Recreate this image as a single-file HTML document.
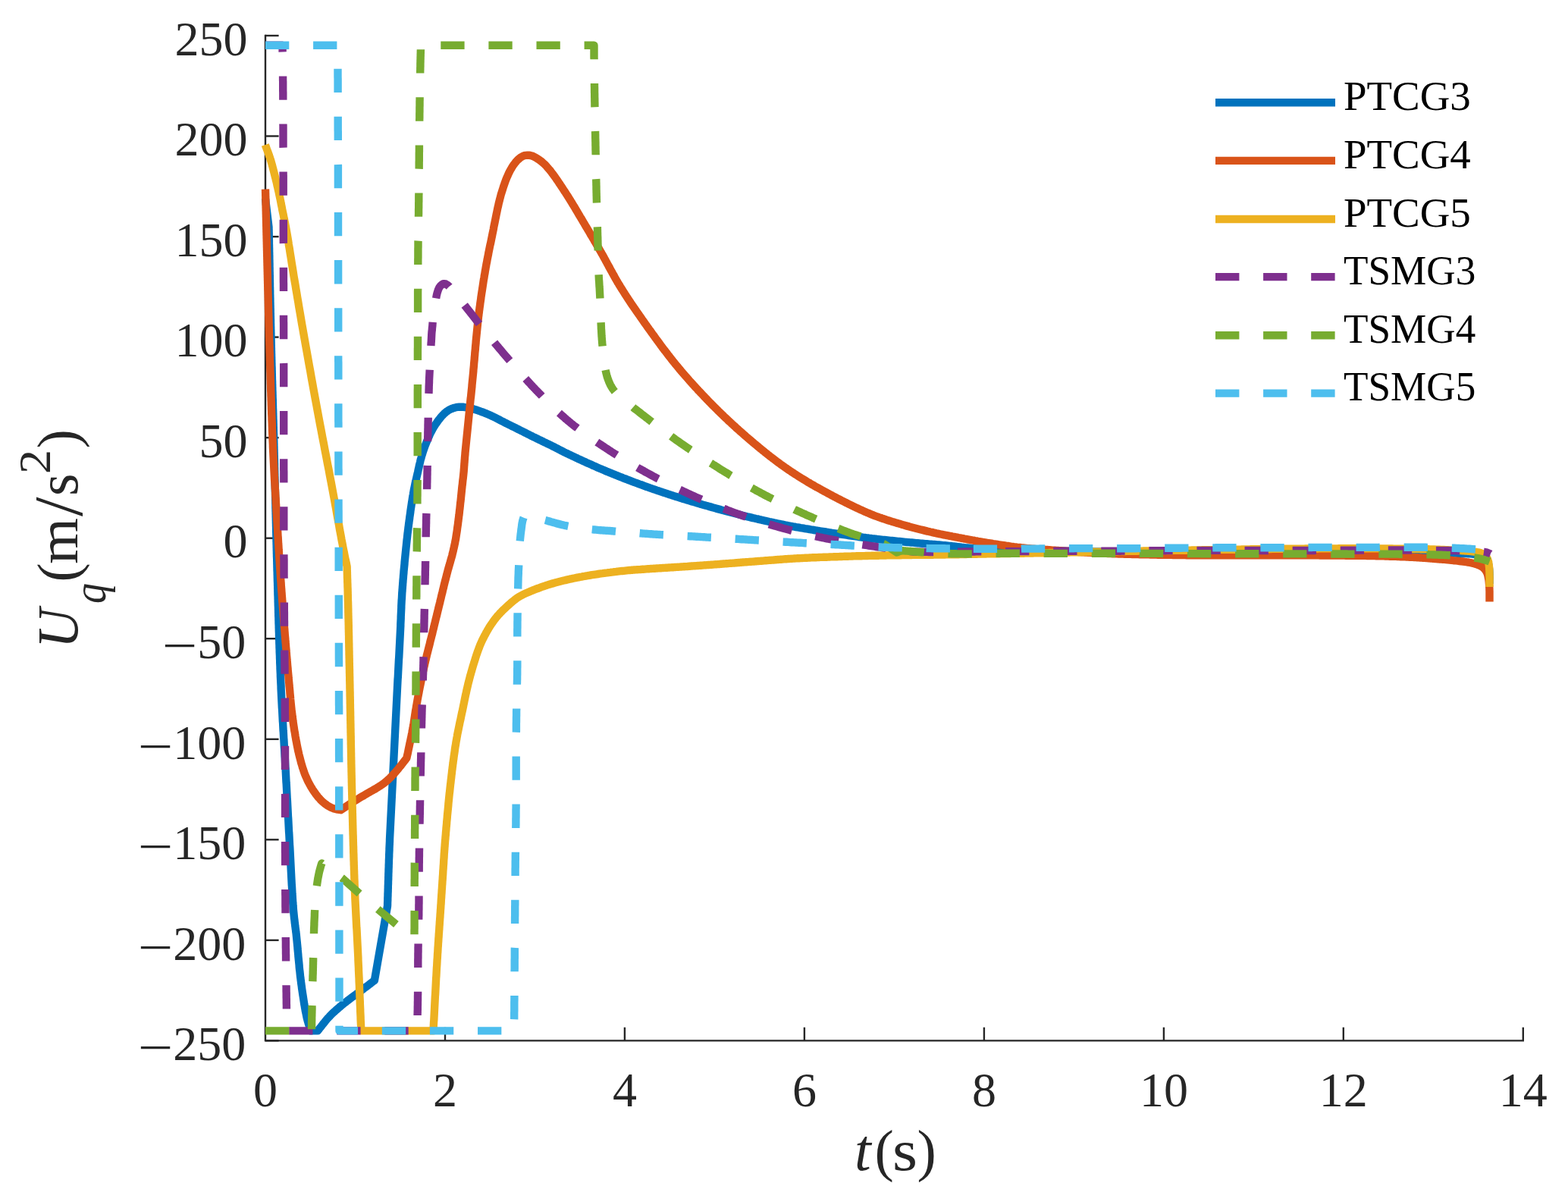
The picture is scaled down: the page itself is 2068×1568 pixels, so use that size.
<!DOCTYPE html>
<html lang="en"><head><meta charset="utf-8"><title>Uq(m/s2) versus t(s)</title>
<style>html,body{margin:0;padding:0;background:#fff}body{width:2068px;height:1568px;overflow:hidden}svg{display:block}</style></head>
<body>
<svg width="2068" height="1568" viewBox="0 0 2068 1568">
<rect width="2068" height="1568" fill="#fff"/>
<g stroke="#262626" stroke-width="2.4" fill="none" stroke-linecap="square">
<path d="M350.0,47.0 L350.0,1372.4 L2008.8,1372.4"/>
</g>
<g stroke="#262626" stroke-width="2.4" fill="none">
<path d="M350.0,47.0 h17.6"/>
<path d="M350.0,179.5 h17.6"/>
<path d="M350.0,312.1 h17.6"/>
<path d="M350.0,444.6 h17.6"/>
<path d="M350.0,577.2 h17.6"/>
<path d="M350.0,709.7 h17.6"/>
<path d="M350.0,842.2 h17.6"/>
<path d="M350.0,974.8 h17.6"/>
<path d="M350.0,1107.3 h17.6"/>
<path d="M350.0,1239.9 h17.6"/>
<path d="M350.0,1372.4 h17.6"/>
<path d="M587.0,1372.4 v-17.6"/>
<path d="M823.9,1372.4 v-17.6"/>
<path d="M1060.9,1372.4 v-17.6"/>
<path d="M1297.9,1372.4 v-17.6"/>
<path d="M1534.9,1372.4 v-17.6"/>
<path d="M1771.8,1372.4 v-17.6"/>
<path d="M2008.8,1372.4 v-17.6"/>
</g>
<g font-family="'Liberation Serif', serif" font-size="64" fill="#262626">
<text x="230.4" y="72.7">250</text>
<text x="230.4" y="205.2">200</text>
<text x="230.4" y="337.8">150</text>
<text x="230.4" y="470.3">100</text>
<text x="262.4" y="602.9">50</text>
<text x="294.4" y="735.4">0</text>
<text y="867.9"><tspan x="213.7" dy="5.2" textLength="46.5" lengthAdjust="spacingAndGlyphs">−</tspan><tspan x="260.2" dy="-5.2">50</tspan></text>
<text y="1000.5"><tspan x="181.7" dy="5.2" textLength="46.5" lengthAdjust="spacingAndGlyphs">−</tspan><tspan x="228.2" dy="-5.2">100</tspan></text>
<text y="1133.0"><tspan x="181.7" dy="5.2" textLength="46.5" lengthAdjust="spacingAndGlyphs">−</tspan><tspan x="228.2" dy="-5.2">150</tspan></text>
<text y="1265.6"><tspan x="181.7" dy="5.2" textLength="46.5" lengthAdjust="spacingAndGlyphs">−</tspan><tspan x="228.2" dy="-5.2">200</tspan></text>
<text y="1398.1"><tspan x="181.7" dy="5.2" textLength="46.5" lengthAdjust="spacingAndGlyphs">−</tspan><tspan x="228.2" dy="-5.2">250</tspan></text>
<text x="350.0" y="1458.8" text-anchor="middle">0</text>
<text x="587.0" y="1458.8" text-anchor="middle">2</text>
<text x="823.9" y="1458.8" text-anchor="middle">4</text>
<text x="1060.9" y="1458.8" text-anchor="middle">6</text>
<text x="1297.9" y="1458.8" text-anchor="middle">8</text>
<text x="1534.9" y="1458.8" text-anchor="middle">10</text>
<text x="1771.8" y="1458.8" text-anchor="middle">12</text>
<text x="2008.8" y="1458.8" text-anchor="middle">14</text>
</g>
<g font-family="'Liberation Serif', serif" fill="#262626">
<text x="1127" y="1543" font-size="78"><tspan font-style="italic">t</tspan><tspan x="1153.5" font-size="76">(</tspan><tspan x="1177" font-size="76" textLength="33" lengthAdjust="spacingAndGlyphs">s</tspan><tspan x="1209.5" font-size="76">)</tspan></text>
<g transform="translate(102,848) rotate(-90)">
<text x="0" y="0" font-size="76"><tspan font-style="italic" x="-7" textLength="52.5" lengthAdjust="spacingAndGlyphs">U</tspan><tspan font-style="italic" font-size="62" x="52" y="37" textLength="27" lengthAdjust="spacingAndGlyphs">q</tspan><tspan x="80.5" y="0">(</tspan><tspan x="104" textLength="61" lengthAdjust="spacingAndGlyphs">m</tspan><tspan x="167" y="6" font-size="92">/</tspan><tspan x="194" y="0">s</tspan><tspan font-size="60" x="223" y="-36" textLength="32" lengthAdjust="spacingAndGlyphs">2</tspan><tspan x="256.5" y="0">)</tspan></text>
</g>
</g>

<path d="M350.0,262.0 L354.5,299.5 L354.5,301.5 L354.6,303.5 L354.6,305.5 L354.7,307.5 L354.7,309.5 L354.7,311.5 L354.8,313.5 L354.8,315.5 L354.9,317.5 L354.9,319.5 L354.9,321.5 L355.0,323.5 L355.0,325.5 L355.1,327.5 L355.1,329.5 L355.1,331.5 L355.2,333.5 L355.2,335.5 L355.3,337.5 L355.3,339.5 L355.3,341.5 L355.4,343.5 L355.4,345.5 L355.5,347.5 L355.5,349.5 L355.5,351.5 L355.6,353.5 L355.6,355.5 L355.6,357.5 L355.7,359.5 L355.7,361.5 L355.8,363.5 L355.8,365.5 L355.8,367.5 L355.9,369.5 L355.9,371.5 L356.0,373.5 L356.0,375.5 L356.0,377.5 L356.1,379.5 L356.1,381.5 L356.2,383.5 L356.2,385.5 L356.2,387.5 L356.3,389.5 L356.3,391.5 L356.4,393.5 L356.4,395.5 L356.4,397.5 L356.5,399.5 L356.5,401.5 L356.6,403.5 L356.6,405.5 L356.7,407.5 L356.7,409.5 L356.7,411.5 L356.8,413.5 L356.8,415.5 L356.9,417.5 L356.9,419.5 L357.0,421.5 L357.0,423.5 L357.0,425.5 L357.1,427.5 L357.1,429.5 L357.2,431.5 L357.2,433.5 L357.3,435.5 L357.3,437.5 L357.4,439.5 L357.4,441.5 L357.5,443.5 L357.5,445.5 L357.6,447.5 L357.6,449.5 L357.7,451.5 L357.7,453.5 L357.8,455.5 L357.8,457.5 L357.9,459.5 L357.9,461.5 L358.0,463.5 L358.0,465.5 L358.1,467.5 L358.1,469.6 L358.2,471.6 L358.2,473.6 L358.3,475.6 L358.3,477.6 L358.4,479.6 L358.4,481.6 L358.5,483.6 L358.6,485.6 L358.6,487.6 L358.7,489.6 L358.7,491.6 L358.8,493.6 L358.8,495.6 L358.9,497.6 L358.9,499.6 L359.0,501.6 L359.1,503.6 L359.1,505.6 L359.2,507.6 L359.2,509.6 L359.3,511.6 L359.3,513.6 L359.4,515.6 L359.5,517.6 L359.5,519.6 L359.6,521.6 L359.6,523.6 L359.7,525.6 L359.8,527.6 L359.8,529.6 L359.9,531.6 L359.9,533.6 L360.0,535.6 L360.0,537.6 L360.1,539.6 L360.2,541.6 L360.2,543.6 L360.3,545.6 L360.3,547.6 L360.4,549.6 L360.4,551.6 L360.5,553.6 L360.6,555.6 L360.6,557.6 L360.7,559.6 L360.7,561.6 L360.8,563.6 L360.8,565.6 L360.9,567.6 L360.9,569.6 L361.0,571.6 L361.1,573.6 L361.1,575.6 L361.2,577.6 L361.2,579.6 L361.3,581.6 L361.3,583.6 L361.4,585.6 L361.4,587.6 L361.5,589.6 L361.5,591.6 L361.6,593.6 L361.6,595.6 L361.7,597.6 L361.7,599.6 L361.8,601.6 L361.8,603.6 L361.9,605.6 L362.0,607.6 L362.0,609.6 L362.1,611.6 L362.1,613.6 L362.1,615.6 L362.2,617.6 L362.2,619.6 L362.3,621.6 L362.3,623.6 L362.4,625.6 L362.4,627.6 L362.5,629.6 L362.5,631.6 L362.6,633.6 L362.6,635.6 L362.7,637.6 L362.7,639.6 L362.8,641.6 L362.8,643.6 L362.9,645.6 L362.9,647.6 L363.0,649.6 L363.0,651.6 L363.1,653.6 L363.1,655.6 L363.2,657.6 L363.2,659.6 L363.3,661.6 L363.3,663.6 L363.4,665.6 L363.4,667.6 L363.4,669.6 L363.5,671.6 L363.5,673.6 L363.6,675.6 L363.6,677.6 L363.7,679.6 L363.7,681.6 L363.8,683.6 L363.8,685.6 L363.9,687.6 L363.9,689.6 L364.0,691.6 L364.0,693.6 L364.1,695.6 L364.1,697.6 L364.2,699.6 L364.2,701.6 L364.3,703.6 L364.3,705.6 L364.4,707.6 L364.4,709.6 L364.5,711.6 L364.5,713.6 L364.6,715.6 L364.6,717.6 L364.7,719.6 L364.7,721.6 L364.8,723.6 L364.8,725.6 L364.9,727.6 L364.9,729.6 L365.0,731.6 L365.0,733.6 L365.1,735.6 L365.2,737.6 L365.2,739.6 L365.3,741.6 L365.3,743.6 L365.4,745.6 L365.4,747.6 L365.5,749.6 L365.5,751.6 L365.6,753.6 L365.7,755.6 L365.7,757.6 L365.8,759.6 L365.8,761.6 L365.9,763.6 L365.9,765.6 L366.0,767.6 L366.1,769.6 L366.1,771.6 L366.2,773.6 L366.2,775.6 L366.3,777.6 L366.3,779.6 L366.4,781.6 L366.4,783.6 L366.5,785.6 L366.6,787.6 L366.6,789.6 L366.7,791.6 L366.7,793.6 L366.8,795.6 L366.8,797.6 L366.9,799.6 L367.0,801.6 L367.0,803.6 L367.1,805.6 L367.1,807.6 L367.2,809.6 L367.2,811.6 L367.3,813.6 L367.4,815.6 L367.4,817.6 L367.5,819.6 L367.5,821.6 L367.6,823.6 L367.7,825.6 L367.7,827.6 L367.8,829.6 L367.8,831.6 L367.9,833.6 L368.0,835.6 L368.0,837.6 L368.1,839.6 L368.1,841.6 L368.2,843.6 L368.3,845.6 L368.3,847.6 L368.4,849.6 L368.5,851.6 L368.5,853.6 L368.6,855.6 L368.7,857.6 L368.7,859.6 L368.8,861.6 L368.9,863.6 L369.0,865.6 L369.0,867.6 L369.1,869.6 L369.2,871.6 L369.2,873.6 L369.3,875.6 L369.4,877.6 L369.5,879.6 L369.5,881.6 L369.6,883.6 L369.7,885.6 L369.8,887.6 L369.9,889.6 L369.9,891.6 L370.0,893.6 L370.1,895.6 L370.2,897.6 L370.3,899.6 L370.4,901.6 L370.5,903.6 L370.6,905.6 L370.6,907.6 L370.7,909.6 L370.8,911.6 L370.9,913.6 L371.0,915.6 L371.1,917.6 L371.2,919.6 L371.3,921.6 L371.4,923.6 L371.5,925.6 L371.6,927.6 L371.7,929.6 L371.8,931.6 L371.9,933.6 L372.1,935.6 L372.2,937.6 L372.3,939.6 L372.4,941.6 L372.5,943.6 L372.6,945.6 L372.7,947.6 L372.8,949.6 L372.9,951.6 L373.1,953.6 L373.2,955.6 L373.3,957.6 L373.4,959.5 L373.5,961.5 L373.6,963.5 L373.8,965.5 L373.9,967.5 L374.0,969.5 L374.1,971.5 L374.2,973.5 L374.4,975.5 L374.5,977.5 L374.6,979.5 L374.7,981.5 L374.8,983.5 L374.9,985.5 L375.1,987.5 L375.2,989.5 L375.3,991.5 L375.4,993.5 L375.5,995.5 L375.6,997.5 L375.8,999.5 L375.9,1001.5 L376.0,1003.5 L376.1,1005.5 L376.2,1007.5 L376.3,1009.5 L376.4,1011.5 L376.6,1013.5 L376.7,1015.5 L376.8,1017.5 L376.9,1019.5 L377.0,1021.5 L377.1,1023.5 L377.2,1025.5 L377.3,1027.5 L377.4,1029.5 L377.5,1031.5 L377.7,1033.5 L377.8,1035.5 L377.9,1037.5 L378.0,1039.5 L378.1,1041.5 L378.2,1043.5 L378.3,1045.5 L378.4,1047.5 L378.5,1049.5 L378.6,1051.4 L378.7,1053.4 L378.9,1055.4 L379.0,1057.4 L379.1,1059.4 L379.2,1061.4 L379.3,1063.4 L379.4,1065.4 L379.5,1067.4 L379.6,1069.4 L379.7,1071.4 L379.8,1073.4 L379.9,1075.4 L380.0,1077.4 L380.2,1079.4 L380.3,1081.4 L380.4,1083.4 L380.5,1085.4 L380.6,1087.4 L380.7,1089.4 L380.8,1091.4 L380.9,1093.4 L381.0,1095.4 L381.1,1097.4 L381.3,1099.4 L381.4,1101.4 L381.5,1103.4 L381.6,1105.4 L381.7,1107.4 L381.8,1109.4 L381.9,1111.4 L382.0,1113.4 L382.1,1115.4 L382.3,1117.4 L382.4,1119.4 L382.5,1121.4 L382.6,1123.4 L382.7,1125.4 L382.8,1127.4 L382.9,1129.4 L383.0,1131.4 L383.1,1133.4 L383.2,1135.4 L383.3,1137.4 L383.4,1139.4 L383.5,1141.4 L383.6,1143.4 L383.7,1145.4 L383.8,1147.4 L383.9,1149.4 L384.0,1151.4 L384.1,1153.4 L384.2,1155.4 L384.3,1157.4 L384.4,1159.4 L384.5,1161.3 L384.6,1163.3 L384.7,1165.3 L384.8,1167.3 L385.0,1169.3 L385.1,1171.3 L385.2,1173.3 L385.3,1175.3 L385.4,1177.3 L385.5,1179.3 L385.7,1181.3 L385.8,1183.3 L385.9,1185.3 L386.0,1187.3 L386.2,1189.3 L386.3,1191.3 L386.5,1193.3 L386.6,1195.3 L386.8,1197.3 L386.9,1199.3 L387.1,1201.3 L387.3,1203.3 L387.5,1205.3 L387.7,1207.3 L387.9,1209.2 L388.1,1211.2 L388.4,1213.2 L388.6,1215.2 L388.8,1217.2 L389.1,1219.2 L389.3,1221.2 L389.6,1223.2 L389.8,1225.1 L390.1,1227.1 L390.3,1229.1 L390.6,1231.1 L390.8,1233.1 L391.0,1235.1 L391.2,1237.1 L391.4,1239.1 L391.6,1241.0 L391.8,1243.0 L392.0,1245.0 L392.2,1247.0 L392.4,1249.0 L392.5,1251.0 L392.7,1253.0 L392.9,1255.0 L393.1,1257.0 L393.3,1259.0 L393.4,1261.0 L393.6,1263.0 L393.8,1265.0 L394.0,1267.0 L394.2,1268.9 L394.4,1270.9 L394.6,1272.9 L394.7,1274.9 L394.9,1276.9 L395.1,1278.9 L395.4,1280.9 L395.6,1282.9 L395.8,1284.9 L396.0,1286.9 L396.2,1288.8 L396.5,1290.8 L396.7,1292.8 L397.0,1294.8 L397.2,1296.8 L397.5,1298.8 L397.8,1300.8 L398.0,1302.7 L398.3,1304.7 L398.6,1306.7 L398.9,1308.7 L399.2,1310.7 L399.5,1312.6 L399.8,1314.6 L400.1,1316.6 L400.4,1318.6 L400.7,1320.6 L401.0,1322.5 L401.3,1324.5 L401.7,1326.5 L402.0,1328.4 L402.4,1330.4 L402.7,1332.4 L403.1,1334.4 L403.5,1336.3 L403.9,1338.3 L404.3,1340.2 L404.7,1342.2 L405.2,1344.1 L405.7,1346.1 L406.3,1348.0 L406.8,1349.9 L407.4,1351.8 L408.1,1353.7 L408.7,1355.6 L409.3,1357.5 L410.0,1359.4 L419.0,1359.4 L420.3,1357.8 L421.5,1356.2 L422.8,1354.7 L424.0,1353.1 L425.2,1351.5 L426.5,1349.9 L427.7,1348.4 L429.0,1346.8 L430.3,1345.2 L431.6,1343.7 L432.9,1342.2 L434.3,1340.7 L435.7,1339.3 L437.1,1337.8 L438.5,1336.4 L440.0,1335.0 L441.5,1333.7 L443.0,1332.3 L444.5,1331.0 L446.0,1329.7 L447.5,1328.4 L449.1,1327.1 L450.6,1325.8 L452.2,1324.5 L453.7,1323.3 L455.3,1322.0 L456.9,1320.8 L458.5,1319.5 L460.1,1318.3 L461.7,1317.1 L463.3,1315.9 L464.9,1314.7 L466.6,1313.5 L468.2,1312.4 L469.8,1311.2 L471.4,1310.0 L473.0,1308.8 L474.7,1307.6 L476.3,1306.4 L477.9,1305.2 L479.5,1303.9 L481.1,1302.7 L482.7,1301.5 L484.3,1300.3 L485.9,1299.1 L487.5,1297.9 L489.1,1296.6 L490.7,1295.4 L492.3,1294.2 L493.9,1293.0 L511.0,1195.0 L511.1,1193.0 L511.1,1191.0 L511.2,1189.0 L511.3,1187.0 L511.3,1185.0 L511.4,1183.0 L511.5,1181.0 L511.5,1179.0 L511.6,1177.0 L511.7,1175.0 L511.7,1173.0 L511.8,1171.0 L511.8,1169.0 L511.9,1167.0 L512.0,1165.0 L512.0,1163.0 L512.1,1161.0 L512.2,1159.0 L512.2,1157.0 L512.3,1155.0 L512.3,1153.0 L512.4,1151.0 L512.5,1149.0 L512.5,1147.0 L512.6,1145.0 L512.7,1143.0 L512.7,1141.0 L512.8,1139.0 L512.9,1137.0 L512.9,1135.0 L513.0,1133.0 L513.1,1131.0 L513.2,1129.0 L513.2,1127.0 L513.3,1125.0 L513.4,1123.0 L513.5,1121.0 L513.5,1119.0 L513.6,1117.0 L513.7,1115.0 L513.8,1113.0 L513.9,1111.0 L514.0,1109.0 L514.0,1107.0 L514.1,1105.0 L514.2,1103.0 L514.3,1101.0 L514.4,1099.1 L514.5,1097.1 L514.6,1095.1 L514.7,1093.1 L514.8,1091.1 L514.9,1089.1 L515.0,1087.1 L515.1,1085.1 L515.2,1083.1 L515.3,1081.1 L515.4,1079.1 L515.5,1077.1 L515.6,1075.1 L515.7,1073.1 L515.8,1071.1 L515.9,1069.1 L516.0,1067.1 L516.1,1065.1 L516.2,1063.1 L516.3,1061.1 L516.4,1059.1 L516.5,1057.1 L516.6,1055.1 L516.7,1053.1 L516.8,1051.1 L516.9,1049.1 L517.0,1047.1 L517.1,1045.1 L517.2,1043.1 L517.3,1041.1 L517.4,1039.1 L517.5,1037.1 L517.6,1035.1 L517.7,1033.1 L517.8,1031.1 L517.9,1029.1 L518.0,1027.1 L518.1,1025.1 L518.2,1023.1 L518.3,1021.1 L518.4,1019.1 L518.5,1017.1 L518.6,1015.2 L518.7,1013.2 L518.8,1011.2 L518.9,1009.2 L519.0,1007.2 L519.1,1005.2 L519.2,1003.2 L519.3,1001.2 L519.4,999.2 L519.5,997.2 L519.6,995.2 L519.7,993.2 L519.8,991.2 L519.9,989.2 L520.0,987.2 L520.1,985.2 L520.2,983.2 L520.3,981.2 L520.4,979.2 L520.5,977.2 L520.6,975.2 L520.7,973.2 L520.8,971.2 L520.9,969.2 L521.0,967.2 L521.1,965.2 L521.2,963.2 L521.3,961.2 L521.4,959.2 L521.5,957.2 L521.6,955.2 L521.7,953.2 L521.8,951.2 L521.9,949.2 L522.0,947.2 L522.1,945.2 L522.2,943.2 L522.3,941.2 L522.4,939.2 L522.5,937.2 L522.6,935.2 L522.7,933.2 L522.8,931.2 L522.9,929.2 L523.0,927.3 L523.1,925.3 L523.2,923.3 L523.3,921.3 L523.4,919.3 L523.5,917.3 L523.6,915.3 L523.7,913.3 L523.8,911.3 L523.9,909.3 L524.0,907.3 L524.1,905.3 L524.2,903.3 L524.3,901.3 L524.4,899.3 L524.5,897.3 L524.6,895.3 L524.8,893.3 L524.9,891.3 L525.0,889.3 L525.1,887.3 L525.2,885.3 L525.3,883.3 L525.4,881.3 L525.5,879.3 L525.6,877.3 L525.7,875.3 L525.8,873.3 L525.9,871.3 L526.0,869.3 L526.2,867.3 L526.3,865.3 L526.4,863.3 L526.5,861.3 L526.6,859.3 L526.7,857.3 L526.8,855.3 L526.9,853.3 L527.0,851.3 L527.1,849.4 L527.2,847.4 L527.3,845.4 L527.4,843.4 L527.5,841.4 L527.6,839.4 L527.7,837.4 L527.8,835.4 L527.9,833.4 L528.0,831.4 L528.1,829.4 L528.2,827.4 L528.3,825.4 L528.3,823.4 L528.4,821.4 L528.5,819.4 L528.6,817.4 L528.7,815.4 L528.7,813.4 L528.8,811.4 L528.9,809.4 L529.0,807.4 L529.1,805.4 L529.2,803.4 L529.3,801.4 L529.3,799.4 L529.4,797.4 L529.5,795.4 L529.6,793.4 L529.7,791.4 L529.9,789.4 L530.0,787.4 L530.1,785.4 L530.2,783.4 L530.3,781.4 L530.5,779.4 L530.6,777.4 L530.8,775.4 L530.9,773.4 L531.1,771.4 L531.2,769.5 L531.4,767.5 L531.5,765.5 L531.7,763.5 L531.9,761.5 L532.0,759.5 L532.2,757.5 L532.4,755.5 L532.5,753.5 L532.7,751.5 L532.9,749.5 L533.1,747.5 L533.3,745.5 L533.5,743.5 L533.6,741.6 L533.8,739.6 L534.0,737.6 L534.2,735.6 L534.4,733.6 L534.6,731.6 L534.8,729.6 L535.0,727.6 L535.2,725.6 L535.4,723.6 L535.6,721.6 L535.8,719.7 L536.0,717.7 L536.2,715.7 L536.4,713.7 L536.6,711.7 L536.9,709.7 L537.1,707.7 L537.3,705.7 L537.5,703.8 L537.8,701.8 L538.0,699.8 L538.3,697.8 L538.5,695.8 L538.8,693.8 L539.0,691.8 L539.3,689.9 L539.5,687.9 L539.8,685.9 L540.1,683.9 L540.3,681.9 L540.6,679.9 L540.9,678.0 L541.2,676.0 L541.4,674.0 L541.7,672.0 L542.0,670.0 L542.3,668.1 L542.6,666.1 L542.9,664.1 L543.2,662.1 L543.5,660.2 L543.8,658.2 L544.1,656.2 L544.4,654.2 L544.8,652.3 L545.1,650.3 L545.5,648.3 L545.8,646.3 L546.2,644.4 L546.6,642.4 L547.0,640.5 L547.4,638.5 L547.8,636.6 L548.3,634.6 L548.7,632.7 L549.2,630.7 L549.6,628.8 L550.1,626.8 L550.5,624.9 L551.0,622.9 L551.4,621.0 L551.8,619.0 L552.3,617.0 L552.7,615.1 L553.1,613.1 L553.6,611.2 L554.1,609.3 L554.5,607.3 L555.0,605.4 L555.6,603.4 L556.1,601.5 L556.7,599.6 L557.3,597.7 L557.9,595.8 L558.5,593.9 L559.2,592.0 L559.8,590.1 L560.5,588.2 L561.2,586.4 L562.0,584.5 L562.7,582.6 L563.5,580.8 L564.2,579.0 L565.0,577.1 L565.9,575.3 L566.7,573.5 L567.5,571.7 L568.4,569.9 L569.4,568.1 L570.3,566.3 L571.3,564.6 L572.3,562.9 L573.4,561.2 L574.5,559.5 L575.7,557.9 L576.8,556.3 L578.0,554.6 L579.2,553.1 L580.4,551.5 L581.7,549.9 L583.0,548.4 L584.4,547.0 L585.8,545.5 L587.3,544.2 L588.8,542.9 L590.5,541.8 L592.1,540.7 L593.9,539.8 L595.7,539.0 L597.6,538.3 L599.5,537.7 L601.5,537.2 L603.5,536.9 L605.4,536.7 L607.4,536.7 L609.4,536.7 L611.4,536.8 L613.4,537.1 L615.4,537.3 L617.4,537.7 L619.3,538.1 L621.3,538.6 L623.2,539.1 L625.1,539.6 L627.0,540.2 L629.0,540.8 L630.8,541.5 L632.7,542.1 L634.6,542.8 L636.5,543.5 L638.4,544.2 L640.2,545.0 L642.1,545.7 L643.9,546.5 L645.7,547.3 L647.6,548.1 L649.4,549.0 L651.2,549.8 L653.0,550.7 L654.8,551.6 L656.5,552.5 L658.3,553.4 L660.1,554.4 L661.9,555.3 L663.7,556.2 L665.4,557.1 L667.2,558.0 L669.0,558.9 L670.8,559.8 L672.6,560.7 L674.4,561.6 L676.2,562.5 L678.0,563.3 L679.8,564.2 L681.5,565.1 L683.3,566.0 L685.1,566.9 L686.9,567.8 L688.7,568.7 L690.5,569.6 L692.3,570.5 L694.1,571.4 L695.9,572.3 L697.6,573.2 L699.4,574.1 L701.2,575.0 L703.0,575.9 L704.8,576.7 L706.6,577.6 L708.4,578.5 L710.2,579.4 L712.0,580.3 L713.8,581.1 L715.6,582.0 L717.4,582.9 L719.2,583.7 L721.0,584.6 L722.8,585.5 L724.6,586.3 L726.4,587.2 L728.2,588.1 L730.0,589.0 L731.8,589.9 L733.6,590.8 L735.3,591.7 L737.1,592.7 L738.9,593.6 L740.7,594.5 L742.5,595.4 L744.2,596.3 L746.0,597.2 L747.8,598.0 L749.6,598.9 L751.4,599.8 L753.2,600.6 L755.1,601.5 L756.9,602.3 L758.7,603.2 L760.5,604.0 L762.3,604.9 L764.1,605.7 L765.9,606.5 L767.8,607.4 L769.6,608.2 L771.4,609.0 L773.2,609.9 L775.0,610.7 L776.9,611.5 L778.7,612.3 L780.5,613.1 L782.3,614.0 L784.2,614.8 L786.0,615.6 L787.8,616.4 L789.7,617.2 L791.5,618.0 L793.3,618.7 L795.2,619.5 L797.0,620.3 L798.9,621.1 L800.7,621.9 L802.6,622.6 L804.4,623.4 L806.3,624.1 L808.1,624.9 L810.0,625.6 L811.8,626.4 L813.7,627.1 L815.5,627.9 L817.4,628.6 L819.3,629.3 L821.1,630.1 L823.0,630.8 L824.9,631.5 L826.7,632.2 L828.6,633.0 L830.5,633.7 L832.3,634.4 L834.2,635.1 L836.1,635.8 L837.9,636.5 L839.8,637.2 L841.7,637.9 L843.6,638.6 L845.5,639.2 L847.3,639.9 L849.2,640.6 L851.1,641.3 L853.0,642.0 L854.9,642.6 L856.8,643.3 L858.6,644.0 L860.5,644.6 L862.4,645.3 L864.3,645.9 L866.2,646.6 L868.1,647.2 L870.0,647.9 L871.9,648.5 L873.8,649.1 L875.7,649.8 L877.6,650.4 L879.5,651.0 L881.4,651.6 L883.3,652.3 L885.2,652.9 L887.1,653.5 L889.0,654.1 L890.9,654.7 L892.8,655.3 L894.7,655.9 L896.6,656.5 L898.5,657.1 L900.4,657.7 L902.4,658.3 L904.3,658.9 L906.2,659.5 L908.1,660.0 L910.0,660.6 L911.9,661.2 L913.8,661.8 L915.8,662.3 L917.7,662.9 L919.6,663.5 L921.5,664.0 L923.4,664.6 L925.4,665.1 L927.3,665.7 L929.2,666.2 L931.1,666.8 L933.1,667.3 L935.0,667.9 L936.9,668.4 L938.8,668.9 L940.8,669.5 L942.7,670.0 L944.6,670.6 L946.5,671.1 L948.5,671.6 L950.4,672.1 L952.3,672.7 L954.3,673.2 L956.2,673.7 L958.1,674.2 L960.1,674.8 L962.0,675.3 L963.9,675.8 L965.9,676.3 L967.8,676.8 L969.7,677.3 L971.7,677.8 L973.6,678.3 L975.5,678.8 L977.5,679.3 L979.4,679.8 L981.4,680.2 L983.3,680.7 L985.2,681.2 L987.2,681.7 L989.1,682.1 L991.1,682.6 L993.0,683.1 L995.0,683.5 L996.9,684.0 L998.9,684.4 L1000.8,684.9 L1002.8,685.3 L1004.7,685.8 L1006.7,686.2 L1008.6,686.7 L1010.6,687.1 L1012.5,687.5 L1014.5,688.0 L1016.4,688.4 L1018.4,688.8 L1020.3,689.2 L1022.3,689.7 L1024.2,690.1 L1026.2,690.5 L1028.2,690.9 L1030.1,691.3 L1032.1,691.7 L1034.0,692.1 L1036.0,692.5 L1038.0,692.9 L1039.9,693.3 L1041.9,693.7 L1043.9,694.0 L1045.8,694.4 L1047.8,694.7 L1049.8,695.1 L1051.7,695.4 L1053.7,695.7 L1055.7,696.1 L1057.7,696.4 L1059.6,696.7 L1061.6,697.1 L1063.6,697.4 L1065.5,697.7 L1067.5,698.0 L1069.5,698.4 L1071.5,698.7 L1073.4,699.0 L1075.4,699.3 L1077.4,699.6 L1079.4,700.0 L1081.3,700.3 L1083.3,700.6 L1085.3,700.9 L1087.3,701.2 L1089.2,701.5 L1091.2,701.8 L1093.2,702.2 L1095.2,702.5 L1097.1,702.8 L1099.1,703.1 L1101.1,703.4 L1103.1,703.7 L1105.1,704.0 L1107.0,704.3 L1109.0,704.6 L1111.0,704.9 L1113.0,705.2 L1114.9,705.4 L1116.9,705.7 L1118.9,706.0 L1120.9,706.3 L1122.9,706.6 L1124.8,706.9 L1126.8,707.2 L1128.8,707.4 L1130.8,707.7 L1132.8,708.0 L1134.8,708.3 L1136.7,708.5 L1138.7,708.8 L1140.7,709.0 L1142.7,709.3 L1144.7,709.5 L1146.7,709.8 L1148.6,710.0 L1150.6,710.3 L1152.6,710.5 L1154.6,710.7 L1156.6,711.0 L1158.6,711.2 L1160.6,711.4 L1162.6,711.6 L1164.5,711.8 L1166.5,712.0 L1168.5,712.2 L1170.5,712.4 L1172.5,712.6 L1174.5,712.8 L1176.5,713.0 L1178.5,713.2 L1180.5,713.4 L1182.5,713.6 L1184.4,713.8 L1186.4,714.0 L1188.4,714.2 L1190.4,714.4 L1192.4,714.6 L1194.4,714.8 L1196.4,715.0 L1198.4,715.1 L1200.4,715.3 L1202.4,715.5 L1204.4,715.7 L1206.3,715.9 L1208.3,716.1 L1210.3,716.2 L1212.3,716.4 L1214.3,716.6 L1216.3,716.7 L1218.3,716.9 L1220.3,717.1 L1222.3,717.2 L1224.3,717.4 L1226.3,717.6 L1228.3,717.7 L1230.3,717.9 L1232.3,718.0 L1234.3,718.2 L1236.2,718.4 L1238.2,718.5 L1240.2,718.7 L1242.2,718.9 L1244.2,719.1 L1246.2,719.2 L1248.2,719.4 L1250.2,719.6 L1252.2,719.8 L1254.2,720.0 L1256.2,720.3 L1258.1,720.5 L1260.1,720.7 L1262.1,721.0 L1264.1,721.2 L1266.1,721.4 L1268.1,721.7 L1270.1,721.9 L1272.1,722.1 L1274.0,722.3 L1276.0,722.5 L1278.0,722.7 L1280.0,722.8 L1282.0,723.0 L1284.0,723.1 L1286.0,723.3 L1288.0,723.4 L1290.0,723.5 L1292.0,723.6 L1294.0,723.7 L1296.0,723.8 L1298.0,723.9 L1300.0,724.0 L1302.0,724.1 L1304.0,724.2 L1306.0,724.3 L1308.0,724.3 L1310.0,724.4 L1312.0,724.5 L1314.0,724.5 L1316.0,724.6 L1318.0,724.7 L1320.0,724.7 L1322.0,724.8 L1324.0,724.9 L1326.0,724.9 L1328.0,725.0 L1330.0,725.0 L1332.0,725.1 L1334.0,725.2 L1336.0,725.2 L1338.0,725.3 L1340.0,725.3 L1342.0,725.4 L1344.0,725.4 L1346.0,725.5 L1348.0,725.5 L1350.0,725.6 L1352.0,725.7 L1354.0,725.7 L1356.0,725.8 L1358.0,725.8 L1360.0,725.9 L1362.0,725.9 L1364.0,726.0 L1366.0,726.0 L1368.0,726.1 L1370.0,726.1 L1372.0,726.2 L1374.0,726.2 L1376.0,726.3 L1378.0,726.3 L1380.0,726.4 L1382.0,726.4 L1384.0,726.4 L1386.0,726.5 L1388.0,726.5 L1390.0,726.6 L1392.0,726.6 L1394.0,726.6 L1396.0,726.7 L1398.0,726.7 L1400.0,726.7 L1402.0,726.8 L1404.0,726.8 L1406.0,726.9 L1408.0,726.9 L1410.0,726.9 L1412.0,727.0 L1414.0,727.0 L1416.0,727.0 L1418.0,727.0 L1420.0,727.1 L1422.0,727.1 L1424.0,727.1 L1426.0,727.2 L1428.0,727.2 L1430.0,727.2 L1432.0,727.2 L1434.0,727.3 L1436.0,727.3 L1438.0,727.3 L1440.0,727.3 L1442.0,727.4 L1444.0,727.4 L1446.0,727.4 L1448.0,727.4 L1450.0,727.5 L1452.0,727.5 L1454.0,727.5 L1456.0,727.5 L1458.0,727.5 L1460.0,727.5 L1462.0,727.6 L1464.0,727.6 L1466.0,727.6 L1468.0,727.6 L1470.0,727.6 L1472.0,727.6 L1474.0,727.6 L1476.0,727.7 L1478.0,727.7 L1480.0,727.7 L1482.0,727.7 L1484.0,727.7 L1486.0,727.7 L1488.0,727.7 L1490.0,727.7 L1492.0,727.7 L1494.0,727.7 L1496.0,727.8 L1498.0,727.8 L1500.0,727.8 L1502.0,727.8 L1504.0,727.8 L1506.0,727.8 L1508.0,727.8 L1510.0,727.8 L1512.0,727.8 L1514.0,727.8 L1516.0,727.8 L1518.0,727.8 L1520.0,727.8 L1522.0,727.8 L1524.0,727.8 L1526.0,727.8 L1528.0,727.8 L1530.0,727.9 L1532.0,727.9 L1534.0,727.9 L1536.0,727.9 L1538.0,727.9 L1540.0,727.9 L1542.0,727.9 L1544.0,727.9 L1546.0,727.9 L1548.0,727.9 L1550.0,727.9 L1552.0,727.9 L1554.0,727.9 L1556.0,727.9 L1558.0,727.9 L1560.0,727.9 L1562.0,727.9 L1564.0,727.9 L1566.0,727.9 L1568.0,727.9 L1570.0,727.9 L1572.0,727.9 L1574.0,727.9 L1576.0,727.9 L1578.0,727.9 L1580.0,727.9 L1582.0,728.0 L1584.0,728.0 L1586.0,728.0 L1588.0,728.0 L1590.0,728.0 L1592.0,728.0 L1594.0,728.0 L1596.0,728.0 L1598.0,728.0 L1600.0,728.0 L1602.0,728.0 L1604.0,728.0 L1606.0,728.0 L1608.0,728.0 L1610.0,728.0 L1612.0,728.0 L1614.0,728.0 L1616.0,728.1 L1618.0,728.1 L1620.0,728.1 L1622.0,728.1 L1624.0,728.1 L1626.0,728.1 L1628.0,728.1 L1630.0,728.1 L1632.0,728.1 L1634.0,728.1 L1636.0,728.1 L1638.0,728.1 L1640.0,728.1 L1642.0,728.1 L1644.0,728.1 L1646.0,728.1 L1648.0,728.1 L1650.0,728.1 L1652.0,728.1 L1654.0,728.2 L1656.0,728.2 L1658.0,728.2 L1660.0,728.2 L1662.0,728.2 L1664.0,728.2 L1666.0,728.2 L1668.0,728.2 L1670.0,728.2 L1672.0,728.2 L1674.0,728.2 L1676.0,728.2 L1678.0,728.2 L1680.0,728.2 L1682.0,728.2 L1684.0,728.2 L1686.0,728.2 L1688.0,728.3 L1690.0,728.3 L1692.0,728.3 L1694.0,728.3 L1696.0,728.3 L1698.0,728.3 L1700.0,728.3 L1702.0,728.3 L1704.0,728.3 L1706.0,728.3 L1708.0,728.3 L1710.0,728.3 L1712.0,728.3 L1714.0,728.4 L1716.0,728.4 L1718.0,728.4 L1720.0,728.4 L1722.0,728.4 L1724.0,728.4 L1726.0,728.4 L1728.0,728.4 L1730.0,728.4 L1732.0,728.4 L1734.0,728.4 L1736.0,728.4 L1738.0,728.4 L1740.0,728.5 L1742.0,728.5 L1744.0,728.5 L1746.0,728.5 L1748.0,728.5 L1750.0,728.5 L1752.0,728.5 L1754.0,728.5 L1756.0,728.5 L1758.0,728.5 L1760.0,728.5 L1762.0,728.5 L1764.0,728.6 L1766.0,728.6 L1768.0,728.6 L1770.0,728.6 L1772.0,728.6 L1774.0,728.6 L1776.0,728.6 L1778.0,728.6 L1780.0,728.6 L1782.0,728.6 L1784.0,728.6 L1786.0,728.7 L1788.0,728.7 L1790.0,728.7 L1792.0,728.7 L1794.0,728.7 L1796.0,728.7 L1798.0,728.7 L1800.0,728.7 L1802.0,728.7 L1804.0,728.7 L1806.0,728.7 L1808.0,728.8 L1810.0,728.8 L1812.0,728.8 L1814.0,728.8 L1816.0,728.8 L1818.0,728.8 L1820.0,728.8 L1822.0,728.8 L1824.0,728.8 L1826.0,728.9 L1828.0,728.9 L1830.0,728.9 L1832.0,728.9 L1834.0,728.9 L1836.0,728.9 L1838.0,728.9 L1840.0,728.9 L1842.0,728.9 L1844.0,729.0 L1846.0,729.0 L1848.0,729.0 L1850.0,729.0 L1852.0,729.0 L1854.0,729.0 L1856.0,729.0 L1858.0,729.1 L1860.0,729.1 L1862.0,729.1 L1864.0,729.1 L1866.0,729.1 L1868.0,729.1 L1870.0,729.2 L1872.0,729.2 L1874.0,729.2 L1876.0,729.2 L1878.0,729.2 L1880.0,729.2 L1882.0,729.3 L1884.0,729.3 L1886.0,729.3 L1888.0,729.3 L1890.0,729.3 L1892.0,729.4 L1894.0,729.4 L1896.0,729.4 L1898.0,729.4 L1900.0,729.4 L1902.0,729.5 L1904.0,729.5 L1906.0,729.5 L1908.0,729.5 L1910.0,729.5 L1912.0,729.6 L1914.0,729.6 L1916.0,729.6 L1918.0,729.6 L1920.0,729.6 L1922.0,729.7 L1924.0,729.7 L1926.0,729.7 L1927.6,729.8 L1929.3,729.9 L1930.9,730.0 L1932.6,730.1 L1934.3,730.1 L1936.0,730.2 L1937.6,730.3 L1939.2,730.4 L1940.8,730.5 L1942.3,730.7 L1943.7,730.8 L1945.0,731.0 L1945.8,731.1 L1946.6,731.3 L1947.4,731.4 L1948.2,731.5 L1948.9,731.7 L1949.6,731.8 L1950.3,732.0 L1950.9,732.1 L1951.6,732.3 L1952.2,732.5 L1952.9,732.8 L1953.5,733.0 L1954.0,733.2 L1954.6,733.5 L1955.1,733.7 L1955.6,734.0 L1956.2,734.3 L1956.7,734.5 L1957.2,734.8 L1957.6,735.2 L1958.1,735.5 L1958.5,735.8 L1958.9,736.1 L1959.3,736.5 L1959.6,736.8 L1959.9,737.2 L1960.2,737.5 L1960.5,737.9 L1960.7,738.2 L1961.0,738.6 L1961.2,739.0 L1961.4,739.3 L1961.6,739.7 L1961.8,740.2 L1962.0,740.6 L1962.2,741.0 L1962.4,741.5 L1962.6,742.0 L1962.8,742.6 L1962.9,743.1 L1963.0,743.7 L1963.2,744.3 L1963.3,744.9 L1963.4,745.5 L1963.5,746.1 L1963.6,746.7 L1963.7,747.4 L1963.8,748.0 L1963.9,748.8 L1964.0,749.5 L1964.1,750.3 L1964.2,751.2 L1964.2,752.0 L1964.3,752.8 L1964.3,753.7 L1964.4,754.5 L1964.4,755.4 L1964.4,756.3 L1964.5,757.1 L1964.5,758.0 L1964.5,759.0 L1964.5,759.9 L1964.6,760.9 L1964.6,761.9 L1964.6,762.9 L1964.6,763.9 L1964.5,764.9 L1964.5,766.0 L1964.5,767.0 L1964.5,768.0 L1964.5,769.0 L1964.5,770.0" fill="none" stroke="#0072BD" stroke-width="10.4" stroke-linejoin="round" stroke-linecap="butt"/>
<path d="M350.0,249.5 L350.1,251.5 L350.1,253.5 L350.2,255.5 L350.2,257.5 L350.3,259.5 L350.3,261.5 L350.4,263.5 L350.4,265.5 L350.5,267.5 L350.5,269.5 L350.6,271.5 L350.6,273.5 L350.7,275.5 L350.7,277.5 L350.8,279.5 L350.8,281.5 L350.9,283.5 L350.9,285.4 L351.0,287.4 L351.0,289.4 L351.1,291.4 L351.1,293.4 L351.2,295.4 L351.2,297.4 L351.3,299.4 L351.3,301.4 L351.4,303.4 L351.4,305.4 L351.5,307.4 L351.5,309.4 L351.6,311.4 L351.6,313.4 L351.7,315.4 L351.7,317.4 L351.8,319.4 L351.8,321.4 L351.9,323.4 L351.9,325.4 L352.0,327.4 L352.0,329.4 L352.1,331.4 L352.1,333.4 L352.2,335.4 L352.2,337.4 L352.3,339.4 L352.3,341.4 L352.4,343.4 L352.4,345.4 L352.5,347.4 L352.5,349.4 L352.6,351.4 L352.6,353.3 L352.7,355.3 L352.7,357.3 L352.8,359.3 L352.8,361.3 L352.9,363.3 L352.9,365.3 L353.0,367.3 L353.0,369.3 L353.1,371.3 L353.1,373.3 L353.2,375.3 L353.2,377.3 L353.3,379.3 L353.3,381.3 L353.4,383.3 L353.5,385.3 L353.5,387.3 L353.6,389.3 L353.6,391.3 L353.7,393.3 L353.7,395.3 L353.8,397.3 L353.8,399.3 L353.9,401.3 L353.9,403.3 L354.0,405.3 L354.0,407.3 L354.1,409.3 L354.1,411.3 L354.2,413.3 L354.2,415.3 L354.3,417.3 L354.4,419.3 L354.4,421.3 L354.5,423.2 L354.5,425.2 L354.6,427.2 L354.6,429.2 L354.7,431.2 L354.8,433.2 L354.8,435.2 L354.9,437.2 L354.9,439.2 L355.0,441.2 L355.0,443.2 L355.1,445.2 L355.2,447.2 L355.2,449.2 L355.3,451.2 L355.3,453.2 L355.4,455.2 L355.5,457.2 L355.5,459.2 L355.6,461.2 L355.6,463.2 L355.7,465.2 L355.8,467.2 L355.8,469.2 L355.9,471.2 L355.9,473.2 L356.0,475.2 L356.1,477.2 L356.1,479.2 L356.2,481.2 L356.3,483.2 L356.3,485.2 L356.4,487.1 L356.4,489.1 L356.5,491.1 L356.6,493.1 L356.6,495.1 L356.7,497.1 L356.7,499.1 L356.8,501.1 L356.9,503.1 L356.9,505.1 L357.0,507.1 L357.1,509.1 L357.1,511.1 L357.2,513.1 L357.2,515.1 L357.3,517.1 L357.4,519.1 L357.4,521.1 L357.5,523.1 L357.6,525.1 L357.6,527.1 L357.7,529.1 L357.8,531.1 L357.8,533.1 L357.9,535.1 L358.0,537.1 L358.0,539.1 L358.1,541.1 L358.2,543.1 L358.2,545.1 L358.3,547.0 L358.4,549.0 L358.5,551.0 L358.5,553.0 L358.6,555.0 L358.7,557.0 L358.8,559.0 L358.8,561.0 L358.9,563.0 L359.0,565.0 L359.0,567.0 L359.1,569.0 L359.2,571.0 L359.3,573.0 L359.4,575.0 L359.4,577.0 L359.5,579.0 L359.6,581.0 L359.7,583.0 L359.8,585.0 L359.9,587.0 L359.9,589.0 L360.0,591.0 L360.1,593.0 L360.2,595.0 L360.3,597.0 L360.4,598.9 L360.5,600.9 L360.6,602.9 L360.7,604.9 L360.8,606.9 L360.9,608.9 L361.0,610.9 L361.1,612.9 L361.2,614.9 L361.3,616.9 L361.4,618.9 L361.5,620.9 L361.6,622.9 L361.7,624.9 L361.8,626.9 L361.9,628.9 L362.0,630.9 L362.1,632.9 L362.3,634.9 L362.4,636.9 L362.5,638.8 L362.6,640.8 L362.7,642.8 L362.8,644.8 L363.0,646.8 L363.1,648.8 L363.2,650.8 L363.3,652.8 L363.4,654.8 L363.6,656.8 L363.7,658.8 L363.8,660.8 L363.9,662.8 L364.0,664.8 L364.2,666.8 L364.3,668.8 L364.4,670.8 L364.5,672.7 L364.6,674.7 L364.8,676.7 L364.9,678.7 L365.0,680.7 L365.1,682.7 L365.2,684.7 L365.3,686.7 L365.5,688.7 L365.6,690.7 L365.7,692.7 L365.8,694.7 L365.9,696.7 L366.1,698.7 L366.2,700.7 L366.3,702.7 L366.4,704.7 L366.5,706.7 L366.7,708.6 L366.8,710.6 L366.9,712.6 L367.0,714.6 L367.1,716.6 L367.3,718.6 L367.4,720.6 L367.5,722.6 L367.6,724.6 L367.8,726.6 L367.9,728.6 L368.0,730.6 L368.1,732.6 L368.3,734.6 L368.4,736.6 L368.5,738.6 L368.7,740.5 L368.8,742.5 L368.9,744.5 L369.0,746.5 L369.2,748.5 L369.3,750.5 L369.5,752.5 L369.6,754.5 L369.7,756.5 L369.9,758.5 L370.0,760.5 L370.1,762.5 L370.3,764.5 L370.4,766.5 L370.6,768.4 L370.7,770.4 L370.8,772.4 L371.0,774.4 L371.1,776.4 L371.3,778.4 L371.4,780.4 L371.6,782.4 L371.7,784.4 L371.9,786.4 L372.0,788.4 L372.2,790.4 L372.3,792.4 L372.5,794.4 L372.6,796.3 L372.8,798.3 L372.9,800.3 L373.1,802.3 L373.2,804.3 L373.4,806.3 L373.5,808.3 L373.7,810.3 L373.8,812.3 L374.0,814.3 L374.2,816.3 L374.3,818.3 L374.5,820.2 L374.6,822.2 L374.8,824.2 L374.9,826.2 L375.1,828.2 L375.3,830.2 L375.4,832.2 L375.6,834.2 L375.7,836.2 L375.9,838.2 L376.1,840.2 L376.2,842.1 L376.4,844.1 L376.5,846.1 L376.7,848.1 L376.9,850.1 L377.0,852.1 L377.2,854.1 L377.4,856.1 L377.5,858.1 L377.7,860.1 L377.9,862.1 L378.0,864.1 L378.2,866.0 L378.4,868.0 L378.5,870.0 L378.7,872.0 L378.9,874.0 L379.0,876.0 L379.2,878.0 L379.4,880.0 L379.6,882.0 L379.7,884.0 L379.9,885.9 L380.1,887.9 L380.3,889.9 L380.5,891.9 L380.6,893.9 L380.8,895.9 L381.0,897.9 L381.2,899.9 L381.4,901.9 L381.5,903.8 L381.7,905.8 L381.9,907.8 L382.1,909.8 L382.3,911.8 L382.4,913.8 L382.6,915.8 L382.8,917.8 L383.0,919.8 L383.1,921.8 L383.3,923.7 L383.5,925.7 L383.7,927.7 L383.9,929.7 L384.1,931.7 L384.3,933.7 L384.5,935.7 L384.7,937.7 L385.0,939.6 L385.2,941.6 L385.5,943.6 L385.7,945.6 L386.0,947.6 L386.3,949.5 L386.5,951.5 L386.8,953.5 L387.1,955.5 L387.4,957.5 L387.7,959.4 L388.0,961.4 L388.3,963.4 L388.7,965.4 L389.0,967.3 L389.3,969.3 L389.6,971.3 L390.0,973.2 L390.3,975.2 L390.7,977.2 L391.1,979.1 L391.4,981.1 L391.8,983.1 L392.2,985.0 L392.6,987.0 L393.0,988.9 L393.4,990.9 L393.9,992.8 L394.3,994.8 L394.8,996.7 L395.3,998.6 L395.8,1000.6 L396.3,1002.5 L396.8,1004.4 L397.3,1006.4 L397.9,1008.3 L398.5,1010.2 L399.0,1012.1 L399.7,1014.0 L400.3,1015.9 L400.9,1017.8 L401.6,1019.7 L402.3,1021.5 L403.1,1023.4 L403.9,1025.2 L404.7,1027.1 L405.5,1028.9 L406.4,1030.7 L407.3,1032.4 L408.3,1034.2 L409.2,1035.9 L410.2,1037.7 L411.3,1039.4 L412.3,1041.1 L413.4,1042.7 L414.6,1044.4 L415.7,1046.0 L416.9,1047.7 L418.1,1049.2 L419.3,1050.8 L420.6,1052.3 L422.0,1053.8 L423.3,1055.3 L424.8,1056.7 L426.2,1058.0 L427.8,1059.3 L429.4,1060.5 L431.0,1061.7 L432.6,1062.8 L434.4,1063.8 L436.1,1064.7 L438.0,1065.5 L439.8,1066.2 L441.7,1066.8 L443.7,1067.3 L445.6,1067.6 L447.6,1067.9 L449.6,1068.2 L467.7,1056.2 L469.4,1055.2 L471.1,1054.2 L472.9,1053.1 L474.6,1052.1 L476.3,1051.1 L478.0,1050.1 L479.8,1049.1 L481.5,1048.0 L483.2,1047.0 L484.9,1046.0 L486.7,1045.0 L488.4,1044.0 L490.2,1043.0 L491.9,1042.1 L493.6,1041.1 L495.4,1040.1 L497.1,1039.0 L498.8,1038.0 L500.5,1036.9 L502.2,1035.8 L503.8,1034.7 L505.5,1033.5 L507.1,1032.3 L508.6,1031.1 L510.2,1029.8 L511.7,1028.5 L513.1,1027.1 L514.6,1025.7 L516.0,1024.3 L517.4,1022.8 L518.7,1021.4 L520.1,1019.9 L521.4,1018.4 L522.7,1016.8 L524.0,1015.3 L525.3,1013.8 L526.5,1012.2 L527.8,1010.7 L529.1,1009.1 L530.3,1007.5 L531.5,1006.0 L532.7,1004.4 L534.0,1002.8 L535.2,1001.2 L536.4,999.6 L536.8,997.6 L537.2,995.7 L537.7,993.7 L538.1,991.8 L538.5,989.8 L538.9,987.8 L539.3,985.9 L539.7,983.9 L540.1,982.0 L540.5,980.0 L541.0,978.0 L541.4,976.1 L541.8,974.1 L542.2,972.2 L542.6,970.2 L543.0,968.2 L543.4,966.3 L543.7,964.3 L544.1,962.3 L544.5,960.4 L544.8,958.4 L545.1,956.4 L545.5,954.4 L545.8,952.5 L546.1,950.5 L546.4,948.5 L546.7,946.5 L547.0,944.6 L547.3,942.6 L547.6,940.6 L547.9,938.6 L548.2,936.6 L548.6,934.7 L548.9,932.7 L549.2,930.7 L549.6,928.7 L549.9,926.8 L550.3,924.8 L550.6,922.8 L551.0,920.9 L551.3,918.9 L551.7,916.9 L552.1,915.0 L552.5,913.0 L552.8,911.0 L553.2,909.1 L553.6,907.1 L554.0,905.1 L554.4,903.2 L554.8,901.2 L555.2,899.2 L555.6,897.3 L556.0,895.3 L556.4,893.3 L556.8,891.4 L557.2,889.4 L557.6,887.5 L558.0,885.5 L558.5,883.6 L558.9,881.6 L559.3,879.6 L559.8,877.7 L560.2,875.7 L560.7,873.8 L561.1,871.8 L561.6,869.9 L562.0,867.9 L562.5,866.0 L562.9,864.0 L563.4,862.1 L563.9,860.2 L564.4,858.2 L564.9,856.3 L565.4,854.3 L565.9,852.4 L566.4,850.4 L566.9,848.5 L567.3,846.6 L567.8,844.6 L568.3,842.7 L568.8,840.7 L569.3,838.8 L569.8,836.9 L570.3,834.9 L570.7,833.0 L571.2,831.0 L571.7,829.1 L572.2,827.1 L572.6,825.2 L573.1,823.2 L573.6,821.3 L574.1,819.3 L574.5,817.4 L575.0,815.5 L575.5,813.5 L576.0,811.6 L576.5,809.6 L576.9,807.7 L577.4,805.7 L577.9,803.8 L578.4,801.8 L578.8,799.9 L579.3,798.0 L579.8,796.0 L580.3,794.1 L580.7,792.1 L581.2,790.2 L581.7,788.2 L582.1,786.3 L582.6,784.3 L583.1,782.4 L583.6,780.4 L584.0,778.5 L584.5,776.5 L585.0,774.6 L585.4,772.7 L585.9,770.7 L586.4,768.8 L586.9,766.8 L587.4,764.9 L587.9,762.9 L588.4,761.0 L588.9,759.1 L589.4,757.1 L589.9,755.2 L590.4,753.3 L590.9,751.3 L591.5,749.4 L592.0,747.5 L592.6,745.5 L593.1,743.6 L593.7,741.7 L594.2,739.8 L594.8,737.8 L595.3,735.9 L595.9,734.0 L596.4,732.1 L596.8,730.1 L597.3,728.2 L597.8,726.2 L598.2,724.3 L598.7,722.3 L599.1,720.4 L599.5,718.4 L600.0,716.5 L600.3,714.5 L600.7,712.5 L601.1,710.6 L601.4,708.6 L601.7,706.6 L602.0,704.6 L602.3,702.7 L602.6,700.7 L602.9,698.7 L603.1,696.7 L603.4,694.7 L603.7,692.8 L604.0,690.8 L604.2,688.8 L604.5,686.8 L604.7,684.8 L605.0,682.8 L605.2,680.8 L605.5,678.9 L605.7,676.9 L605.9,674.9 L606.1,672.9 L606.4,670.9 L606.6,668.9 L606.8,666.9 L607.0,664.9 L607.2,663.0 L607.5,661.0 L607.7,659.0 L607.9,657.0 L608.1,655.0 L608.3,653.0 L608.5,651.0 L608.7,649.0 L608.9,647.0 L609.1,645.0 L609.3,643.1 L609.5,641.1 L609.8,639.1 L610.0,637.1 L610.2,635.1 L610.4,633.1 L610.7,631.1 L610.9,629.1 L611.1,627.2 L611.3,625.2 L611.5,623.2 L611.7,621.2 L611.8,619.2 L612.0,617.2 L612.1,615.2 L612.3,613.2 L612.4,611.2 L612.6,609.2 L612.7,607.2 L612.9,605.2 L613.0,603.2 L613.2,601.2 L613.4,599.2 L613.5,597.2 L613.7,595.3 L613.9,593.3 L614.1,591.3 L614.3,589.3 L614.5,587.3 L614.7,585.3 L614.9,583.3 L615.1,581.3 L615.3,579.3 L615.5,577.3 L615.7,575.3 L615.9,573.4 L616.1,571.4 L616.3,569.4 L616.5,567.4 L616.7,565.4 L616.9,563.4 L617.1,561.4 L617.3,559.4 L617.5,557.4 L617.7,555.4 L617.9,553.5 L618.1,551.5 L618.3,549.5 L618.5,547.5 L618.7,545.5 L618.9,543.5 L619.1,541.5 L619.3,539.5 L619.5,537.5 L619.7,535.5 L619.9,533.6 L620.1,531.6 L620.3,529.6 L620.5,527.6 L620.7,525.6 L621.0,523.6 L621.2,521.6 L621.4,519.6 L621.6,517.6 L621.8,515.6 L622.0,513.6 L622.2,511.7 L622.4,509.7 L622.5,507.7 L622.7,505.7 L622.9,503.7 L623.1,501.7 L623.3,499.7 L623.5,497.7 L623.7,495.7 L623.9,493.7 L624.1,491.7 L624.3,489.8 L624.4,487.8 L624.6,485.8 L624.8,483.8 L625.0,481.8 L625.1,479.8 L625.3,477.8 L625.5,475.8 L625.7,473.8 L625.8,471.8 L626.0,469.8 L626.2,467.8 L626.3,465.8 L626.5,463.8 L626.7,461.9 L626.9,459.9 L627.0,457.9 L627.2,455.9 L627.4,453.9 L627.6,451.9 L627.7,449.9 L627.9,447.9 L628.1,445.9 L628.3,443.9 L628.5,441.9 L628.7,439.9 L628.9,437.9 L629.1,436.0 L629.3,434.0 L629.5,432.0 L629.7,430.0 L629.9,428.0 L630.1,426.0 L630.3,424.0 L630.6,422.0 L630.8,420.0 L631.0,418.1 L631.3,416.1 L631.5,414.1 L631.8,412.1 L632.0,410.1 L632.3,408.1 L632.5,406.2 L632.8,404.2 L633.1,402.2 L633.3,400.2 L633.6,398.2 L633.9,396.2 L634.2,394.3 L634.4,392.3 L634.7,390.3 L635.0,388.3 L635.3,386.3 L635.6,384.4 L635.9,382.4 L636.2,380.4 L636.5,378.4 L636.8,376.5 L637.1,374.5 L637.4,372.5 L637.7,370.5 L638.0,368.5 L638.4,366.6 L638.7,364.6 L639.0,362.6 L639.4,360.7 L639.7,358.7 L640.0,356.7 L640.4,354.7 L640.7,352.8 L641.1,350.8 L641.4,348.8 L641.8,346.9 L642.2,344.9 L642.5,342.9 L642.9,341.0 L643.3,339.0 L643.7,337.0 L644.1,335.1 L644.4,333.1 L644.8,331.2 L645.2,329.2 L645.6,327.2 L646.0,325.3 L646.4,323.3 L646.9,321.4 L647.3,319.4 L647.7,317.4 L648.1,315.5 L648.5,313.5 L648.9,311.6 L649.3,309.6 L649.7,307.6 L650.1,305.7 L650.5,303.7 L650.9,301.8 L651.2,299.8 L651.6,297.8 L652.0,295.9 L652.4,293.9 L652.8,291.9 L653.2,290.0 L653.6,288.0 L654.0,286.1 L654.4,284.1 L654.8,282.1 L655.2,280.2 L655.6,278.2 L656.0,276.3 L656.4,274.3 L656.9,272.4 L657.3,270.4 L657.7,268.5 L658.2,266.5 L658.7,264.6 L659.2,262.6 L659.7,260.7 L660.2,258.8 L660.7,256.8 L661.3,254.9 L661.9,253.0 L662.5,251.1 L663.1,249.2 L663.7,247.3 L664.3,245.4 L665.0,243.5 L665.6,241.6 L666.3,239.7 L667.0,237.8 L667.7,236.0 L668.5,234.1 L669.3,232.3 L670.1,230.4 L670.9,228.6 L671.8,226.8 L672.7,225.1 L673.7,223.3 L674.7,221.6 L675.7,219.9 L676.8,218.2 L678.0,216.6 L679.2,215.0 L680.5,213.4 L681.8,211.9 L683.2,210.5 L684.7,209.2 L686.2,207.9 L687.9,206.8 L689.7,205.9 L691.6,205.2 L693.5,204.8 L695.5,204.6 L697.5,204.7 L699.5,205.0 L701.4,205.5 L703.3,206.2 L705.1,207.1 L706.8,208.0 L708.6,209.1 L710.2,210.2 L711.9,211.3 L713.5,212.5 L715.0,213.8 L716.5,215.1 L718.0,216.4 L719.4,217.8 L720.8,219.3 L722.1,220.8 L723.4,222.3 L724.7,223.8 L726.0,225.4 L727.2,227.0 L728.4,228.6 L729.6,230.2 L730.8,231.8 L731.9,233.4 L733.1,235.0 L734.2,236.7 L735.4,238.3 L736.5,240.0 L737.6,241.7 L738.7,243.3 L739.8,245.0 L740.9,246.6 L742.0,248.3 L743.1,250.0 L744.2,251.7 L745.3,253.3 L746.4,255.0 L747.5,256.7 L748.6,258.4 L749.7,260.1 L750.7,261.8 L751.8,263.5 L752.8,265.2 L753.9,266.9 L754.9,268.6 L755.9,270.3 L757.0,272.0 L758.0,273.7 L759.0,275.4 L760.1,277.2 L761.1,278.9 L762.1,280.6 L763.1,282.3 L764.1,284.0 L765.1,285.8 L766.2,287.5 L767.2,289.2 L768.2,290.9 L769.2,292.6 L770.3,294.4 L771.3,296.1 L772.3,297.8 L773.3,299.5 L774.3,301.2 L775.4,303.0 L776.4,304.7 L777.4,306.4 L778.4,308.1 L779.4,309.9 L780.5,311.6 L781.5,313.3 L782.5,315.0 L783.5,316.8 L784.5,318.5 L785.5,320.2 L786.5,321.9 L787.5,323.7 L788.5,325.4 L789.5,327.1 L790.5,328.9 L791.5,330.6 L792.5,332.3 L793.5,334.1 L794.5,335.8 L795.5,337.6 L796.4,339.3 L797.4,341.1 L798.4,342.8 L799.3,344.6 L800.3,346.3 L801.2,348.1 L802.2,349.8 L803.1,351.6 L804.1,353.4 L805.0,355.1 L806.0,356.9 L807.0,358.6 L807.9,360.4 L808.9,362.1 L809.9,363.9 L810.8,365.6 L811.8,367.4 L812.8,369.1 L813.8,370.8 L814.8,372.6 L815.9,374.3 L816.9,376.0 L817.9,377.7 L819.0,379.4 L820.0,381.1 L821.1,382.8 L822.2,384.5 L823.3,386.2 L824.3,387.9 L825.4,389.5 L826.5,391.2 L827.6,392.9 L828.7,394.6 L829.8,396.2 L830.9,397.9 L832.0,399.6 L833.1,401.2 L834.3,402.9 L835.4,404.5 L836.5,406.2 L837.7,407.8 L838.8,409.5 L839.9,411.1 L841.1,412.8 L842.2,414.4 L843.4,416.0 L844.5,417.7 L845.7,419.3 L846.8,421.0 L848.0,422.6 L849.1,424.2 L850.3,425.9 L851.4,427.5 L852.6,429.1 L853.7,430.8 L854.9,432.4 L856.0,434.0 L857.2,435.6 L858.4,437.3 L859.5,438.9 L860.7,440.5 L861.9,442.1 L863.1,443.8 L864.2,445.4 L865.4,447.0 L866.6,448.6 L867.8,450.2 L869.0,451.8 L870.1,453.4 L871.3,455.1 L872.5,456.7 L873.7,458.3 L874.9,459.9 L876.1,461.5 L877.4,463.0 L878.6,464.6 L879.8,466.2 L881.0,467.8 L882.2,469.4 L883.5,471.0 L884.7,472.5 L885.9,474.1 L887.2,475.7 L888.4,477.2 L889.7,478.8 L890.9,480.4 L892.2,481.9 L893.5,483.4 L894.8,485.0 L896.0,486.5 L897.3,488.0 L898.6,489.6 L899.9,491.1 L901.2,492.6 L902.5,494.1 L903.8,495.6 L905.2,497.2 L906.5,498.7 L907.8,500.2 L909.1,501.7 L910.5,503.2 L911.8,504.6 L913.1,506.1 L914.5,507.6 L915.8,509.1 L917.2,510.6 L918.5,512.0 L919.9,513.5 L921.2,515.0 L922.6,516.4 L924.0,517.9 L925.3,519.3 L926.7,520.8 L928.1,522.3 L929.5,523.7 L930.9,525.1 L932.3,526.6 L933.6,528.0 L935.0,529.5 L936.4,530.9 L937.8,532.3 L939.2,533.7 L940.7,535.2 L942.1,536.6 L943.5,538.0 L944.9,539.4 L946.3,540.8 L947.7,542.2 L949.2,543.6 L950.6,545.0 L952.0,546.4 L953.5,547.8 L954.9,549.2 L956.4,550.6 L957.8,551.9 L959.3,553.3 L960.7,554.7 L962.2,556.0 L963.7,557.4 L965.1,558.8 L966.6,560.1 L968.1,561.5 L969.6,562.8 L971.0,564.2 L972.5,565.5 L974.0,566.8 L975.5,568.2 L977.0,569.5 L978.5,570.8 L980.0,572.1 L981.5,573.5 L983.0,574.8 L984.5,576.1 L986.0,577.4 L987.6,578.7 L989.1,580.0 L990.6,581.3 L992.1,582.6 L993.7,583.9 L995.2,585.2 L996.7,586.4 L998.3,587.7 L999.8,589.0 L1001.3,590.3 L1002.9,591.6 L1004.4,592.8 L1006.0,594.1 L1007.5,595.3 L1009.1,596.6 L1010.7,597.8 L1012.2,599.1 L1013.8,600.3 L1015.4,601.6 L1017.0,602.8 L1018.5,604.0 L1020.1,605.2 L1021.7,606.4 L1023.3,607.6 L1024.9,608.8 L1026.5,610.0 L1028.1,611.2 L1029.7,612.4 L1031.4,613.6 L1033.0,614.7 L1034.6,615.9 L1036.3,617.0 L1037.9,618.2 L1039.6,619.3 L1041.2,620.4 L1042.9,621.5 L1044.5,622.6 L1046.2,623.7 L1047.9,624.8 L1049.6,625.9 L1051.3,627.0 L1053.0,628.1 L1054.6,629.1 L1056.3,630.2 L1058.1,631.2 L1059.8,632.3 L1061.5,633.3 L1063.2,634.3 L1064.9,635.4 L1066.6,636.4 L1068.4,637.4 L1070.1,638.4 L1071.8,639.4 L1073.6,640.4 L1075.3,641.4 L1077.0,642.4 L1078.8,643.3 L1080.5,644.3 L1082.3,645.3 L1084.0,646.3 L1085.8,647.2 L1087.5,648.2 L1089.3,649.1 L1091.0,650.1 L1092.8,651.0 L1094.6,652.0 L1096.3,652.9 L1098.1,653.9 L1099.9,654.8 L1101.6,655.7 L1103.4,656.7 L1105.2,657.6 L1107.0,658.5 L1108.8,659.4 L1110.5,660.3 L1112.3,661.2 L1114.1,662.1 L1115.9,663.0 L1117.7,663.9 L1119.5,664.8 L1121.3,665.7 L1123.1,666.6 L1124.9,667.4 L1126.7,668.3 L1128.5,669.2 L1130.3,670.0 L1132.1,670.8 L1133.9,671.7 L1135.7,672.5 L1137.6,673.3 L1139.4,674.2 L1141.2,675.0 L1143.1,675.8 L1144.9,676.5 L1146.7,677.3 L1148.6,678.1 L1150.4,678.8 L1152.3,679.6 L1154.2,680.3 L1156.0,681.0 L1157.9,681.7 L1159.8,682.4 L1161.7,683.0 L1163.6,683.7 L1165.5,684.3 L1167.4,684.9 L1169.3,685.6 L1171.2,686.2 L1173.1,686.8 L1175.0,687.4 L1176.9,688.0 L1178.8,688.5 L1180.7,689.1 L1182.7,689.7 L1184.6,690.3 L1186.5,690.8 L1188.4,691.4 L1190.3,692.0 L1192.3,692.5 L1194.2,693.1 L1196.1,693.6 L1198.0,694.1 L1200.0,694.7 L1201.9,695.2 L1203.8,695.7 L1205.8,696.2 L1207.7,696.7 L1209.6,697.2 L1211.6,697.7 L1213.5,698.2 L1215.5,698.7 L1217.4,699.1 L1219.3,699.6 L1221.3,700.1 L1223.2,700.6 L1225.2,701.0 L1227.1,701.5 L1229.1,701.9 L1231.0,702.4 L1233.0,702.8 L1234.9,703.3 L1236.9,703.7 L1238.8,704.1 L1240.8,704.5 L1242.8,704.9 L1244.7,705.3 L1246.7,705.7 L1248.6,706.0 L1250.6,706.4 L1252.6,706.8 L1254.5,707.2 L1256.5,707.6 L1258.5,707.9 L1260.4,708.3 L1262.4,708.7 L1264.4,709.1 L1266.3,709.4 L1268.3,709.8 L1270.3,710.2 L1272.2,710.6 L1274.2,710.9 L1276.2,711.3 L1278.1,711.7 L1280.1,712.0 L1282.1,712.4 L1284.0,712.7 L1286.0,713.1 L1288.0,713.4 L1289.9,713.8 L1291.9,714.1 L1293.9,714.5 L1295.9,714.8 L1297.8,715.1 L1299.8,715.5 L1301.8,715.8 L1303.7,716.1 L1305.7,716.4 L1307.7,716.7 L1309.7,717.1 L1311.6,717.4 L1313.6,717.7 L1315.6,718.0 L1317.6,718.3 L1319.6,718.6 L1321.5,718.9 L1323.5,719.2 L1325.5,719.5 L1327.5,719.8 L1329.5,720.0 L1331.4,720.3 L1333.4,720.6 L1335.4,720.8 L1337.4,721.1 L1339.4,721.3 L1341.4,721.6 L1343.3,721.8 L1345.3,722.0 L1347.3,722.3 L1349.3,722.5 L1351.3,722.7 L1353.3,722.9 L1355.3,723.1 L1357.3,723.2 L1359.3,723.4 L1361.3,723.6 L1363.3,723.7 L1365.2,723.9 L1367.2,724.1 L1369.2,724.2 L1371.2,724.4 L1373.2,724.5 L1375.2,724.6 L1377.2,724.8 L1379.2,724.9 L1381.2,725.0 L1383.2,725.2 L1385.2,725.3 L1387.2,725.5 L1389.2,725.6 L1391.2,725.7 L1393.2,725.9 L1395.2,726.0 L1397.2,726.2 L1399.2,726.3 L1401.2,726.4 L1403.2,726.6 L1405.2,726.7 L1407.2,726.9 L1409.1,727.0 L1411.1,727.2 L1413.1,727.3 L1415.1,727.4 L1417.1,727.6 L1419.1,727.7 L1421.1,727.8 L1423.1,728.0 L1425.1,728.1 L1427.1,728.2 L1429.1,728.4 L1431.1,728.5 L1433.1,728.6 L1435.1,728.7 L1437.1,728.8 L1439.1,728.9 L1441.1,729.0 L1443.1,729.1 L1445.1,729.3 L1447.1,729.4 L1449.1,729.5 L1451.1,729.5 L1453.1,729.6 L1455.1,729.7 L1457.1,729.8 L1459.1,729.9 L1461.1,730.0 L1463.1,730.1 L1465.1,730.1 L1467.1,730.2 L1469.1,730.3 L1471.1,730.3 L1473.1,730.4 L1475.1,730.5 L1477.1,730.5 L1479.1,730.6 L1481.1,730.6 L1483.1,730.7 L1485.1,730.8 L1487.1,730.8 L1489.1,730.9 L1491.1,730.9 L1493.1,731.0 L1495.1,731.0 L1497.1,731.1 L1499.1,731.1 L1501.1,731.1 L1503.1,731.2 L1505.1,731.2 L1507.1,731.3 L1509.1,731.3 L1511.1,731.4 L1513.1,731.4 L1515.1,731.4 L1517.1,731.5 L1519.1,731.5 L1521.1,731.6 L1523.1,731.6 L1525.1,731.6 L1527.1,731.7 L1529.1,731.7 L1531.1,731.7 L1533.1,731.8 L1535.1,731.8 L1537.1,731.8 L1539.1,731.8 L1541.1,731.9 L1543.1,731.9 L1545.1,731.9 L1547.1,732.0 L1549.1,732.0 L1551.1,732.0 L1553.1,732.0 L1555.1,732.1 L1557.1,732.1 L1559.1,732.1 L1561.1,732.1 L1563.1,732.1 L1565.1,732.2 L1567.1,732.2 L1569.1,732.2 L1571.1,732.2 L1573.1,732.2 L1575.1,732.2 L1577.1,732.2 L1579.1,732.2 L1581.1,732.3 L1583.1,732.3 L1585.1,732.3 L1587.1,732.3 L1589.1,732.3 L1591.1,732.3 L1593.1,732.3 L1595.1,732.3 L1597.1,732.3 L1599.1,732.3 L1601.1,732.3 L1603.1,732.3 L1605.1,732.3 L1607.1,732.3 L1609.1,732.3 L1611.1,732.3 L1613.1,732.3 L1615.1,732.3 L1617.1,732.3 L1619.1,732.4 L1621.1,732.4 L1623.1,732.4 L1625.1,732.4 L1627.1,732.4 L1629.1,732.4 L1631.1,732.4 L1633.1,732.4 L1635.1,732.4 L1637.1,732.4 L1639.1,732.4 L1641.1,732.4 L1643.1,732.4 L1645.1,732.4 L1647.1,732.4 L1649.1,732.4 L1651.1,732.4 L1653.1,732.4 L1655.1,732.4 L1657.1,732.4 L1659.1,732.4 L1661.1,732.4 L1663.1,732.4 L1665.1,732.4 L1667.1,732.4 L1669.1,732.4 L1671.1,732.4 L1673.1,732.4 L1675.1,732.4 L1677.1,732.4 L1679.1,732.4 L1681.1,732.4 L1683.1,732.4 L1685.1,732.4 L1687.1,732.4 L1689.1,732.4 L1691.1,732.4 L1693.1,732.4 L1695.1,732.4 L1697.1,732.4 L1699.1,732.4 L1701.1,732.4 L1703.1,732.4 L1705.1,732.4 L1707.1,732.4 L1709.1,732.4 L1711.1,732.4 L1713.1,732.4 L1715.1,732.4 L1717.1,732.4 L1719.1,732.4 L1721.1,732.4 L1723.1,732.4 L1725.1,732.4 L1727.1,732.4 L1729.1,732.4 L1731.1,732.4 L1733.1,732.4 L1735.1,732.4 L1737.1,732.4 L1739.1,732.4 L1741.1,732.5 L1743.1,732.5 L1745.1,732.5 L1747.1,732.5 L1749.1,732.5 L1751.1,732.5 L1753.1,732.5 L1755.1,732.5 L1757.1,732.5 L1759.1,732.6 L1761.1,732.6 L1763.1,732.6 L1765.1,732.6 L1767.1,732.6 L1769.1,732.6 L1771.1,732.6 L1773.1,732.6 L1775.1,732.7 L1777.1,732.7 L1779.1,732.7 L1781.1,732.7 L1783.1,732.7 L1785.1,732.7 L1787.1,732.8 L1789.1,732.8 L1791.1,732.8 L1793.1,732.8 L1795.1,732.9 L1797.1,732.9 L1799.1,732.9 L1801.1,732.9 L1803.1,733.0 L1805.1,733.0 L1807.1,733.0 L1809.1,733.1 L1811.1,733.1 L1813.1,733.1 L1815.1,733.2 L1817.1,733.2 L1819.1,733.3 L1821.1,733.3 L1823.1,733.4 L1825.1,733.4 L1827.1,733.5 L1829.1,733.5 L1831.1,733.6 L1833.1,733.7 L1835.1,733.7 L1837.1,733.8 L1839.1,733.9 L1841.1,733.9 L1843.1,734.0 L1845.1,734.1 L1847.1,734.2 L1849.1,734.3 L1851.1,734.3 L1853.1,734.4 L1855.1,734.5 L1857.1,734.6 L1859.1,734.7 L1861.1,734.8 L1863.1,734.9 L1865.1,735.0 L1867.1,735.1 L1869.1,735.2 L1871.1,735.4 L1873.1,735.5 L1875.1,735.6 L1877.1,735.8 L1879.1,735.9 L1881.1,736.0 L1883.1,736.2 L1885.1,736.3 L1887.1,736.5 L1889.1,736.7 L1891.0,736.8 L1893.0,737.0 L1895.0,737.2 L1897.0,737.3 L1899.0,737.5 L1901.0,737.6 L1903.0,737.8 L1905.0,737.9 L1907.0,738.1 L1909.5,738.4 L1912.0,738.6 L1914.5,738.9 L1917.1,739.2 L1919.7,739.4 L1922.3,739.7 L1924.8,740.0 L1927.2,740.3 L1929.6,740.5 L1931.9,740.8 L1934.0,741.2 L1936.0,741.5 L1937.3,741.7 L1938.5,742.0 L1939.6,742.2 L1940.7,742.4 L1941.8,742.6 L1942.9,742.9 L1943.9,743.1 L1944.9,743.4 L1945.8,743.7 L1946.8,744.0 L1947.7,744.3 L1948.6,744.6 L1949.3,744.9 L1950.0,745.2 L1950.7,745.4 L1951.3,745.7 L1952.0,746.0 L1952.6,746.3 L1953.2,746.7 L1953.8,747.0 L1954.4,747.3 L1954.9,747.7 L1955.5,748.1 L1956.0,748.5 L1956.5,748.9 L1956.9,749.3 L1957.3,749.7 L1957.7,750.1 L1958.1,750.6 L1958.5,751.0 L1958.9,751.5 L1959.2,752.0 L1959.6,752.5 L1959.9,753.0 L1960.2,753.5 L1960.5,754.0 L1960.8,754.6 L1961.1,755.2 L1961.3,755.8 L1961.6,756.4 L1961.8,757.1 L1962.0,757.7 L1962.2,758.4 L1962.4,759.1 L1962.5,759.8 L1962.7,760.5 L1962.8,761.3 L1963.0,762.0 L1963.2,763.0 L1963.3,763.9 L1963.5,765.0 L1963.6,766.0 L1963.7,767.1 L1963.8,768.1 L1963.9,769.3 L1964.0,770.4 L1964.1,771.5 L1964.2,772.7 L1964.2,773.8 L1964.3,775.0 L1964.4,776.4 L1964.4,777.9 L1964.5,779.4 L1964.5,780.9 L1964.5,782.4 L1964.5,784.0 L1964.5,785.6 L1964.5,787.1 L1964.5,788.7 L1964.5,790.3 L1964.5,791.9 L1964.5,793.4" fill="none" stroke="#D95319" stroke-width="10.4" stroke-linejoin="round" stroke-linecap="butt"/>
<path d="M349.8,191.0 L350.4,192.6 L351.0,194.2 L351.6,195.9 L352.2,197.5 L352.8,199.1 L353.4,200.7 L354.0,202.3 L354.6,203.9 L355.1,205.6 L355.7,207.2 L356.3,208.9 L356.8,210.6 L357.4,212.4 L357.9,214.3 L358.5,216.2 L359.0,218.1 L359.5,220.0 L360.0,222.0 L360.5,223.9 L361.0,225.8 L361.5,227.8 L362.0,229.7 L362.5,231.7 L363.0,233.6 L363.5,235.5 L363.9,237.4 L364.4,239.3 L364.9,241.3 L365.3,243.2 L365.7,245.1 L366.2,247.0 L366.6,248.9 L367.0,250.8 L367.5,252.8 L367.9,254.7 L368.3,256.6 L368.7,258.5 L369.1,260.4 L369.5,262.3 L369.9,264.2 L370.3,266.1 L370.6,268.0 L371.0,270.0 L371.4,271.9 L371.8,273.8 L372.1,275.7 L372.5,277.6 L372.9,279.5 L373.3,281.4 L373.7,283.2 L374.0,285.0 L374.4,286.7 L374.7,288.5 L375.1,290.2 L375.5,292.0 L375.9,293.9 L376.3,295.9 L376.7,298.0 L377.1,300.2 L377.5,302.5 L378.3,306.9 L379.1,311.7 L380.0,316.8 L380.8,322.3 L381.8,328.0 L382.7,334.0 L383.7,340.0 L384.6,346.1 L385.6,352.2 L386.6,358.3 L387.5,364.2 L388.5,370.0 L389.5,375.7 L390.4,381.4 L391.4,387.1 L392.3,392.8 L393.3,398.4 L394.2,404.1 L395.2,409.8 L396.2,415.7 L397.2,421.6 L398.2,427.6 L399.3,433.7 L400.4,440.0 L401.8,447.8 L403.2,455.9 L404.7,464.2 L406.2,472.6 L407.7,481.2 L409.3,489.8 L410.8,498.5 L412.4,507.3 L414.0,516.1 L415.6,524.8 L417.2,533.4 L418.8,542.0 L420.4,550.6 L422.0,559.2 L423.7,567.9 L425.3,576.6 L427.0,585.3 L428.6,593.9 L430.3,602.6 L431.9,611.1 L433.6,619.6 L435.1,627.9 L436.7,636.1 L438.2,644.1 L439.5,651.1 L440.8,658.1 L442.1,665.2 L443.4,672.3 L444.6,679.3 L445.9,686.2 L447.1,692.8 L448.2,699.3 L449.4,705.4 L450.4,711.2 L451.5,716.7 L452.4,721.6 L452.9,724.2 L453.4,726.6 L453.9,728.9 L454.3,731.1 L454.7,733.2 L455.1,735.2 L455.5,737.1 L455.9,739.0 L456.4,741.0 L456.8,742.9 L457.2,744.9 L457.6,747.0 L457.7,749.0 L457.7,751.0 L457.8,753.0 L457.9,755.0 L457.9,757.0 L458.0,759.0 L458.0,761.0 L458.1,763.0 L458.2,765.0 L458.2,767.0 L458.3,769.0 L458.4,771.0 L458.4,773.0 L458.5,775.0 L458.6,777.0 L458.6,779.0 L458.7,781.0 L458.7,783.0 L458.8,785.0 L458.8,787.0 L458.9,789.0 L458.9,791.0 L459.0,793.0 L459.1,795.0 L459.1,797.0 L459.2,799.0 L459.2,801.0 L459.3,803.0 L459.3,805.0 L459.3,807.0 L459.4,809.0 L459.4,811.0 L459.5,813.1 L459.5,815.1 L459.6,817.1 L459.6,819.1 L459.7,821.1 L459.7,823.1 L459.8,825.1 L459.8,827.1 L459.8,829.1 L459.9,831.1 L459.9,833.1 L460.0,835.1 L460.0,837.1 L460.1,839.1 L460.1,841.1 L460.1,843.1 L460.2,845.1 L460.2,847.1 L460.3,849.1 L460.3,851.1 L460.3,853.1 L460.4,855.1 L460.4,857.1 L460.5,859.1 L460.5,861.1 L460.5,863.1 L460.6,865.1 L460.6,867.1 L460.7,869.1 L460.7,871.1 L460.7,873.1 L460.8,875.1 L460.8,877.1 L460.9,879.1 L460.9,881.1 L461.0,883.1 L461.0,885.1 L461.0,887.1 L461.1,889.1 L461.1,891.1 L461.2,893.1 L461.2,895.1 L461.2,897.1 L461.3,899.1 L461.3,901.1 L461.4,903.1 L461.4,905.1 L461.4,907.1 L461.5,909.1 L461.5,911.1 L461.6,913.1 L461.6,915.1 L461.6,917.2 L461.7,919.2 L461.7,921.2 L461.8,923.2 L461.8,925.2 L461.8,927.2 L461.9,929.2 L461.9,931.2 L461.9,933.2 L462.0,935.2 L462.0,937.2 L462.1,939.2 L462.1,941.2 L462.1,943.2 L462.2,945.2 L462.2,947.2 L462.2,949.2 L462.3,951.2 L462.3,953.2 L462.4,955.2 L462.4,957.2 L462.4,959.2 L462.5,961.2 L462.5,963.2 L462.5,965.2 L462.6,967.2 L462.6,969.2 L462.7,971.2 L462.7,973.2 L462.7,975.2 L462.8,977.2 L462.8,979.2 L462.8,981.2 L462.9,983.2 L462.9,985.2 L463.0,987.2 L463.0,989.2 L463.0,991.2 L463.1,993.2 L463.1,995.2 L463.1,997.2 L463.2,999.2 L463.2,1001.2 L463.3,1003.2 L463.3,1005.2 L463.3,1007.2 L463.4,1009.2 L463.4,1011.2 L463.5,1013.2 L463.5,1015.2 L463.5,1017.3 L463.6,1019.3 L463.6,1021.3 L463.7,1023.3 L463.7,1025.3 L463.8,1027.3 L463.8,1029.3 L463.8,1031.3 L463.9,1033.3 L463.9,1035.3 L464.0,1037.3 L464.0,1039.3 L464.1,1041.3 L464.1,1043.3 L464.2,1045.3 L464.2,1047.3 L464.3,1049.3 L464.3,1051.3 L464.4,1053.3 L464.4,1055.3 L464.5,1057.3 L464.5,1059.3 L464.6,1061.3 L464.6,1063.3 L464.7,1065.3 L464.7,1067.3 L464.8,1069.3 L464.8,1071.3 L464.9,1073.3 L464.9,1075.3 L465.0,1077.3 L465.0,1079.3 L465.1,1081.3 L465.1,1083.3 L465.2,1085.3 L465.2,1087.3 L465.3,1089.3 L465.3,1091.3 L465.4,1093.3 L465.4,1095.3 L465.5,1097.3 L465.5,1099.3 L465.6,1101.3 L465.7,1103.3 L465.7,1105.3 L465.8,1107.3 L465.8,1109.3 L465.9,1111.3 L465.9,1113.3 L466.0,1115.3 L466.1,1117.3 L466.1,1119.3 L466.2,1121.3 L466.2,1123.3 L466.3,1125.3 L466.4,1127.3 L466.4,1129.3 L466.5,1131.3 L466.5,1133.3 L466.6,1135.3 L466.7,1137.4 L466.7,1139.4 L466.8,1141.4 L466.9,1143.4 L466.9,1145.4 L467.0,1147.4 L467.1,1149.4 L467.1,1151.4 L467.2,1153.4 L467.3,1155.4 L467.3,1157.4 L467.4,1159.4 L467.5,1161.4 L467.6,1163.4 L467.6,1165.4 L467.7,1167.4 L467.8,1169.4 L467.9,1171.4 L467.9,1173.4 L468.0,1175.4 L468.1,1177.4 L468.2,1179.4 L468.3,1181.4 L468.3,1183.4 L468.4,1185.4 L468.5,1187.4 L468.6,1189.4 L468.7,1191.4 L468.8,1193.4 L468.9,1195.4 L469.0,1197.4 L469.1,1199.4 L469.2,1201.4 L469.3,1203.4 L469.4,1205.4 L469.5,1207.4 L469.6,1209.4 L469.7,1211.4 L469.8,1213.4 L469.9,1215.4 L470.0,1217.4 L470.1,1219.4 L470.2,1221.4 L470.3,1223.4 L470.5,1225.4 L470.6,1227.4 L470.7,1229.4 L470.8,1231.4 L470.9,1233.4 L471.0,1235.4 L471.1,1237.4 L471.2,1239.4 L471.3,1241.4 L471.4,1243.4 L471.5,1245.4 L471.6,1247.4 L471.7,1249.4 L471.8,1251.4 L471.9,1253.4 L472.0,1255.4 L472.1,1257.4 L472.2,1259.4 L472.3,1261.4 L472.4,1263.4 L472.4,1265.4 L472.5,1267.4 L472.6,1269.4 L472.7,1271.4 L472.8,1273.4 L472.9,1275.4 L473.0,1277.4 L473.0,1279.4 L473.1,1281.4 L473.2,1283.4 L473.3,1285.4 L473.4,1287.4 L473.5,1289.4 L473.6,1291.4 L473.6,1293.4 L473.7,1295.4 L473.8,1297.4 L473.9,1299.4 L474.0,1301.4 L474.0,1303.4 L474.1,1305.4 L474.2,1307.4 L474.3,1309.4 L474.4,1311.4 L474.4,1313.4 L474.5,1315.4 L474.6,1317.4 L474.7,1319.4 L474.8,1321.4 L474.8,1323.4 L474.9,1325.4 L475.0,1327.4 L475.1,1329.4 L475.2,1331.4 L475.2,1333.4 L475.3,1335.4 L475.4,1337.4 L475.5,1339.4 L475.6,1341.4 L475.6,1343.4 L475.7,1345.4 L475.8,1347.4 L475.9,1349.4 L476.0,1351.4 L476.1,1353.4 L476.1,1355.4 L476.2,1357.4 L476.3,1359.4 L571.5,1359.4 L571.6,1357.4 L571.7,1355.4 L571.8,1353.4 L571.9,1351.4 L572.0,1349.4 L572.1,1347.4 L572.3,1345.4 L572.4,1343.4 L572.5,1341.4 L572.6,1339.4 L572.7,1337.4 L572.8,1335.4 L572.9,1333.4 L573.0,1331.4 L573.1,1329.4 L573.2,1327.4 L573.3,1325.4 L573.4,1323.4 L573.5,1321.4 L573.6,1319.4 L573.7,1317.5 L573.8,1315.5 L573.9,1313.5 L574.1,1311.5 L574.2,1309.5 L574.3,1307.5 L574.4,1305.5 L574.5,1303.5 L574.6,1301.5 L574.7,1299.5 L574.8,1297.5 L574.9,1295.5 L575.0,1293.5 L575.1,1291.5 L575.2,1289.5 L575.4,1287.5 L575.5,1285.5 L575.6,1283.5 L575.7,1281.5 L575.8,1279.5 L575.9,1277.5 L576.0,1275.5 L576.2,1273.5 L576.3,1271.5 L576.4,1269.5 L576.5,1267.5 L576.6,1265.5 L576.8,1263.5 L576.9,1261.5 L577.0,1259.5 L577.1,1257.5 L577.3,1255.5 L577.4,1253.5 L577.5,1251.5 L577.6,1249.6 L577.8,1247.6 L577.9,1245.6 L578.0,1243.6 L578.2,1241.6 L578.3,1239.6 L578.4,1237.6 L578.6,1235.6 L578.7,1233.6 L578.8,1231.6 L579.0,1229.6 L579.1,1227.6 L579.3,1225.6 L579.4,1223.6 L579.5,1221.6 L579.7,1219.6 L579.8,1217.6 L579.9,1215.6 L580.1,1213.6 L580.2,1211.6 L580.4,1209.6 L580.5,1207.6 L580.6,1205.6 L580.8,1203.6 L580.9,1201.7 L581.0,1199.7 L581.2,1197.7 L581.3,1195.7 L581.4,1193.7 L581.6,1191.7 L581.7,1189.7 L581.8,1187.7 L581.9,1185.7 L582.1,1183.7 L582.2,1181.7 L582.3,1179.7 L582.5,1177.7 L582.6,1175.7 L582.7,1173.7 L582.9,1171.7 L583.0,1169.7 L583.1,1167.7 L583.3,1165.7 L583.4,1163.7 L583.5,1161.7 L583.7,1159.7 L583.8,1157.7 L583.9,1155.7 L584.1,1153.7 L584.2,1151.8 L584.3,1149.8 L584.4,1147.8 L584.6,1145.8 L584.7,1143.8 L584.8,1141.8 L585.0,1139.8 L585.1,1137.8 L585.2,1135.8 L585.3,1133.8 L585.5,1131.8 L585.6,1129.8 L585.7,1127.8 L585.8,1125.8 L586.0,1123.8 L586.1,1121.8 L586.3,1119.8 L586.4,1117.8 L586.6,1115.8 L586.7,1113.8 L586.9,1111.8 L587.0,1109.8 L587.2,1107.8 L587.4,1105.9 L587.5,1103.9 L587.7,1101.9 L587.9,1099.9 L588.0,1097.9 L588.2,1095.9 L588.4,1093.9 L588.5,1091.9 L588.7,1089.9 L588.9,1087.9 L589.1,1085.9 L589.2,1083.9 L589.4,1081.9 L589.6,1079.9 L589.8,1078.0 L589.9,1076.0 L590.1,1074.0 L590.3,1072.0 L590.5,1070.0 L590.7,1068.0 L590.9,1066.0 L591.1,1064.0 L591.3,1062.0 L591.4,1060.0 L591.6,1058.0 L591.8,1056.0 L592.0,1054.1 L592.2,1052.1 L592.4,1050.1 L592.6,1048.1 L592.8,1046.1 L593.1,1044.1 L593.3,1042.1 L593.5,1040.1 L593.7,1038.1 L593.9,1036.2 L594.1,1034.2 L594.4,1032.2 L594.6,1030.2 L594.8,1028.2 L595.1,1026.2 L595.3,1024.2 L595.5,1022.2 L595.8,1020.3 L596.0,1018.3 L596.2,1016.3 L596.5,1014.3 L596.7,1012.3 L597.0,1010.3 L597.2,1008.3 L597.5,1006.4 L597.7,1004.4 L598.0,1002.4 L598.3,1000.4 L598.5,998.4 L598.8,996.4 L599.1,994.5 L599.4,992.5 L599.7,990.5 L599.9,988.5 L600.2,986.5 L600.5,984.6 L600.9,982.6 L601.2,980.6 L601.5,978.6 L601.8,976.7 L602.2,974.7 L602.5,972.7 L602.9,970.8 L603.2,968.8 L603.6,966.8 L604.0,964.9 L604.4,962.9 L604.8,960.9 L605.2,959.0 L605.6,957.0 L606.0,955.1 L606.4,953.1 L606.8,951.2 L607.3,949.2 L607.7,947.2 L608.1,945.3 L608.5,943.3 L608.9,941.4 L609.3,939.4 L609.8,937.5 L610.2,935.5 L610.6,933.5 L611.0,931.6 L611.4,929.6 L611.8,927.7 L612.2,925.7 L612.6,923.8 L613.0,921.8 L613.4,919.8 L613.8,917.9 L614.2,915.9 L614.7,914.0 L615.1,912.0 L615.5,910.1 L616.0,908.1 L616.4,906.2 L616.9,904.2 L617.3,902.3 L617.8,900.3 L618.3,898.4 L618.8,896.4 L619.3,894.5 L619.8,892.6 L620.3,890.6 L620.9,888.7 L621.4,886.8 L622.0,884.9 L622.5,882.9 L623.1,881.0 L623.6,879.1 L624.2,877.2 L624.8,875.3 L625.4,873.4 L626.0,871.5 L626.6,869.6 L627.2,867.6 L627.8,865.7 L628.4,863.8 L629.1,861.9 L629.7,860.0 L630.4,858.2 L631.1,856.3 L631.8,854.4 L632.5,852.5 L633.2,850.7 L634.0,848.9 L634.8,847.0 L635.7,845.2 L636.5,843.4 L637.4,841.6 L638.3,839.8 L639.2,838.0 L640.2,836.3 L641.1,834.5 L642.1,832.8 L643.1,831.0 L644.1,829.3 L645.1,827.6 L646.2,825.9 L647.3,824.2 L648.4,822.6 L649.6,820.9 L650.7,819.3 L651.9,817.7 L653.1,816.1 L654.4,814.5 L655.6,813.0 L656.9,811.5 L658.3,810.0 L659.6,808.5 L661.0,807.1 L662.4,805.6 L663.8,804.2 L665.3,802.9 L666.8,801.5 L668.2,800.1 L669.7,798.8 L671.2,797.5 L672.7,796.1 L674.2,794.8 L675.7,793.5 L677.3,792.2 L678.8,791.0 L680.4,789.8 L682.1,788.6 L683.7,787.5 L685.4,786.5 L687.2,785.5 L688.9,784.6 L690.7,783.7 L692.5,782.8 L694.4,782.0 L696.2,781.2 L698.0,780.4 L699.9,779.6 L701.7,778.9 L703.6,778.1 L705.5,777.4 L707.3,776.7 L709.2,776.0 L711.1,775.3 L712.9,774.6 L714.8,773.9 L716.7,773.3 L718.6,772.6 L720.5,772.0 L722.4,771.4 L724.3,770.8 L726.2,770.2 L728.2,769.6 L730.1,769.1 L732.0,768.5 L733.9,768.0 L735.9,767.5 L737.8,767.0 L739.7,766.5 L741.7,766.0 L743.6,765.5 L745.6,765.1 L747.5,764.6 L749.5,764.2 L751.4,763.7 L753.4,763.3 L755.3,762.9 L757.3,762.5 L759.2,762.1 L761.2,761.7 L763.2,761.3 L765.1,760.9 L767.1,760.6 L769.1,760.2 L771.0,759.9 L773.0,759.5 L775.0,759.2 L777.0,758.8 L778.9,758.5 L780.9,758.2 L782.9,757.9 L784.9,757.6 L786.8,757.3 L788.8,757.0 L790.8,756.7 L792.8,756.4 L794.8,756.2 L796.7,755.9 L798.7,755.6 L800.7,755.4 L802.7,755.1 L804.7,754.9 L806.7,754.6 L808.6,754.4 L810.6,754.1 L812.6,753.9 L814.6,753.6 L816.6,753.4 L818.6,753.2 L820.6,753.0 L822.6,752.8 L824.5,752.6 L826.5,752.4 L828.5,752.2 L830.5,752.0 L832.5,751.8 L834.5,751.7 L836.5,751.5 L838.5,751.4 L840.5,751.2 L842.5,751.1 L844.5,751.0 L846.5,750.8 L848.5,750.7 L850.5,750.6 L852.5,750.4 L854.5,750.3 L856.5,750.2 L858.5,750.0 L860.5,749.9 L862.4,749.8 L864.4,749.7 L866.4,749.5 L868.4,749.4 L870.4,749.3 L872.4,749.2 L874.4,749.0 L876.4,748.9 L878.4,748.8 L880.4,748.7 L882.4,748.5 L884.4,748.4 L886.4,748.3 L888.4,748.2 L890.4,748.0 L892.4,747.9 L894.4,747.8 L896.4,747.6 L898.4,747.5 L900.4,747.4 L902.4,747.2 L904.4,747.1 L906.4,747.0 L908.4,746.8 L910.4,746.7 L912.4,746.5 L914.3,746.4 L916.3,746.3 L918.3,746.1 L920.3,746.0 L922.3,745.9 L924.3,745.7 L926.3,745.6 L928.3,745.4 L930.3,745.3 L932.3,745.1 L934.3,745.0 L936.3,744.9 L938.3,744.7 L940.3,744.6 L942.3,744.4 L944.3,744.3 L946.3,744.1 L948.3,744.0 L950.3,743.8 L952.3,743.7 L954.3,743.5 L956.2,743.4 L958.2,743.2 L960.2,743.1 L962.2,742.9 L964.2,742.8 L966.2,742.6 L968.2,742.5 L970.2,742.3 L972.2,742.2 L974.2,742.0 L976.2,741.8 L978.2,741.7 L980.2,741.5 L982.2,741.4 L984.2,741.2 L986.2,741.1 L988.2,740.9 L990.2,740.8 L992.1,740.6 L994.1,740.5 L996.1,740.3 L998.1,740.2 L1000.1,740.0 L1002.1,739.9 L1004.1,739.7 L1006.1,739.6 L1008.1,739.4 L1010.1,739.2 L1012.1,739.1 L1014.1,738.9 L1016.1,738.8 L1018.1,738.6 L1020.1,738.5 L1022.1,738.3 L1024.1,738.2 L1026.1,738.0 L1028.0,737.9 L1030.0,737.7 L1032.0,737.6 L1034.0,737.4 L1036.0,737.3 L1038.0,737.2 L1040.0,737.0 L1042.0,736.9 L1044.0,736.8 L1046.0,736.6 L1048.0,736.5 L1050.0,736.4 L1052.0,736.3 L1054.0,736.2 L1056.0,736.1 L1058.0,736.0 L1060.0,735.9 L1062.0,735.8 L1064.0,735.7 L1066.0,735.6 L1068.0,735.5 L1070.0,735.4 L1072.0,735.3 L1074.0,735.3 L1076.0,735.2 L1078.0,735.1 L1080.0,735.0 L1082.0,734.9 L1084.0,734.9 L1086.0,734.8 L1088.0,734.7 L1090.0,734.7 L1092.0,734.6 L1094.0,734.5 L1096.0,734.4 L1098.0,734.4 L1100.0,734.3 L1102.0,734.2 L1104.0,734.2 L1106.0,734.1 L1108.0,734.0 L1110.0,734.0 L1112.0,733.9 L1114.0,733.8 L1116.0,733.8 L1118.0,733.7 L1120.0,733.6 L1122.0,733.6 L1124.0,733.5 L1126.0,733.4 L1128.0,733.4 L1130.0,733.3 L1132.0,733.3 L1134.0,733.2 L1136.0,733.2 L1138.0,733.1 L1140.0,733.1 L1142.0,733.0 L1144.0,733.0 L1146.0,732.9 L1148.0,732.9 L1150.0,732.8 L1152.0,732.8 L1154.0,732.7 L1156.0,732.7 L1158.0,732.7 L1160.0,732.6 L1162.0,732.6 L1164.0,732.5 L1166.0,732.5 L1168.0,732.5 L1170.0,732.4 L1172.0,732.4 L1174.0,732.4 L1176.0,732.4 L1178.0,732.3 L1180.0,732.3 L1182.0,732.3 L1184.0,732.2 L1186.0,732.2 L1188.0,732.2 L1190.0,732.1 L1192.0,732.1 L1194.0,732.1 L1196.0,732.1 L1198.0,732.0 L1200.0,732.0 L1202.0,732.0 L1204.0,731.9 L1206.0,731.9 L1208.0,731.9 L1210.0,731.9 L1212.0,731.8 L1214.0,731.8 L1216.0,731.8 L1218.0,731.8 L1220.0,731.8 L1222.0,731.7 L1224.0,731.7 L1226.0,731.7 L1228.0,731.7 L1230.0,731.7 L1232.0,731.6 L1234.0,731.6 L1236.0,731.6 L1238.0,731.6 L1240.0,731.5 L1242.0,731.5 L1244.0,731.5 L1246.0,731.5 L1248.0,731.4 L1250.0,731.4 L1252.0,731.4 L1254.0,731.3 L1256.0,731.3 L1258.0,731.3 L1260.0,731.2 L1262.0,731.2 L1264.0,731.2 L1266.0,731.1 L1268.0,731.1 L1270.0,731.0 L1272.0,731.0 L1274.0,731.0 L1276.0,730.9 L1278.0,730.9 L1280.0,730.8 L1282.0,730.8 L1284.0,730.8 L1286.0,730.7 L1288.0,730.7 L1290.0,730.6 L1292.0,730.6 L1294.0,730.6 L1296.0,730.5 L1298.0,730.5 L1300.0,730.5 L1302.0,730.4 L1304.0,730.4 L1306.0,730.4 L1308.0,730.3 L1310.0,730.3 L1312.0,730.3 L1314.0,730.2 L1316.0,730.2 L1318.0,730.2 L1320.0,730.1 L1322.0,730.1 L1324.0,730.1 L1326.0,730.1 L1328.0,730.0 L1330.0,730.0 L1332.0,730.0 L1334.0,729.9 L1336.0,729.9 L1338.0,729.9 L1340.0,729.8 L1342.0,729.8 L1344.0,729.8 L1346.0,729.7 L1348.0,729.7 L1350.0,729.7 L1352.0,729.6 L1354.0,729.6 L1356.0,729.6 L1358.0,729.5 L1360.0,729.5 L1362.0,729.5 L1364.0,729.4 L1366.0,729.4 L1368.0,729.4 L1370.0,729.3 L1372.0,729.3 L1374.0,729.2 L1376.0,729.2 L1378.0,729.2 L1380.0,729.1 L1382.0,729.1 L1384.0,729.0 L1386.0,729.0 L1388.0,729.0 L1390.0,728.9 L1392.0,728.9 L1394.0,728.8 L1396.0,728.8 L1398.0,728.7 L1400.0,728.7 L1402.0,728.7 L1404.0,728.6 L1406.0,728.6 L1408.0,728.5 L1410.0,728.5 L1412.0,728.4 L1414.0,728.4 L1416.0,728.4 L1418.0,728.3 L1420.0,728.3 L1422.0,728.2 L1424.0,728.2 L1426.0,728.2 L1428.0,728.1 L1430.0,728.1 L1432.0,728.0 L1434.0,728.0 L1436.0,728.0 L1438.0,727.9 L1440.0,727.9 L1442.0,727.8 L1444.0,727.8 L1446.0,727.7 L1448.0,727.7 L1450.0,727.7 L1452.0,727.6 L1454.0,727.6 L1456.0,727.5 L1458.0,727.5 L1460.0,727.5 L1462.0,727.4 L1464.0,727.4 L1466.0,727.3 L1468.0,727.3 L1470.0,727.2 L1472.0,727.2 L1474.0,727.2 L1476.0,727.1 L1478.0,727.1 L1480.0,727.0 L1482.0,727.0 L1484.0,727.0 L1486.0,726.9 L1488.0,726.9 L1490.0,726.9 L1492.0,726.8 L1494.0,726.8 L1496.0,726.7 L1498.0,726.7 L1500.0,726.7 L1502.0,726.6 L1504.0,726.6 L1506.0,726.6 L1508.0,726.5 L1510.0,726.5 L1512.0,726.5 L1514.0,726.4 L1516.0,726.4 L1518.0,726.4 L1520.0,726.4 L1522.0,726.3 L1524.0,726.3 L1526.0,726.3 L1528.0,726.2 L1530.0,726.2 L1532.0,726.2 L1534.0,726.1 L1536.0,726.1 L1538.0,726.1 L1540.0,726.0 L1542.0,726.0 L1544.0,726.0 L1546.0,726.0 L1548.0,725.9 L1550.0,725.9 L1552.0,725.9 L1554.0,725.8 L1556.0,725.8 L1558.0,725.8 L1560.0,725.7 L1562.0,725.7 L1564.0,725.7 L1566.0,725.6 L1568.0,725.6 L1570.0,725.6 L1572.0,725.5 L1574.0,725.5 L1576.0,725.5 L1578.0,725.5 L1580.0,725.4 L1582.0,725.4 L1584.0,725.4 L1586.0,725.3 L1588.0,725.3 L1590.0,725.3 L1592.0,725.2 L1594.0,725.2 L1596.0,725.2 L1598.0,725.1 L1600.0,725.1 L1602.0,725.1 L1604.0,725.0 L1606.0,725.0 L1608.0,725.0 L1610.0,724.9 L1612.0,724.9 L1614.0,724.9 L1616.0,724.9 L1618.0,724.8 L1620.0,724.8 L1622.0,724.8 L1624.0,724.7 L1626.0,724.7 L1628.0,724.7 L1630.0,724.6 L1632.0,724.6 L1634.0,724.6 L1636.0,724.6 L1638.0,724.5 L1640.0,724.5 L1642.0,724.5 L1644.0,724.4 L1646.0,724.4 L1648.0,724.4 L1650.0,724.3 L1652.0,724.3 L1654.0,724.3 L1656.0,724.2 L1658.0,724.2 L1660.0,724.2 L1662.0,724.1 L1664.0,724.1 L1666.0,724.1 L1668.0,724.1 L1670.0,724.0 L1672.0,724.0 L1674.0,724.0 L1676.0,724.0 L1678.0,723.9 L1680.0,723.9 L1682.0,723.9 L1684.0,723.9 L1686.0,723.8 L1688.0,723.8 L1690.0,723.8 L1692.0,723.8 L1694.0,723.8 L1696.0,723.7 L1698.0,723.7 L1700.0,723.7 L1702.0,723.7 L1704.0,723.7 L1706.0,723.7 L1708.0,723.6 L1710.0,723.6 L1712.0,723.6 L1714.0,723.6 L1716.0,723.6 L1718.0,723.6 L1720.0,723.6 L1722.0,723.5 L1724.0,723.5 L1726.0,723.5 L1728.0,723.5 L1730.0,723.5 L1732.0,723.5 L1734.0,723.5 L1736.0,723.5 L1738.0,723.5 L1740.0,723.4 L1742.0,723.4 L1744.0,723.4 L1746.0,723.4 L1748.0,723.4 L1750.0,723.4 L1752.0,723.4 L1754.0,723.4 L1756.0,723.4 L1758.0,723.4 L1760.0,723.4 L1762.0,723.4 L1764.0,723.4 L1766.0,723.3 L1768.0,723.3 L1770.0,723.3 L1772.0,723.3 L1774.0,723.3 L1776.0,723.3 L1778.0,723.3 L1780.0,723.3 L1782.0,723.3 L1784.0,723.3 L1786.0,723.3 L1788.0,723.3 L1790.0,723.3 L1792.0,723.3 L1794.0,723.3 L1796.0,723.3 L1798.0,723.3 L1800.0,723.3 L1802.0,723.3 L1804.0,723.3 L1806.0,723.3 L1808.0,723.3 L1810.0,723.4 L1812.0,723.4 L1814.0,723.4 L1816.0,723.4 L1818.0,723.4 L1820.0,723.4 L1822.0,723.4 L1824.0,723.4 L1826.0,723.4 L1828.0,723.5 L1830.0,723.5 L1832.0,723.5 L1834.0,723.5 L1836.0,723.5 L1838.0,723.6 L1840.0,723.6 L1842.0,723.6 L1844.0,723.7 L1846.0,723.7 L1848.0,723.7 L1850.0,723.7 L1852.0,723.8 L1854.0,723.8 L1856.0,723.8 L1858.0,723.9 L1860.0,723.9 L1862.0,724.0 L1864.0,724.0 L1866.0,724.0 L1868.0,724.1 L1870.0,724.1 L1872.0,724.1 L1874.0,724.2 L1876.0,724.2 L1878.0,724.2 L1880.0,724.3 L1882.0,724.3 L1884.0,724.3 L1886.0,724.4 L1888.0,724.4 L1891.1,724.5 L1894.3,724.7 L1897.5,724.8 L1900.8,724.9 L1904.0,725.0 L1907.2,725.1 L1910.4,725.3 L1913.5,725.4 L1916.6,725.5 L1919.5,725.7 L1922.3,725.8 L1925.0,726.0 L1926.9,726.1 L1928.8,726.2 L1930.6,726.4 L1932.4,726.5 L1934.1,726.6 L1935.8,726.7 L1937.4,726.9 L1939.0,727.0 L1940.6,727.2 L1942.0,727.3 L1943.5,727.5 L1944.8,727.7 L1945.7,727.8 L1946.5,727.9 L1947.3,728.1 L1948.1,728.2 L1948.8,728.3 L1949.5,728.4 L1950.2,728.5 L1950.9,728.7 L1951.6,728.9 L1952.2,729.0 L1952.9,729.3 L1953.5,729.5 L1954.1,729.7 L1954.6,730.0 L1955.1,730.2 L1955.7,730.5 L1956.2,730.8 L1956.7,731.1 L1957.2,731.4 L1957.6,731.8 L1958.1,732.1 L1958.5,732.5 L1958.9,732.8 L1959.3,733.2 L1959.6,733.5 L1959.9,733.9 L1960.2,734.3 L1960.5,734.6 L1960.7,735.0 L1961.0,735.4 L1961.2,735.8 L1961.4,736.2 L1961.6,736.7 L1961.8,737.1 L1962.0,737.5 L1962.2,738.0 L1962.4,738.6 L1962.6,739.2 L1962.8,739.8 L1962.9,740.4 L1963.1,741.0 L1963.2,741.7 L1963.3,742.3 L1963.4,743.0 L1963.5,743.7 L1963.6,744.4 L1963.7,745.1 L1963.8,745.8 L1963.9,746.7 L1964.0,747.6 L1964.1,748.5 L1964.2,749.4 L1964.2,750.4 L1964.3,751.3 L1964.3,752.3 L1964.4,753.3 L1964.4,754.3 L1964.4,755.3 L1964.5,756.4 L1964.5,757.4 L1964.5,758.7 L1964.6,760.0 L1964.6,761.3 L1964.6,762.7 L1964.6,764.1 L1964.6,765.5 L1964.5,766.9 L1964.5,768.4 L1964.5,769.8 L1964.5,771.2 L1964.5,772.6 L1964.5,774.0" fill="none" stroke="#EDB120" stroke-width="10.4" stroke-linejoin="round" stroke-linecap="butt"/>
<path d="M350.0,59.8 L372.5,59.8 L372.5,61.8 L372.6,63.8 L372.6,65.8 L372.6,67.8 L372.7,69.8 L372.7,71.8 L372.7,73.8 L372.8,75.8 L372.8,77.8 L372.8,79.8 L372.9,81.8 L372.9,83.8 L372.9,85.8 L373.0,87.8 L373.0,89.8 L373.0,91.8 L373.0,93.8 L373.1,95.8 L373.1,97.8 L373.1,99.8 L373.1,101.8 L373.1,103.8 L373.1,105.8 L373.2,107.8 L373.2,109.8 L373.2,111.8 L373.2,113.8 L373.2,115.8 L373.2,117.8 L373.2,119.8 L373.3,121.8 L373.3,123.8 L373.3,125.8 L373.3,127.8 L373.3,129.8 L373.3,131.8 L373.3,133.8 L373.3,135.8 L373.3,137.8 L373.3,139.8 L373.4,141.8 L373.4,143.8 L373.4,145.8 L373.4,147.8 L373.4,149.8 L373.4,151.8 L373.4,153.8 L373.4,155.8 L373.4,157.8 L373.4,159.8 L373.4,161.8 L373.4,163.8 L373.5,165.8 L373.5,167.8 L373.5,169.8 L373.5,171.8 L373.5,173.8 L373.5,175.8 L373.5,177.8 L373.5,179.8 L373.5,181.8 L373.5,183.8 L373.5,185.8 L373.5,187.8 L373.5,189.8 L373.5,191.8 L373.5,193.8 L373.6,195.8 L373.6,197.8 L373.6,199.8 L373.6,201.8 L373.6,203.8 L373.6,205.8 L373.6,207.8 L373.6,209.8 L373.6,211.8 L373.6,213.7 L373.6,215.7 L373.6,217.7 L373.6,219.7 L373.6,221.7 L373.6,223.7 L373.6,225.7 L373.6,227.7 L373.6,229.7 L373.7,231.7 L373.7,233.7 L373.7,235.7 L373.7,237.7 L373.7,239.7 L373.7,241.7 L373.7,243.7 L373.7,245.7 L373.7,247.7 L373.7,249.7 L373.7,251.7 L373.7,253.7 L373.7,255.7 L373.7,257.7 L373.7,259.7 L373.7,261.7 L373.7,263.7 L373.7,265.7 L373.7,267.7 L373.7,269.7 L373.7,271.7 L373.8,273.7 L373.8,275.7 L373.8,277.7 L373.8,279.7 L373.8,281.7 L373.8,283.7 L373.8,285.7 L373.8,287.7 L373.8,289.7 L373.8,291.7 L373.8,293.7 L373.8,295.7 L373.8,297.7 L373.8,299.7 L373.8,301.7 L373.8,303.7 L373.8,305.7 L373.8,307.7 L373.8,309.7 L373.8,311.7 L373.8,313.7 L373.8,315.7 L373.8,317.7 L373.8,319.7 L373.9,321.7 L373.9,323.7 L373.9,325.7 L373.9,327.7 L373.9,329.7 L373.9,331.7 L373.9,333.7 L373.9,335.7 L373.9,337.7 L373.9,339.7 L373.9,341.7 L373.9,343.7 L373.9,345.7 L373.9,347.7 L373.9,349.7 L373.9,351.7 L373.9,353.7 L373.9,355.7 L373.9,357.7 L373.9,359.7 L373.9,361.7 L373.9,363.7 L373.9,365.7 L373.9,367.7 L373.9,369.7 L373.9,371.7 L374.0,373.7 L374.0,375.7 L374.0,377.7 L374.0,379.7 L374.0,381.7 L374.0,383.7 L374.0,385.7 L374.0,387.7 L374.0,389.7 L374.0,391.7 L374.0,393.7 L374.0,395.7 L374.0,397.7 L374.0,399.7 L374.0,401.7 L374.0,403.7 L374.0,405.7 L374.0,407.7 L374.0,409.7 L374.0,411.7 L374.0,413.7 L374.0,415.7 L374.0,417.7 L374.0,419.7 L374.0,421.7 L374.0,423.7 L374.1,425.7 L374.1,427.7 L374.1,429.7 L374.1,431.7 L374.1,433.7 L374.1,435.7 L374.1,437.7 L374.1,439.7 L374.1,441.7 L374.1,443.7 L374.1,445.7 L374.1,447.7 L374.1,449.7 L374.1,451.7 L374.1,453.7 L374.1,455.7 L374.1,457.7 L374.1,459.7 L374.1,461.7 L374.1,463.7 L374.1,465.7 L374.1,467.7 L374.1,469.7 L374.1,471.7 L374.1,473.7 L374.1,475.7 L374.1,477.7 L374.2,479.7 L374.2,481.7 L374.2,483.7 L374.2,485.7 L374.2,487.7 L374.2,489.7 L374.2,491.7 L374.2,493.7 L374.2,495.7 L374.2,497.7 L374.2,499.7 L374.2,501.7 L374.2,503.7 L374.2,505.7 L374.2,507.7 L374.2,509.7 L374.2,511.7 L374.2,513.7 L374.2,515.7 L374.2,517.7 L374.2,519.7 L374.2,521.7 L374.2,523.7 L374.2,525.7 L374.2,527.7 L374.2,529.7 L374.2,531.7 L374.2,533.7 L374.2,535.7 L374.2,537.7 L374.2,539.7 L374.2,541.7 L374.2,543.7 L374.2,545.7 L374.2,547.7 L374.2,549.7 L374.2,551.7 L374.2,553.7 L374.2,555.6 L374.2,557.6 L374.2,559.6 L374.2,561.6 L374.2,563.6 L374.2,565.6 L374.2,567.6 L374.2,569.6 L374.2,571.6 L374.2,573.6 L374.2,575.6 L374.2,577.6 L374.2,579.6 L374.2,581.6 L374.2,583.6 L374.2,585.6 L374.2,587.6 L374.2,589.6 L374.2,591.6 L374.2,593.6 L374.2,595.6 L374.2,597.6 L374.2,599.6 L374.2,601.6 L374.2,603.6 L374.2,605.6 L374.2,607.6 L374.2,609.6 L374.2,611.6 L374.2,613.6 L374.2,615.6 L374.2,617.6 L374.2,619.6 L374.3,621.6 L374.3,623.6 L374.3,625.6 L374.3,627.6 L374.3,629.6 L374.3,631.6 L374.3,633.6 L374.3,635.6 L374.3,637.6 L374.3,639.6 L374.3,641.6 L374.3,643.6 L374.3,645.6 L374.3,647.6 L374.3,649.6 L374.3,651.6 L374.3,653.6 L374.3,655.6 L374.3,657.6 L374.3,659.6 L374.3,661.6 L374.3,663.6 L374.3,665.6 L374.3,667.6 L374.3,669.6 L374.3,671.6 L374.3,673.6 L374.3,675.6 L374.3,677.6 L374.3,679.6 L374.3,681.6 L374.3,683.6 L374.3,685.6 L374.3,687.6 L374.3,689.6 L374.3,691.6 L374.3,693.6 L374.3,695.6 L374.3,697.6 L374.3,699.6 L374.3,701.6 L374.4,703.6 L374.4,705.6 L374.4,707.6 L374.4,709.6 L374.4,711.6 L374.4,713.6 L374.4,715.6 L374.4,717.6 L374.4,719.6 L374.4,721.6 L374.4,723.6 L374.4,725.6 L374.4,727.6 L374.4,729.6 L374.4,731.6 L374.4,733.6 L374.4,735.6 L374.5,737.6 L374.5,739.6 L374.5,741.6 L374.5,743.6 L374.5,745.6 L374.5,747.6 L374.5,749.6 L374.5,751.6 L374.5,753.6 L374.5,755.6 L374.5,757.6 L374.5,759.6 L374.6,761.6 L374.6,763.6 L374.6,765.6 L374.6,767.6 L374.6,769.6 L374.6,771.6 L374.6,773.6 L374.6,775.6 L374.6,777.6 L374.7,779.6 L374.7,781.6 L374.7,783.6 L374.7,785.6 L374.7,787.6 L374.7,789.6 L374.7,791.6 L374.8,793.6 L374.8,795.6 L374.8,797.6 L374.8,799.6 L374.8,801.6 L374.8,803.6 L374.8,805.6 L374.9,807.6 L374.9,809.6 L374.9,811.6 L374.9,813.6 L374.9,815.6 L374.9,817.6 L375.0,819.6 L375.0,821.6 L375.0,823.6 L375.0,825.6 L375.0,827.6 L375.0,829.6 L375.1,831.6 L375.1,833.6 L375.1,835.6 L375.1,837.6 L375.1,839.6 L375.1,841.6 L375.2,843.6 L375.2,845.6 L375.2,847.6 L375.2,849.6 L375.2,851.6 L375.3,853.6 L375.3,855.6 L375.3,857.6 L375.3,859.6 L375.3,861.6 L375.3,863.6 L375.4,865.6 L375.4,867.6 L375.4,869.6 L375.4,871.6 L375.4,873.6 L375.4,875.6 L375.5,877.6 L375.5,879.6 L375.5,881.6 L375.5,883.6 L375.5,885.6 L375.5,887.5 L375.5,889.5 L375.6,891.5 L375.6,893.5 L375.6,895.5 L375.6,897.5 L375.6,899.5 L375.6,901.5 L375.6,903.5 L375.7,905.5 L375.7,907.5 L375.7,909.5 L375.7,911.5 L375.7,913.5 L375.7,915.5 L375.7,917.5 L375.7,919.5 L375.8,921.5 L375.8,923.5 L375.8,925.5 L375.8,927.5 L375.8,929.5 L375.8,931.5 L375.8,933.5 L375.8,935.5 L375.8,937.5 L375.8,939.5 L375.8,941.5 L375.9,943.5 L375.9,945.5 L375.9,947.5 L375.9,949.5 L375.9,951.5 L375.9,953.5 L375.9,955.5 L375.9,957.5 L375.9,959.5 L375.9,961.5 L375.9,963.5 L375.9,965.5 L375.9,967.5 L375.9,969.5 L375.9,971.5 L375.9,973.5 L376.0,975.5 L376.0,977.5 L376.0,979.5 L376.0,981.5 L376.0,983.5 L376.0,985.5 L376.0,987.5 L376.0,989.5 L376.0,991.5 L376.0,993.5 L376.0,995.5 L376.0,997.5 L376.0,999.5 L376.0,1001.5 L376.0,1003.5 L376.0,1005.5 L376.0,1007.5 L376.0,1009.5 L376.0,1011.5 L376.0,1013.5 L376.0,1015.5 L376.0,1017.5 L376.0,1019.5 L376.0,1021.5 L376.0,1023.5 L376.0,1025.5 L376.0,1027.5 L376.0,1029.5 L376.0,1031.5 L376.0,1033.5 L376.0,1035.5 L376.0,1037.5 L376.0,1039.5 L376.0,1041.5 L376.0,1043.5 L376.0,1045.5 L376.1,1047.5 L376.1,1049.5 L376.1,1051.5 L376.1,1053.5 L376.1,1055.5 L376.1,1057.5 L376.1,1059.5 L376.1,1061.5 L376.1,1063.5 L376.1,1065.5 L376.1,1067.5 L376.1,1069.5 L376.1,1071.5 L376.1,1073.5 L376.1,1075.5 L376.1,1077.5 L376.1,1079.5 L376.1,1081.5 L376.1,1083.5 L376.1,1085.5 L376.1,1087.5 L376.1,1089.5 L376.1,1091.5 L376.1,1093.5 L376.1,1095.5 L376.1,1097.5 L376.1,1099.5 L376.1,1101.5 L376.1,1103.5 L376.1,1105.5 L376.1,1107.5 L376.1,1109.5 L376.1,1111.5 L376.1,1113.5 L376.1,1115.5 L376.1,1117.5 L376.1,1119.5 L376.1,1121.5 L376.1,1123.5 L376.2,1125.5 L376.2,1127.5 L376.2,1129.5 L376.2,1131.5 L376.2,1133.5 L376.2,1135.5 L376.2,1137.5 L376.2,1139.5 L376.2,1141.5 L376.2,1143.5 L376.2,1145.5 L376.2,1147.5 L376.2,1149.5 L376.2,1151.5 L376.2,1153.5 L376.2,1155.5 L376.2,1157.5 L376.2,1159.5 L376.3,1161.5 L376.3,1163.5 L376.3,1165.5 L376.3,1167.5 L376.3,1169.5 L376.3,1171.5 L376.3,1173.5 L376.3,1175.5 L376.3,1177.5 L376.3,1179.5 L376.4,1181.5 L376.4,1183.5 L376.4,1185.5 L376.4,1187.5 L376.4,1189.5 L376.4,1191.5 L376.4,1193.5 L376.4,1195.5 L376.5,1197.5 L376.5,1199.5 L376.5,1201.5 L376.5,1203.5 L376.5,1205.5 L376.5,1207.5 L376.5,1209.5 L376.6,1211.5 L376.6,1213.5 L376.6,1215.5 L376.6,1217.5 L376.6,1219.5 L376.7,1221.4 L376.7,1223.4 L376.7,1225.4 L376.7,1227.4 L376.7,1229.4 L376.7,1231.4 L376.8,1233.4 L376.8,1235.4 L376.8,1237.4 L376.8,1239.4 L376.9,1241.4 L376.9,1243.4 L376.9,1245.4 L376.9,1247.4 L376.9,1249.4 L377.0,1251.4 L377.0,1253.4 L377.0,1255.4 L377.0,1257.4 L377.1,1259.4 L377.1,1261.4 L377.1,1263.4 L377.1,1265.4 L377.1,1267.4 L377.2,1269.4 L377.2,1271.4 L377.2,1273.4 L377.2,1275.4 L377.3,1277.4 L377.3,1279.4 L377.3,1281.4 L377.3,1283.4 L377.4,1285.4 L377.4,1287.4 L377.4,1289.4 L377.4,1291.4 L377.5,1293.4 L377.5,1295.4 L377.5,1297.4 L377.5,1299.4 L377.6,1301.4 L377.6,1303.4 L377.6,1305.4 L377.6,1307.4 L377.7,1309.4 L377.7,1311.4 L377.7,1313.4 L377.7,1315.4 L377.8,1317.4 L377.8,1319.4 L377.8,1321.4 L377.8,1323.4 L377.9,1325.4 L377.9,1327.4 L377.9,1329.4 L377.9,1331.4 L378.0,1333.4 L378.0,1335.4 L378.0,1337.4 L378.0,1339.4 L378.1,1341.4 L378.1,1343.4 L378.1,1345.4 L378.1,1347.4 L378.2,1349.4 L378.2,1351.4 L378.2,1353.4 L378.2,1355.4 L378.3,1357.4 L378.3,1359.4 L550.0,1359.4 L550.1,1357.4 L550.1,1355.4 L550.2,1353.4 L550.2,1351.4 L550.3,1349.4 L550.3,1347.4 L550.4,1345.4 L550.4,1343.4 L550.5,1341.4 L550.6,1339.4 L550.6,1337.4 L550.7,1335.4 L550.7,1333.4 L550.8,1331.4 L550.8,1329.4 L550.8,1327.4 L550.9,1325.4 L550.9,1323.4 L550.9,1321.4 L551.0,1319.4 L551.0,1317.4 L551.0,1315.4 L551.0,1313.4 L551.1,1311.4 L551.1,1309.4 L551.1,1307.4 L551.1,1305.4 L551.1,1303.4 L551.1,1301.4 L551.1,1299.4 L551.1,1297.4 L551.2,1295.5 L551.2,1293.5 L551.2,1291.5 L551.2,1289.5 L551.2,1287.5 L551.2,1285.5 L551.2,1283.5 L551.2,1281.5 L551.2,1279.5 L551.3,1277.5 L551.3,1275.5 L551.3,1273.5 L551.3,1271.5 L551.3,1269.5 L551.3,1267.5 L551.3,1265.5 L551.4,1263.5 L551.4,1261.5 L551.4,1259.5 L551.4,1257.5 L551.5,1255.5 L551.5,1253.5 L551.5,1251.5 L551.5,1249.5 L551.6,1247.5 L551.6,1245.5 L551.6,1243.5 L551.7,1241.5 L551.7,1239.5 L551.7,1237.5 L551.8,1235.5 L551.8,1233.5 L551.9,1231.5 L551.9,1229.5 L551.9,1227.5 L552.0,1225.5 L552.0,1223.5 L552.0,1221.5 L552.1,1219.5 L552.1,1217.5 L552.1,1215.5 L552.2,1213.5 L552.2,1211.5 L552.2,1209.5 L552.3,1207.5 L552.3,1205.5 L552.3,1203.5 L552.3,1201.5 L552.4,1199.5 L552.4,1197.5 L552.4,1195.5 L552.4,1193.5 L552.5,1191.5 L552.5,1189.5 L552.5,1187.5 L552.5,1185.5 L552.5,1183.5 L552.5,1181.5 L552.5,1179.5 L552.5,1177.5 L552.6,1175.5 L552.6,1173.5 L552.6,1171.5 L552.6,1169.5 L552.6,1167.5 L552.6,1165.5 L552.6,1163.5 L552.6,1161.5 L552.6,1159.5 L552.6,1157.5 L552.6,1155.5 L552.7,1153.5 L552.7,1151.5 L552.7,1149.5 L552.7,1147.5 L552.7,1145.5 L552.7,1143.6 L552.7,1141.6 L552.7,1139.6 L552.8,1137.6 L552.8,1135.6 L552.8,1133.6 L552.8,1131.6 L552.9,1129.6 L552.9,1127.6 L552.9,1125.6 L552.9,1123.6 L553.0,1121.6 L553.0,1119.6 L553.0,1117.6 L553.0,1115.6 L553.1,1113.6 L553.1,1111.6 L553.1,1109.6 L553.2,1107.6 L553.2,1105.6 L553.2,1103.6 L553.3,1101.6 L553.3,1099.6 L553.3,1097.6 L553.4,1095.6 L553.4,1093.6 L553.4,1091.6 L553.5,1089.6 L553.5,1087.6 L553.5,1085.6 L553.6,1083.6 L553.6,1081.6 L553.6,1079.6 L553.7,1077.6 L553.7,1075.6 L553.8,1073.6 L553.8,1071.6 L553.8,1069.6 L553.9,1067.6 L553.9,1065.6 L553.9,1063.6 L554.0,1061.6 L554.0,1059.6 L554.0,1057.6 L554.1,1055.6 L554.1,1053.6 L554.2,1051.6 L554.2,1049.6 L554.2,1047.6 L554.3,1045.6 L554.3,1043.6 L554.3,1041.6 L554.4,1039.6 L554.4,1037.6 L554.5,1035.6 L554.5,1033.6 L554.5,1031.6 L554.6,1029.6 L554.6,1027.6 L554.7,1025.6 L554.7,1023.6 L554.7,1021.6 L554.8,1019.6 L554.8,1017.6 L554.8,1015.6 L554.9,1013.6 L554.9,1011.6 L555.0,1009.6 L555.0,1007.7 L555.0,1005.7 L555.1,1003.7 L555.1,1001.7 L555.2,999.7 L555.2,997.7 L555.2,995.7 L555.3,993.7 L555.3,991.7 L555.3,989.7 L555.4,987.7 L555.4,985.7 L555.5,983.7 L555.5,981.7 L555.5,979.7 L555.6,977.7 L555.6,975.7 L555.7,973.7 L555.7,971.7 L555.7,969.7 L555.8,967.7 L555.8,965.7 L555.9,963.7 L555.9,961.7 L555.9,959.7 L556.0,957.7 L556.0,955.7 L556.1,953.7 L556.1,951.7 L556.2,949.7 L556.2,947.7 L556.3,945.7 L556.3,943.7 L556.4,941.7 L556.4,939.7 L556.5,937.7 L556.5,935.7 L556.6,933.7 L556.7,931.7 L556.7,929.7 L556.8,927.7 L556.8,925.7 L556.9,923.7 L557.0,921.7 L557.0,919.7 L557.1,917.7 L557.2,915.7 L557.2,913.7 L557.3,911.7 L557.4,909.7 L557.4,907.7 L557.5,905.7 L557.6,903.7 L557.6,901.7 L557.7,899.8 L557.8,897.8 L557.8,895.8 L557.9,893.8 L557.9,891.8 L558.0,889.8 L558.1,887.8 L558.1,885.8 L558.2,883.8 L558.2,881.8 L558.3,879.8 L558.3,877.8 L558.4,875.8 L558.4,873.8 L558.5,871.8 L558.5,869.8 L558.5,867.8 L558.6,865.8 L558.6,863.8 L558.7,861.8 L558.7,859.8 L558.8,857.8 L558.8,855.8 L558.8,853.8 L558.9,851.8 L558.9,849.8 L558.9,847.8 L559.0,845.8 L559.0,843.8 L559.1,841.8 L559.1,839.8 L559.1,837.8 L559.2,835.8 L559.2,833.8 L559.2,831.8 L559.3,829.8 L559.3,827.8 L559.4,825.8 L559.4,823.8 L559.4,821.8 L559.5,819.8 L559.5,817.8 L559.6,815.8 L559.6,813.8 L559.6,811.8 L559.7,809.8 L559.7,807.8 L559.8,805.8 L559.8,803.8 L559.9,801.8 L559.9,799.8 L559.9,797.8 L560.0,795.8 L560.0,793.8 L560.1,791.8 L560.1,789.8 L560.2,787.8 L560.2,785.8 L560.2,783.8 L560.3,781.8 L560.3,779.9 L560.4,777.9 L560.4,775.9 L560.4,773.9 L560.5,771.9 L560.5,769.9 L560.6,767.9 L560.6,765.9 L560.6,763.9 L560.7,761.9 L560.7,759.9 L560.8,757.9 L560.8,755.9 L560.8,753.9 L560.9,751.9 L560.9,749.9 L561.0,747.9 L561.0,745.9 L561.0,743.9 L561.1,741.9 L561.1,739.9 L561.1,737.9 L561.2,735.9 L561.2,733.9 L561.3,731.9 L561.3,729.9 L561.3,727.9 L561.4,725.9 L561.4,723.9 L561.4,721.9 L561.5,719.9 L561.5,717.9 L561.6,715.9 L561.6,713.9 L561.6,711.9 L561.7,709.9 L561.7,707.9 L561.7,705.9 L561.8,703.9 L561.8,701.9 L561.9,699.9 L561.9,697.9 L561.9,695.9 L562.0,693.9 L562.0,691.9 L562.1,689.9 L562.1,687.9 L562.1,685.9 L562.2,683.9 L562.2,681.9 L562.3,679.9 L562.3,677.9 L562.4,675.9 L562.4,673.9 L562.5,671.9 L562.5,669.9 L562.6,667.9 L562.6,665.9 L562.7,663.9 L562.7,661.9 L562.7,659.9 L562.8,657.9 L562.8,655.9 L562.9,654.0 L562.9,652.0 L563.0,650.0 L563.0,648.0 L563.1,646.0 L563.1,644.0 L563.2,642.0 L563.2,640.0 L563.2,638.0 L563.3,636.0 L563.3,634.0 L563.4,632.0 L563.4,630.0 L563.4,628.0 L563.5,626.0 L563.5,624.0 L563.5,622.0 L563.6,620.0 L563.6,618.0 L563.6,616.0 L563.7,614.0 L563.7,612.0 L563.7,610.0 L563.8,608.0 L563.8,606.0 L563.8,604.0 L563.8,602.0 L563.9,600.0 L563.9,598.0 L563.9,596.0 L564.0,594.0 L564.0,592.0 L564.0,590.0 L564.0,588.0 L564.1,586.0 L564.1,584.0 L564.1,582.0 L564.2,580.0 L564.2,578.0 L564.2,576.0 L564.3,574.0 L564.3,572.0 L564.3,570.0 L564.4,568.0 L564.4,566.0 L564.5,564.0 L564.5,562.0 L564.5,560.0 L564.6,558.0 L564.6,556.0 L564.7,554.0 L564.7,552.0 L564.7,550.0 L564.8,548.0 L564.8,546.0 L564.9,544.0 L564.9,542.0 L564.9,540.0 L565.0,538.0 L565.0,536.0 L565.1,534.0 L565.1,532.0 L565.2,530.0 L565.2,528.0 L565.3,526.1 L565.3,524.1 L565.4,522.1 L565.4,520.1 L565.5,518.1 L565.6,516.1 L565.6,514.1 L565.7,512.1 L565.7,510.1 L565.8,508.1 L565.9,506.1 L566.0,504.1 L566.0,502.1 L566.1,500.1 L566.2,498.1 L566.3,496.1 L566.4,494.1 L566.5,492.1 L566.6,490.1 L566.7,488.1 L566.8,486.1 L566.9,484.1 L567.0,482.1 L567.1,480.1 L567.2,478.1 L567.3,476.1 L567.4,474.1 L567.5,472.1 L567.6,470.1 L567.7,468.1 L567.8,466.1 L568.0,464.1 L568.1,462.2 L568.2,460.2 L568.3,458.2 L568.4,456.2 L568.5,454.2 L568.6,452.2 L568.8,450.2 L568.9,448.2 L569.0,446.2 L569.1,444.2 L569.2,442.2 L569.3,440.2 L569.5,437.7 L569.8,435.1 L570.0,432.4 L570.3,429.8 L570.5,427.2 L570.7,424.6 L571.0,422.0 L571.2,419.4 L571.5,416.9 L571.7,414.5 L572.0,412.2 L572.3,410.0 L572.5,408.4 L572.8,406.8 L573.0,405.2 L573.2,403.7 L573.5,402.2 L573.7,400.7 L574.0,399.3 L574.2,397.9 L574.5,396.6 L574.7,395.3 L575.0,394.1 L575.2,392.9 L575.4,392.1 L575.5,391.4 L575.6,390.6 L575.8,389.9 L575.9,389.3 L576.1,388.6 L576.2,388.0 L576.4,387.3 L576.5,386.7 L576.7,386.1 L576.9,385.4 L577.1,384.8 L577.3,384.2 L577.5,383.6 L577.7,383.0 L577.9,382.3 L578.2,381.7 L578.4,381.1 L578.7,380.5 L578.9,380.0 L579.2,379.4 L579.5,378.9 L579.8,378.4 L580.2,377.9 L580.5,377.5 L580.9,377.1 L581.3,376.6 L581.7,376.2 L582.2,375.8 L582.6,375.5 L583.1,375.1 L583.5,374.8 L584.0,374.6 L584.4,374.4 L584.9,374.2 L585.3,374.1 L585.7,374.1 L586.0,374.1 L586.4,374.1 L586.7,374.2 L587.1,374.3 L587.5,374.4 L587.8,374.6 L588.2,374.8 L588.5,374.9 L588.8,375.1 L589.2,375.3 L589.5,375.5 L589.8,375.7 L590.1,375.9 L590.4,376.1 L590.7,376.3 L591.0,376.6 L591.2,376.8 L591.5,377.1 L591.8,377.3 L592.1,377.6 L592.4,377.9 L592.7,378.3 L593.0,378.6 L593.6,379.3 L594.3,380.0 L595.0,380.8 L595.7,381.7 L596.4,382.6 L597.2,383.5 L598.0,384.5 L598.8,385.5 L599.6,386.5 L600.4,387.5 L601.2,388.5 L602.0,389.5 L602.9,390.6 L603.8,391.6 L604.6,392.7 L605.5,393.7 L606.4,394.8 L607.3,395.9 L608.2,397.0 L609.1,398.1 L610.1,399.3 L611.1,400.5 L612.1,401.7 L613.1,403.0 L614.5,404.8 L616.0,406.7 L617.6,408.7 L619.2,410.7 L620.8,412.8 L622.5,414.9 L624.2,417.1 L625.8,419.2 L627.5,421.4 L629.2,423.6 L630.9,425.7 L632.5,427.8 L633.8,429.3 L635.0,430.9 L636.3,432.4 L637.6,434.0 L638.8,435.5 L640.1,437.1 L641.4,438.6 L642.6,440.2 L643.9,441.7 L645.1,443.3 L646.4,444.8 L647.7,446.4 L648.9,447.9 L650.2,449.4 L651.5,451.0 L652.7,452.5 L654.0,454.1 L655.3,455.6 L656.6,457.1 L657.9,458.7 L659.1,460.2 L660.4,461.7 L661.7,463.2 L663.0,464.8 L664.3,466.3 L665.6,467.8 L666.9,469.3 L668.2,470.8 L669.5,472.4 L670.8,473.9 L672.1,475.4 L673.4,476.9 L674.7,478.4 L676.0,479.9 L677.3,481.5 L678.6,483.0 L679.9,484.5 L681.2,486.0 L682.5,487.5 L683.8,489.0 L685.2,490.5 L686.5,492.0 L687.8,493.5 L689.1,495.0 L690.5,496.5 L691.8,498.0 L693.1,499.4 L694.5,500.9 L695.8,502.4 L697.2,503.9 L698.5,505.3 L699.9,506.8 L701.2,508.3 L702.6,509.7 L704.0,511.2 L705.4,512.6 L706.7,514.1 L708.1,515.5 L709.5,516.9 L710.9,518.4 L712.3,519.8 L713.7,521.2 L715.1,522.7 L716.5,524.1 L717.9,525.5 L719.3,527.0 L720.7,528.4 L722.1,529.8 L723.5,531.2 L724.9,532.6 L726.3,534.0 L727.7,535.4 L729.2,536.8 L730.6,538.2 L732.1,539.6 L733.5,540.9 L735.0,542.3 L736.4,543.7 L737.9,545.0 L739.4,546.4 L740.9,547.7 L742.4,549.0 L743.9,550.3 L745.4,551.7 L746.9,553.0 L748.4,554.2 L749.9,555.5 L751.5,556.8 L753.0,558.1 L754.6,559.3 L756.1,560.6 L757.7,561.8 L759.3,563.0 L760.9,564.2 L762.5,565.4 L764.0,566.6 L765.7,567.8 L767.3,569.0 L768.9,570.2 L770.5,571.4 L772.1,572.5 L773.7,573.7 L775.4,574.9 L777.0,576.0 L778.6,577.1 L780.3,578.3 L781.9,579.4 L783.6,580.5 L785.2,581.7 L786.9,582.8 L788.5,583.9 L790.2,585.0 L791.9,586.1 L793.5,587.2 L795.2,588.3 L796.8,589.4 L798.5,590.5 L800.2,591.6 L801.9,592.7 L803.5,593.8 L805.2,594.9 L806.9,596.0 L808.6,597.1 L810.2,598.1 L811.9,599.2 L813.6,600.3 L815.3,601.3 L817.0,602.4 L818.7,603.4 L820.4,604.5 L822.1,605.5 L823.8,606.6 L825.5,607.6 L827.2,608.6 L829.0,609.6 L830.7,610.7 L832.4,611.7 L834.1,612.7 L835.8,613.7 L837.6,614.7 L839.3,615.7 L841.0,616.7 L842.8,617.7 L844.5,618.7 L846.2,619.6 L848.0,620.6 L849.7,621.6 L851.5,622.6 L853.2,623.5 L855.0,624.5 L856.7,625.4 L858.5,626.4 L860.2,627.3 L862.0,628.3 L863.8,629.2 L865.5,630.2 L867.3,631.1 L869.1,632.0 L870.8,632.9 L872.6,633.9 L874.4,634.8 L876.2,635.7 L878.0,636.6 L879.7,637.5 L881.5,638.4 L883.3,639.3 L885.1,640.1 L886.9,641.0 L888.7,641.9 L890.5,642.8 L892.3,643.7 L894.1,644.5 L895.9,645.4 L897.7,646.2 L899.5,647.1 L901.3,647.9 L903.1,648.8 L904.9,649.6 L906.7,650.5 L908.5,651.3 L910.4,652.1 L912.2,653.0 L914.0,653.8 L915.8,654.6 L917.6,655.4 L919.5,656.2 L921.3,657.0 L923.1,657.8 L925.0,658.6 L926.8,659.4 L928.6,660.2 L930.5,661.0 L932.3,661.8 L934.1,662.5 L936.0,663.3 L937.8,664.1 L939.7,664.9 L941.5,665.6 L943.4,666.4 L945.2,667.1 L947.1,667.9 L948.9,668.6 L950.8,669.3 L952.6,670.1 L954.5,670.8 L956.4,671.5 L958.2,672.2 L960.1,673.0 L961.9,673.7 L963.8,674.4 L965.7,675.1 L967.6,675.8 L969.4,676.5 L971.3,677.1 L973.2,677.8 L975.1,678.5 L977.0,679.2 L978.8,679.8 L980.7,680.5 L982.6,681.1 L984.5,681.8 L986.4,682.4 L988.3,683.1 L990.2,683.7 L992.1,684.3 L994.0,685.0 L995.9,685.6 L997.8,686.2 L999.7,686.8 L1001.6,687.4 L1003.5,688.0 L1005.4,688.6 L1007.3,689.2 L1009.2,689.8 L1011.1,690.4 L1013.0,690.9 L1014.9,691.5 L1016.8,692.1 L1018.8,692.6 L1020.7,693.2 L1022.6,693.8 L1024.5,694.3 L1026.4,694.9 L1028.4,695.4 L1030.3,695.9 L1032.2,696.5 L1034.1,697.0 L1036.1,697.5 L1038.0,698.0 L1039.9,698.5 L1041.9,699.1 L1043.8,699.6 L1045.7,700.1 L1047.7,700.5 L1049.6,701.0 L1051.5,701.5 L1053.5,702.0 L1055.4,702.5 L1057.3,702.9 L1059.3,703.4 L1061.2,703.9 L1063.2,704.3 L1065.1,704.8 L1067.1,705.2 L1069.0,705.7 L1071.0,706.1 L1072.9,706.6 L1074.9,707.0 L1076.8,707.4 L1078.8,707.8 L1080.7,708.3 L1082.7,708.7 L1084.6,709.1 L1086.6,709.5 L1088.5,709.9 L1090.5,710.3 L1092.5,710.7 L1094.4,711.0 L1096.4,711.4 L1098.3,711.8 L1100.3,712.2 L1102.3,712.5 L1104.2,712.9 L1106.2,713.2 L1108.2,713.6 L1110.1,713.9 L1112.1,714.2 L1114.1,714.6 L1116.0,714.9 L1118.0,715.2 L1120.0,715.5 L1122.0,715.8 L1123.9,716.1 L1125.9,716.4 L1127.9,716.8 L1129.9,717.1 L1131.8,717.4 L1133.8,717.7 L1135.8,718.0 L1137.8,718.3 L1139.7,718.6 L1141.7,718.9 L1143.7,719.2 L1145.6,719.5 L1147.6,719.8 L1149.6,720.1 L1151.6,720.4 L1153.5,720.7 L1155.5,721.0 L1157.5,721.3 L1159.5,721.6 L1161.4,721.9 L1163.4,722.2 L1165.4,722.4 L1167.4,722.7 L1169.3,723.0 L1171.3,723.3 L1173.3,723.6 L1175.3,723.9 L1177.3,724.2 L1179.2,724.4 L1181.2,724.7 L1183.2,725.0 L1185.2,725.2 L1187.2,725.5 L1189.1,725.7 L1191.1,726.0 L1193.1,726.2 L1195.1,726.4 L1197.1,726.7 L1199.0,726.9 L1201.0,727.1 L1203.0,727.4 L1205.0,727.6 L1207.0,727.6 L1209.0,727.7 L1211.0,727.7 L1213.0,727.8 L1215.0,727.8 L1217.0,727.8 L1219.0,727.9 L1221.0,727.9 L1223.0,727.9 L1225.0,728.0 L1227.0,728.0 L1229.0,728.0 L1231.0,728.0 L1233.0,728.0 L1235.0,728.0 L1237.0,728.0 L1239.0,728.0 L1241.0,727.9 L1243.0,727.9 L1245.0,727.9 L1247.0,727.8 L1249.0,727.8 L1251.0,727.8 L1253.0,727.7 L1255.0,727.7 L1257.0,727.7 L1259.0,727.7 L1261.0,727.6 L1263.0,727.6" fill="none" stroke="#7E2F8E" stroke-width="10.4" stroke-linejoin="round" stroke-linecap="butt" stroke-dasharray="31.3 31.8"/>
<path d="M1263.0,727.6 L1265.0,727.6 L1267.0,727.6 L1269.0,727.6 L1271.0,727.5 L1273.0,727.5 L1275.0,727.5 L1277.0,727.5 L1279.0,727.5 L1281.0,727.5 L1283.0,727.5 L1285.0,727.5 L1287.0,727.4 L1289.0,727.4 L1291.0,727.4 L1293.0,727.4 L1295.0,727.4 L1297.0,727.4 L1299.0,727.4 L1301.0,727.4 L1303.0,727.3 L1305.0,727.3 L1307.0,727.3 L1309.0,727.3 L1311.0,727.3 L1313.0,727.3 L1315.0,727.3 L1317.0,727.3 L1319.0,727.2 L1321.0,727.2 L1323.0,727.2 L1325.0,727.2 L1327.0,727.2 L1329.1,727.2 L1331.1,727.2 L1333.1,727.2 L1335.1,727.1 L1337.1,727.1 L1339.1,727.1 L1341.1,727.1 L1343.1,727.1 L1345.1,727.1 L1347.1,727.1 L1349.1,727.1 L1351.1,727.0 L1353.1,727.0 L1355.1,727.0 L1357.1,727.0 L1359.1,727.0 L1361.1,727.0 L1363.1,727.0 L1365.1,726.9 L1367.1,726.9 L1369.1,726.9 L1371.1,726.9 L1373.1,726.9 L1375.1,726.9 L1377.1,726.9 L1379.1,726.8 L1381.1,726.8 L1383.1,726.8 L1385.1,726.8 L1387.1,726.8 L1389.1,726.8 L1391.1,726.8 L1393.1,726.8 L1395.1,726.7 L1397.1,726.7 L1399.1,726.7 L1401.1,726.7 L1403.1,726.7 L1405.1,726.7 L1407.1,726.7 L1409.1,726.7 L1411.1,726.7 L1413.1,726.7 L1415.1,726.7 L1417.1,726.7 L1419.1,726.7 L1421.1,726.7 L1423.1,726.7 L1425.1,726.7 L1427.1,726.7 L1429.1,726.7 L1431.1,726.7 L1433.1,726.7 L1435.1,726.7 L1437.1,726.7 L1439.1,726.7 L1441.1,726.7 L1443.1,726.7 L1445.1,726.7 L1447.1,726.7 L1449.1,726.7 L1451.1,726.7 L1453.1,726.7 L1455.1,726.7 L1457.2,726.7 L1459.2,726.7 L1461.2,726.7 L1463.2,726.7 L1465.2,726.7 L1467.2,726.7 L1469.2,726.7 L1471.2,726.7 L1473.2,726.7 L1475.2,726.7 L1477.2,726.7 L1479.2,726.6 L1481.2,726.6 L1483.2,726.6 L1485.2,726.6 L1487.2,726.6 L1489.2,726.6 L1491.2,726.5 L1493.2,726.5 L1495.2,726.5 L1497.2,726.5 L1499.2,726.5 L1501.2,726.5 L1503.2,726.4 L1505.2,726.4 L1507.2,726.4 L1509.2,726.4 L1511.2,726.4 L1513.2,726.3 L1515.2,726.3 L1517.2,726.3 L1519.2,726.3 L1521.2,726.3 L1523.2,726.3 L1525.2,726.2 L1527.2,726.2 L1529.2,726.2 L1531.2,726.2 L1533.2,726.2 L1535.2,726.2 L1537.2,726.2 L1539.2,726.1 L1541.2,726.1 L1543.2,726.1 L1545.2,726.1 L1547.2,726.1 L1549.2,726.1 L1551.2,726.1 L1553.2,726.1 L1555.2,726.1 L1557.2,726.0 L1559.2,726.0 L1561.2,726.0 L1563.2,726.0 L1565.2,726.0 L1567.2,726.0 L1569.2,726.0 L1571.2,726.0 L1573.2,726.0 L1575.2,726.0 L1577.2,725.9 L1579.2,725.9 L1581.2,725.9 L1583.2,725.9 L1585.2,725.9 L1587.2,725.9 L1589.3,725.9 L1591.3,725.9 L1593.3,725.9 L1595.3,725.9 L1597.3,725.9 L1599.3,725.9 L1601.3,725.9 L1603.3,725.9 L1605.3,725.9 L1607.3,725.9 L1609.3,725.9 L1611.3,725.9 L1613.3,725.9 L1615.3,725.9 L1617.3,725.9 L1619.3,725.9 L1621.3,725.9 L1623.3,725.9 L1625.3,725.9 L1627.3,725.9 L1629.3,725.9 L1631.3,725.9 L1633.3,726.0 L1635.3,726.0 L1637.3,726.0 L1639.3,726.0 L1641.3,726.0 L1643.3,726.0 L1645.3,726.0 L1647.3,726.0 L1649.3,726.0 L1651.3,726.0 L1653.3,726.0 L1655.3,726.0 L1657.3,726.0 L1659.3,726.0 L1661.3,726.0 L1663.3,726.0 L1665.3,726.0 L1667.3,726.0 L1669.3,726.0 L1671.3,726.0 L1673.3,726.0 L1675.3,726.0 L1677.3,726.0 L1679.3,726.0 L1681.3,726.0 L1683.3,726.0 L1685.3,726.0 L1687.3,726.0 L1689.3,726.0 L1691.3,726.0 L1693.3,726.0 L1695.3,726.0 L1697.3,726.0 L1699.3,726.0 L1701.3,726.0 L1703.3,726.0 L1705.3,726.0 L1707.3,726.0 L1709.3,726.0 L1711.3,726.0 L1713.3,726.0 L1715.4,726.0 L1717.4,726.0 L1719.4,726.0 L1721.4,726.0 L1723.4,726.0 L1725.4,726.0 L1727.4,726.0 L1729.4,726.0 L1731.4,726.0 L1733.4,726.0 L1735.4,725.9 L1737.4,725.9 L1739.4,725.9 L1741.4,725.9 L1743.4,725.9 L1745.4,725.9 L1747.4,725.9 L1749.4,725.9 L1751.4,725.9 L1753.4,725.9 L1755.4,725.9 L1757.4,725.8 L1759.4,725.8 L1761.4,725.8 L1763.4,725.8 L1765.4,725.8 L1767.4,725.8 L1769.4,725.8 L1771.4,725.8 L1773.4,725.8 L1775.4,725.7 L1777.4,725.7 L1779.4,725.7 L1781.4,725.7 L1783.4,725.7 L1785.4,725.7 L1787.4,725.7 L1789.4,725.7 L1791.4,725.7 L1793.4,725.6 L1795.4,725.6 L1797.4,725.6 L1799.4,725.6 L1801.4,725.6 L1803.4,725.6 L1805.4,725.6 L1807.4,725.6 L1809.4,725.6 L1811.4,725.6 L1813.4,725.6 L1815.4,725.5 L1817.4,725.5 L1819.4,725.5 L1821.4,725.5 L1823.4,725.5 L1825.4,725.5 L1827.4,725.5 L1829.4,725.5 L1831.4,725.5 L1833.4,725.5 L1835.4,725.5 L1837.4,725.5 L1839.4,725.5 L1841.4,725.5 L1843.5,725.5 L1845.5,725.5 L1847.5,725.5 L1849.5,725.5 L1851.5,725.5 L1853.5,725.5 L1855.5,725.5 L1857.5,725.5 L1859.5,725.5 L1861.5,725.6 L1863.5,725.6 L1865.5,725.6 L1867.5,725.6 L1869.5,725.6 L1871.5,725.6 L1873.5,725.7 L1875.5,725.7 L1877.5,725.7 L1879.5,725.7 L1881.5,725.7 L1883.5,725.7 L1885.5,725.8 L1887.5,725.8 L1889.5,725.8 L1891.5,725.8 L1893.5,725.9 L1895.5,725.9 L1897.5,725.9 L1899.5,725.9 L1901.5,725.9 L1903.5,725.9 L1905.5,726.0 L1907.5,726.0 L1909.5,726.0 L1912.1,726.0 L1914.7,726.1 L1917.3,726.1 L1920.0,726.2 L1922.7,726.2 L1925.3,726.2 L1927.9,726.3 L1930.5,726.3 L1933.0,726.4 L1935.4,726.4 L1937.8,726.5 L1940.0,726.6 L1941.6,726.7 L1943.3,726.7 L1944.9,726.8 L1946.5,726.9 L1948.0,727.0 L1949.5,727.1 L1951.0,727.2 L1952.4,727.3 L1953.7,727.4 L1954.9,727.5 L1956.1,727.7 L1957.1,727.8 L1957.6,727.9 L1958.1,728.0 L1958.6,728.1 L1959.0,728.1 L1959.4,728.2 L1959.8,728.3 L1960.2,728.4 L1960.5,728.5 L1960.9,728.6 L1961.3,728.8 L1961.6,728.9 L1962.0,729.0 L1962.3,729.1 L1962.7,729.2 L1963.0,729.4 L1963.3,729.5 L1963.6,729.6 L1963.9,729.8 L1964.2,729.9 L1964.6,730.0 L1964.9,730.2 L1965.2,730.3 L1965.5,730.5 L1965.8,730.6" fill="none" stroke="#7E2F8E" stroke-width="10.4" stroke-linejoin="round" stroke-linecap="butt" stroke-dasharray="31.3 31.8"/>
<path d="M350.0,1359.4 L411.0,1359.4 L411.0,1357.4 L411.0,1355.4 L411.1,1353.4 L411.1,1351.4 L411.1,1349.4 L411.1,1347.4 L411.2,1345.4 L411.2,1343.4 L411.2,1341.4 L411.3,1339.4 L411.3,1337.4 L411.4,1335.4 L411.4,1333.4 L411.5,1331.4 L411.5,1329.4 L411.5,1327.4 L411.6,1325.4 L411.6,1323.4 L411.7,1321.4 L411.7,1319.4 L411.8,1317.4 L411.8,1315.4 L411.9,1313.4 L411.9,1311.4 L412.0,1309.5 L412.0,1307.5 L412.1,1305.5 L412.1,1303.5 L412.2,1301.5 L412.2,1299.5 L412.3,1297.5 L412.3,1295.5 L412.4,1293.5 L412.4,1291.5 L412.5,1289.5 L412.5,1287.5 L412.6,1285.5 L412.7,1283.5 L412.7,1281.5 L412.8,1279.5 L412.8,1277.5 L412.9,1275.5 L412.9,1273.5 L413.0,1271.5 L413.0,1269.5 L413.1,1267.5 L413.1,1265.5 L413.1,1263.5 L413.2,1261.5 L413.2,1259.5 L413.3,1257.5 L413.3,1255.5 L413.4,1253.5 L413.4,1251.5 L413.5,1249.5 L413.5,1247.5 L413.6,1245.5 L413.6,1243.5 L413.7,1241.5 L413.7,1239.5 L413.8,1237.5 L413.8,1235.5 L413.9,1233.5 L414.0,1231.5 L414.0,1229.5 L414.1,1227.5 L414.1,1225.5 L414.2,1223.5 L414.3,1221.6 L414.4,1219.6 L414.4,1217.6 L414.5,1215.6 L414.6,1213.6 L414.7,1211.6 L414.8,1209.6 L414.9,1207.6 L414.9,1205.6 L415.0,1203.6 L415.1,1201.6 L415.2,1199.6 L415.3,1197.6 L415.4,1195.6 L415.6,1193.6 L415.7,1191.6 L415.8,1189.6 L415.9,1187.6 L416.1,1185.6 L416.2,1183.6 L416.4,1181.6 L416.5,1179.6 L416.7,1177.7 L416.9,1175.7 L417.1,1173.7 L417.4,1171.7 L417.6,1169.7 L417.9,1167.7 L418.2,1165.8 L418.5,1163.8 L418.8,1161.8 L419.1,1159.8 L419.4,1157.9 L419.8,1155.9 L420.2,1153.9 L420.6,1152.0 L421.0,1150.0 L421.5,1148.1 L422.0,1146.2 L422.6,1144.2 L423.1,1142.3 L423.7,1140.4 L424.3,1138.5 L451.6,1158.3 L474.7,1179.0 L499.1,1199.6 L523.0,1219.4 L543.3,1235.9 L546.5,1232.4 L546.5,1230.4 L546.5,1228.4 L546.5,1226.4 L546.6,1224.4 L546.6,1222.4 L546.6,1220.4 L546.6,1218.4 L546.6,1216.4 L546.6,1214.4 L546.6,1212.4 L546.6,1210.4 L546.6,1208.4 L546.6,1206.4 L546.6,1204.4 L546.6,1202.4 L546.7,1200.4 L546.7,1198.4 L546.7,1196.4 L546.7,1194.4 L546.7,1192.4 L546.7,1190.4 L546.7,1188.4 L546.7,1186.4 L546.7,1184.4 L546.7,1182.4 L546.7,1180.4 L546.7,1178.4 L546.7,1176.4 L546.7,1174.4 L546.7,1172.4 L546.7,1170.4 L546.7,1168.4 L546.7,1166.4 L546.7,1164.4 L546.7,1162.4 L546.7,1160.4 L546.8,1158.4 L546.8,1156.4 L546.8,1154.4 L546.8,1152.4 L546.8,1150.4 L546.8,1148.4 L546.8,1146.4 L546.8,1144.4 L546.8,1142.4 L546.8,1140.4 L546.8,1138.3 L546.9,1136.3 L546.9,1134.3 L546.9,1132.3 L546.9,1130.3 L546.9,1128.3 L546.9,1126.3 L546.9,1124.3 L546.9,1122.3 L547.0,1120.3 L547.0,1118.3 L547.0,1116.3 L547.0,1114.3 L547.0,1112.3 L547.0,1110.3 L547.0,1108.3 L547.1,1106.3 L547.1,1104.3 L547.1,1102.3 L547.1,1100.3 L547.1,1098.3 L547.1,1096.3 L547.1,1094.3 L547.2,1092.3 L547.2,1090.3 L547.2,1088.3 L547.2,1086.3 L547.2,1084.3 L547.2,1082.3 L547.2,1080.3 L547.2,1078.3 L547.3,1076.3 L547.3,1074.3 L547.3,1072.3 L547.3,1070.3 L547.3,1068.3 L547.3,1066.3 L547.3,1064.3 L547.3,1062.3 L547.3,1060.3 L547.4,1058.3 L547.4,1056.3 L547.4,1054.3 L547.4,1052.3 L547.4,1050.3 L547.4,1048.3 L547.4,1046.3 L547.4,1044.3 L547.4,1042.3 L547.5,1040.3 L547.5,1038.3 L547.5,1036.3 L547.5,1034.3 L547.5,1032.3 L547.5,1030.3 L547.5,1028.3 L547.5,1026.3 L547.6,1024.3 L547.6,1022.3 L547.6,1020.3 L547.6,1018.3 L547.6,1016.3 L547.7,1014.3 L547.7,1012.3 L547.7,1010.3 L547.7,1008.3 L547.7,1006.3 L547.8,1004.3 L547.8,1002.3 L547.8,1000.3 L547.8,998.3 L547.9,996.3 L547.9,994.3 L547.9,992.3 L547.9,990.3 L548.0,988.3 L548.0,986.3 L548.0,984.3 L548.0,982.3 L548.0,980.3 L548.1,978.3 L548.1,976.3 L548.1,974.3 L548.1,972.3 L548.1,970.3 L548.2,968.3 L548.2,966.3 L548.2,964.3 L548.2,962.3 L548.2,960.3 L548.2,958.3 L548.3,956.3 L548.3,954.3 L548.3,952.3 L548.3,950.3 L548.3,948.3 L548.3,946.2 L548.3,944.2 L548.3,942.2 L548.3,940.2 L548.3,938.2 L548.3,936.2 L548.4,934.2 L548.4,932.2 L548.4,930.2 L548.4,928.2 L548.4,926.2 L548.4,924.2 L548.4,922.2 L548.4,920.2 L548.4,918.2 L548.4,916.2 L548.4,914.2 L548.4,912.2 L548.4,910.2 L548.5,908.2 L548.5,906.2 L548.5,904.2 L548.5,902.2 L548.5,900.2 L548.5,898.2 L548.5,896.2 L548.5,894.2 L548.5,892.2 L548.6,890.2 L548.6,888.2 L548.6,886.2 L548.6,884.2 L548.6,882.2 L548.6,880.2 L548.6,878.2 L548.6,876.2 L548.7,874.2 L548.7,872.2 L548.7,870.2 L548.7,868.2 L548.7,866.2 L548.7,864.2 L548.7,862.2 L548.7,860.2 L548.8,858.2 L548.8,856.2 L548.8,854.2 L548.8,852.2 L548.8,850.2 L548.8,848.2 L548.8,846.2 L548.9,844.2 L548.9,842.2 L548.9,840.2 L548.9,838.2 L548.9,836.2 L548.9,834.2 L548.9,832.2 L548.9,830.2 L549.0,828.2 L549.0,826.2 L549.0,824.2 L549.0,822.2 L549.0,820.2 L549.0,818.2 L549.0,816.2 L549.1,814.2 L549.1,812.2 L549.1,810.2 L549.1,808.2 L549.1,806.2 L549.1,804.2 L549.1,802.2 L549.2,800.2 L549.2,798.2 L549.2,796.2 L549.2,794.2 L549.2,792.2 L549.2,790.2 L549.2,788.2 L549.3,786.2 L549.3,784.2 L549.3,782.2 L549.3,780.2 L549.3,778.2 L549.3,776.2 L549.3,774.2 L549.4,772.2 L549.4,770.2 L549.4,768.2 L549.4,766.2 L549.4,764.2 L549.4,762.2 L549.5,760.2 L549.5,758.2 L549.5,756.1 L549.5,754.1 L549.5,752.1 L549.5,750.1 L549.6,748.1 L549.6,746.1 L549.6,744.1 L549.6,742.1 L549.6,740.1 L549.6,738.1 L549.7,736.1 L549.7,734.1 L549.7,732.1 L549.7,730.1 L549.7,728.1 L549.8,726.1 L549.8,724.1 L549.8,722.1 L549.8,720.1 L549.8,718.1 L549.9,716.1 L549.9,714.1 L549.9,712.1 L549.9,710.1 L549.9,708.1 L550.0,706.1 L550.0,704.1 L550.0,702.1 L550.0,700.1 L550.0,698.1 L550.1,696.1 L550.1,694.1 L550.1,692.1 L550.1,690.1 L550.2,688.1 L550.2,686.1 L550.2,684.1 L550.2,682.1 L550.2,680.1 L550.3,678.1 L550.3,676.1 L550.3,674.1 L550.3,672.1 L550.3,670.1 L550.3,668.1 L550.4,666.1 L550.4,664.1 L550.4,662.1 L550.4,660.1 L550.4,658.1 L550.4,656.1 L550.5,654.1 L550.5,652.1 L550.5,650.1 L550.5,648.1 L550.5,646.1 L550.5,644.1 L550.5,642.1 L550.5,640.1 L550.6,638.1 L550.6,636.1 L550.6,634.1 L550.6,632.1 L550.6,630.1 L550.6,628.1 L550.6,626.1 L550.6,624.1 L550.6,622.1 L550.6,620.1 L550.6,618.1 L550.6,616.1 L550.6,614.1 L550.6,612.1 L550.6,610.1 L550.6,608.1 L550.7,606.1 L550.7,604.1 L550.7,602.1 L550.7,600.1 L550.7,598.1 L550.7,596.1 L550.7,594.1 L550.7,592.1 L550.7,590.1 L550.7,588.1 L550.7,586.1 L550.7,584.1 L550.7,582.1 L550.7,580.1 L550.7,578.1 L550.7,576.1 L550.7,574.1 L550.7,572.1 L550.7,570.1 L550.7,568.1 L550.7,566.1 L550.8,564.0 L550.8,562.0 L550.8,560.0 L550.8,558.0 L550.8,556.0 L550.8,554.0 L550.8,552.0 L550.8,550.0 L550.8,548.0 L550.8,546.0 L550.8,544.0 L550.8,542.0 L550.8,540.0 L550.8,538.0 L550.8,536.0 L550.8,534.0 L550.8,532.0 L550.8,530.0 L550.8,528.0 L550.8,526.0 L550.8,524.0 L550.8,522.0 L550.8,520.0 L550.8,518.0 L550.8,516.0 L550.8,514.0 L550.9,512.0 L550.9,510.0 L550.9,508.0 L550.9,506.0 L550.9,504.0 L550.9,502.0 L550.9,500.0 L550.9,498.0 L550.9,496.0 L550.9,494.0 L550.9,492.0 L550.9,490.0 L550.9,488.0 L550.9,486.0 L550.9,484.0 L550.9,482.0 L550.9,480.0 L550.9,478.0 L550.9,476.0 L550.9,474.0 L550.9,472.0 L550.9,470.0 L550.9,468.0 L550.9,466.0 L550.9,464.0 L550.9,462.0 L550.9,460.0 L551.0,458.0 L551.0,456.0 L551.0,454.0 L551.0,452.0 L551.0,450.0 L551.0,448.0 L551.0,446.0 L551.0,444.0 L551.0,442.0 L551.0,440.0 L551.0,438.0 L551.0,436.0 L551.0,434.0 L551.0,432.0 L551.0,430.0 L551.0,428.0 L551.0,426.0 L551.0,424.0 L551.0,422.0 L551.0,420.0 L551.0,418.0 L551.0,416.0 L551.1,414.0 L551.1,412.0 L551.1,410.0 L551.1,408.0 L551.1,406.0 L551.1,404.0 L551.1,402.0 L551.1,400.0 L551.1,398.0 L551.1,396.0 L551.1,394.0 L551.1,392.0 L551.1,390.0 L551.1,388.0 L551.1,386.0 L551.1,384.0 L551.2,381.9 L551.2,379.9 L551.2,377.9 L551.2,375.9 L551.2,373.9 L551.2,371.9 L551.2,369.9 L551.2,367.9 L551.2,365.9 L551.2,363.9 L551.2,361.9 L551.2,359.9 L551.3,357.9 L551.3,355.9 L551.3,353.9 L551.3,351.9 L551.3,349.9 L551.3,347.9 L551.3,345.9 L551.3,343.9 L551.3,341.9 L551.4,339.9 L551.4,337.9 L551.4,335.9 L551.4,333.9 L551.4,331.9 L551.4,329.9 L551.4,327.9 L551.5,325.9 L551.5,323.9 L551.5,321.9 L551.5,319.9 L551.5,317.9 L551.6,315.9 L551.6,313.9 L551.6,311.9 L551.6,309.9 L551.7,307.9 L551.7,305.9 L551.7,303.9 L551.8,301.9 L551.8,299.9 L551.8,297.9 L551.8,295.9 L551.9,293.9 L551.9,291.9 L551.9,289.9 L552.0,287.9 L552.0,285.9 L552.0,283.9 L552.1,281.9 L552.1,279.9 L552.1,277.9 L552.1,275.9 L552.2,273.9 L552.2,271.9 L552.2,269.9 L552.2,267.9 L552.3,265.9 L552.3,263.9 L552.3,261.9 L552.3,259.9 L552.3,257.9 L552.4,255.9 L552.4,253.9 L552.4,251.9 L552.4,249.9 L552.4,247.9 L552.5,245.9 L552.5,243.9 L552.5,241.9 L552.5,239.9 L552.5,237.9 L552.5,235.9 L552.6,233.9 L552.6,231.9 L552.6,229.9 L552.6,227.9 L552.6,225.9 L552.6,223.9 L552.7,221.9 L552.7,219.9 L552.7,217.9 L552.7,215.9 L552.7,213.9 L552.8,211.9 L552.8,209.9 L552.8,207.9 L552.8,205.9 L552.8,203.9 L552.8,201.9 L552.9,199.9 L552.9,197.9 L552.9,195.9 L552.9,193.9 L552.9,191.9 L552.9,189.9 L553.0,187.9 L553.0,185.9 L553.0,183.9 L553.0,181.8 L553.0,179.8 L553.0,177.8 L553.1,175.8 L553.1,173.8 L553.1,171.8 L553.1,169.8 L553.1,167.8 L553.2,165.8 L553.2,163.8 L553.2,161.8 L553.2,159.8 L553.2,157.8 L553.3,155.8 L553.3,153.8 L553.3,151.8 L553.3,149.8 L553.4,147.8 L553.4,145.8 L553.4,143.8 L553.4,141.8 L553.5,139.8 L553.5,137.8 L553.5,135.8 L553.5,133.8 L553.6,131.8 L553.6,129.8 L553.6,127.8 L553.7,125.8 L553.7,123.8 L553.7,121.8 L553.8,119.8 L553.8,117.8 L553.8,115.8 L553.9,113.8 L553.9,111.8 L553.9,109.8 L554.0,107.8 L554.0,105.8 L554.1,103.8 L554.1,101.8 L554.1,99.8 L554.2,97.8 L554.2,95.8 L554.2,93.8 L554.3,91.8 L554.3,89.8 L554.4,87.8 L554.4,85.8 L554.4,83.8 L554.5,81.8 L554.5,79.8 L554.6,77.8 L554.6,75.8 L554.7,73.8 L554.7,71.8 L554.8,69.8 L554.8,67.8 L554.9,65.8 L554.9,63.8 L555.0,61.8 L555.0,59.8 L783.5,59.8 L783.5,61.8 L783.5,63.8 L783.5,65.8 L783.5,67.8 L783.5,69.8 L783.5,71.8 L783.5,73.8 L783.5,75.8 L783.6,77.8 L783.6,79.8 L783.6,81.8 L783.6,83.8 L783.7,85.8 L783.7,87.8 L783.7,89.8 L783.7,91.8 L783.8,93.8 L783.8,95.8 L783.8,97.8 L783.8,99.8 L783.9,101.8 L783.9,103.8 L783.9,105.8 L783.9,107.7 L784.0,109.7 L784.0,111.7 L784.0,113.7 L784.1,115.7 L784.1,117.7 L784.1,119.7 L784.1,121.7 L784.2,123.7 L784.2,125.7 L784.2,127.7 L784.3,129.7 L784.3,131.7 L784.3,133.7 L784.4,135.7 L784.4,137.7 L784.4,139.7 L784.5,141.7 L784.5,143.7 L784.6,145.7 L784.6,147.7 L784.6,149.7 L784.7,151.7 L784.7,153.7 L784.7,155.7 L784.8,157.7 L784.8,159.7 L784.9,161.7 L784.9,163.7 L784.9,165.7 L785.0,167.7 L785.0,169.7 L785.0,171.7 L785.1,173.7 L785.1,175.7 L785.2,177.7 L785.2,179.7 L785.2,181.7 L785.3,183.7 L785.3,185.7 L785.4,187.7 L785.4,189.7 L785.4,191.7 L785.5,193.6 L785.5,195.6 L785.5,197.6 L785.6,199.6 L785.6,201.6 L785.7,203.6 L785.7,205.6 L785.7,207.6 L785.8,209.6 L785.8,211.6 L785.8,213.6 L785.9,215.6 L785.9,217.6 L785.9,219.6 L786.0,221.6 L786.0,223.6 L786.1,225.6 L786.1,227.6 L786.1,229.6 L786.2,231.6 L786.2,233.6 L786.2,235.6 L786.3,237.6 L786.3,239.6 L786.4,241.6 L786.4,243.6 L786.5,245.6 L786.5,247.6 L786.5,249.6 L786.6,251.6 L786.6,253.6 L786.7,255.6 L786.7,257.6 L786.8,259.6 L786.8,261.6 L786.9,263.6 L786.9,265.6 L787.0,267.6 L787.0,269.6 L787.1,271.6 L787.1,273.5 L787.2,275.5 L787.2,277.5 L787.3,279.5 L787.4,281.5 L787.4,283.5 L787.5,285.5 L787.5,287.5 L787.6,289.5 L787.6,291.5 L787.7,293.5 L787.7,295.5 L787.8,297.5 L787.9,299.5 L787.9,301.5 L788.0,303.5 L788.0,305.5 L788.1,307.5 L788.1,309.5 L788.2,311.5 L788.3,313.5 L788.3,315.5 L788.4,317.5 L788.4,319.5 L788.5,321.5 L788.5,323.5 L788.6,325.5 L788.6,327.5 L788.7,329.5 L788.7,331.5 L788.8,333.5 L788.8,335.5 L788.9,337.5 L789.0,339.5 L789.0,341.5 L789.1,343.5 L789.1,345.4 L789.2,347.4 L789.2,349.4 L789.3,351.4 L789.4,353.4 L789.4,355.4 L789.5,357.4 L789.6,359.4 L789.6,361.4 L789.7,363.4 L789.8,365.4 L789.9,367.4 L790.0,369.4 L790.2,371.4 L790.3,373.4 L790.4,375.4 L790.5,377.4 L790.7,379.4 L790.8,381.4 L790.9,383.4 L791.0,385.4 L791.1,387.4 L791.2,389.4 L791.3,391.3 L791.4,393.3 L791.5,395.3 L791.5,397.3 L791.6,399.3 L791.7,401.3 L791.8,403.3 L791.8,405.3 L791.9,407.3 L792.0,409.3 L792.0,411.3 L792.1,413.3 L792.2,415.3 L792.3,417.3 L792.3,419.3 L792.4,421.3 L792.5,423.3 L792.6,425.3 L792.7,427.3 L792.8,429.3 L792.9,431.3 L792.9,433.3 L793.1,435.3 L793.2,437.3 L793.3,439.3 L793.4,441.3 L793.5,443.2 L793.7,445.2 L793.8,447.2 L794.0,449.2 L794.1,451.2 L794.3,453.2 L794.5,455.2 L794.7,457.2 L794.8,459.2 L795.0,461.2 L795.2,463.2 L795.5,465.1 L795.7,467.1 L795.9,469.1 L796.1,471.1 L796.3,473.1 L796.6,475.1 L796.8,477.0 L797.1,479.0 L797.4,481.0 L797.7,483.0 L798.0,485.0 L798.4,486.9 L798.8,488.9 L799.2,490.8 L799.7,492.8 L800.2,494.7 L800.7,496.6 L801.3,498.5 L802.0,500.4 L802.7,502.3 L803.4,504.1 L804.3,506.0 L805.1,507.7 L806.1,509.5 L807.1,511.2 L808.2,512.9 L809.4,514.5 L810.6,516.1 L811.9,517.6 L813.3,519.1 L814.7,520.5 L816.1,521.9 L817.6,523.2 L819.1,524.5 L820.6,525.8 L822.1,527.1 L823.7,528.4 L825.2,529.7 L826.8,530.9 L828.3,532.1 L829.9,533.4 L831.5,534.6 L833.1,535.8 L834.7,537.0 L836.2,538.3 L837.8,539.5 L839.4,540.7 L841.0,541.9 L842.6,543.1 L844.2,544.4 L845.7,545.6 L847.3,546.8 L848.9,548.0 L850.5,549.3 L852.0,550.5 L853.6,551.7 L855.2,552.9 L856.8,554.2 L858.4,555.4 L859.9,556.6 L861.5,557.8 L863.1,559.0 L864.7,560.2 L866.3,561.4 L867.9,562.6 L869.5,563.8 L871.1,565.0 L872.7,566.2 L874.3,567.4 L875.9,568.6 L877.5,569.8 L879.1,571.0 L880.7,572.2 L882.3,573.4 L884.0,574.5 L885.6,575.7 L887.2,576.9 L888.8,578.0 L890.4,579.2 L892.1,580.4 L893.7,581.5 L895.3,582.7 L897.0,583.8 L898.6,585.0 L900.3,586.1 L901.9,587.2 L903.5,588.4 L905.2,589.5 L906.8,590.6 L908.5,591.7 L910.1,592.9 L911.8,594.0 L913.5,595.1 L915.1,596.2 L916.8,597.3 L918.5,598.4 L920.1,599.5 L921.8,600.6 L923.5,601.7 L925.1,602.8 L926.8,603.9 L928.5,605.0 L930.2,606.1 L931.8,607.1 L933.5,608.2 L935.2,609.3 L936.9,610.4 L938.6,611.4 L940.3,612.5 L942.0,613.6 L943.7,614.6 L945.4,615.7 L947.0,616.7 L948.7,617.8 L950.4,618.9 L952.1,619.9 L953.8,621.0 L955.5,622.0 L957.2,623.1 L958.9,624.1 L960.6,625.1 L962.3,626.2 L964.0,627.2 L965.8,628.3 L967.5,629.3 L969.2,630.3 L970.9,631.4 L972.6,632.4 L974.3,633.4 L976.0,634.5 L977.7,635.5 L979.5,636.5 L981.2,637.5 L982.9,638.5 L984.6,639.5 L986.4,640.5 L988.1,641.5 L989.8,642.5 L991.6,643.5 L993.3,644.5 L995.1,645.5 L996.8,646.4 L998.5,647.4 L1000.3,648.3 L1002.1,649.3 L1003.8,650.3 L1005.6,651.2 L1007.3,652.1 L1009.1,653.1 L1010.9,654.0 L1012.7,654.9 L1014.4,655.8 L1016.2,656.7 L1018.0,657.6 L1019.8,658.5 L1021.6,659.4 L1023.4,660.3 L1025.2,661.2 L1027.0,662.0 L1028.8,662.9 L1030.6,663.8 L1032.4,664.6 L1034.2,665.5 L1036.0,666.4 L1037.8,667.2 L1039.6,668.1 L1041.4,668.9 L1043.2,669.8 L1045.0,670.6 L1046.8,671.4 L1048.6,672.3 L1050.5,673.1 L1052.3,673.9 L1054.1,674.7 L1055.9,675.6 L1057.7,676.4 L1059.6,677.2 L1061.4,678.0 L1063.2,678.9 L1065.0,679.7 L1066.9,680.5 L1068.7,681.3 L1070.5,682.1 L1072.3,682.9 L1074.2,683.7 L1076.0,684.5 L1077.8,685.3 L1079.7,686.1 L1081.5,686.9 L1083.3,687.7 L1085.2,688.5 L1087.0,689.2 L1088.8,690.0 L1090.7,690.8 L1092.5,691.6 L1094.4,692.4 L1096.2,693.1 L1098.1,693.9 L1099.9,694.6 L1101.8,695.4 L1103.6,696.1 L1105.5,696.9 L1107.3,697.6 L1109.2,698.4 L1111.0,699.1 L1112.9,699.8 L1114.8,700.5 L1116.6,701.3 L1118.5,701.9 L1120.4,702.6 L1122.3,703.3 L1124.2,704.0 L1126.0,704.6 L1127.9,705.2 L1129.8,705.8 L1131.7,706.4 L1133.7,707.0 L1135.6,707.6 L1137.5,708.2 L1139.4,708.8 L1141.3,709.3 L1143.2,709.9 L1145.1,710.5 L1147.0,711.1 L1149.0,711.7 L1150.9,712.3 L1152.8,712.9 L1154.7,713.5 L1156.5,714.2 L1158.4,714.8 L1160.3,715.5 L1162.2,716.1 L1164.1,716.8 L1166.0,717.4 L1183.0,728.6 L1187.6,726.6" fill="none" stroke="#77AC30" stroke-width="10.4" stroke-linejoin="round" stroke-linecap="butt" stroke-dasharray="31.3 31.8"/>
<path d="M1187.6,726.6 L1190.5,726.1 L1192.5,726.3 L1194.5,726.5 L1196.5,726.6 L1198.5,726.8 L1200.5,727.0 L1202.4,727.2 L1204.4,727.3 L1206.4,727.5 L1208.4,727.7 L1210.4,727.9 L1212.4,728.0 L1214.4,728.2 L1216.4,728.3 L1218.4,728.4 L1220.4,728.6 L1222.4,728.7 L1224.4,728.8 L1226.4,728.9 L1228.4,729.0 L1230.4,729.2 L1232.4,729.3 L1234.4,729.4 L1236.4,729.5 L1238.3,729.6 L1240.3,729.6 L1242.3,729.7 L1244.3,729.8 L1246.3,729.9 L1248.3,730.0 L1250.3,730.0 L1252.3,730.1 L1254.3,730.2 L1256.3,730.2 L1258.3,730.3 L1260.3,730.3 L1262.3,730.4 L1264.3,730.4 L1266.3,730.4 L1268.3,730.4 L1270.3,730.4 L1272.3,730.5 L1274.3,730.5 L1276.3,730.5 L1278.3,730.4 L1280.3,730.4 L1282.3,730.4 L1284.3,730.4 L1286.3,730.4 L1288.3,730.3 L1290.3,730.3 L1292.3,730.3 L1294.3,730.2 L1296.3,730.2 L1298.3,730.2 L1300.3,730.1 L1302.3,730.1 L1304.3,730.1 L1306.3,730.0 L1308.3,730.0 L1310.3,729.9 L1312.3,729.9 L1314.3,729.9 L1316.3,729.8 L1318.3,729.8 L1320.3,729.8 L1322.3,729.8 L1324.3,729.7 L1326.3,729.7 L1328.3,729.7 L1330.3,729.7 L1332.3,729.7 L1334.3,729.7 L1336.3,729.7 L1338.3,729.7 L1340.3,729.7 L1342.3,729.7 L1344.3,729.7 L1346.3,729.7 L1348.3,729.7 L1350.3,729.7 L1352.3,729.7 L1354.3,729.7 L1356.3,729.7 L1358.3,729.7 L1360.3,729.7 L1362.3,729.7 L1364.3,729.8 L1366.3,729.8 L1368.3,729.8 L1370.3,729.8 L1372.3,729.8 L1374.3,729.8 L1376.3,729.8 L1378.3,729.8 L1380.3,729.8 L1382.3,729.8 L1384.3,729.9 L1386.3,729.9 L1388.3,729.9 L1390.3,729.9 L1392.3,729.9 L1394.3,729.9 L1396.3,729.9 L1398.2,729.9 L1400.2,729.9 L1402.2,729.9 L1404.2,729.9 L1406.2,729.9 L1408.2,729.9 L1410.2,729.9 L1412.2,729.9 L1414.2,729.9 L1416.2,729.9 L1418.2,729.9 L1420.2,729.9 L1422.2,729.9 L1424.2,729.9 L1426.2,729.9 L1428.2,729.9 L1430.2,729.9 L1432.2,729.9 L1434.2,729.9 L1436.2,729.9 L1438.2,729.8 L1440.2,729.8 L1442.2,729.8 L1444.2,729.8 L1446.2,729.8 L1448.2,729.8 L1450.2,729.8 L1452.2,729.8 L1454.2,729.8 L1456.2,729.8 L1458.2,729.8 L1460.2,729.8 L1462.2,729.8 L1464.2,729.8 L1466.2,729.8 L1468.2,729.8 L1470.2,729.8 L1472.2,729.8 L1474.2,729.8 L1476.2,729.8 L1478.2,729.8 L1480.2,729.8 L1482.2,729.8 L1484.2,729.8 L1486.2,729.8 L1488.2,729.8 L1490.2,729.8 L1492.2,729.8 L1494.2,729.8 L1496.2,729.8 L1498.2,729.8 L1500.2,729.8 L1502.2,729.8 L1504.2,729.9 L1506.2,729.9 L1508.2,729.9 L1510.2,729.9 L1512.2,729.9 L1514.2,729.9 L1516.2,729.9 L1518.2,729.9 L1520.2,729.9 L1522.2,729.9 L1524.2,729.9 L1526.2,729.9 L1528.2,729.9 L1530.2,729.9 L1532.2,729.9 L1534.2,730.0 L1536.2,730.0 L1538.2,730.0 L1540.2,730.0 L1542.2,730.0 L1544.2,730.0 L1546.2,730.0 L1548.2,730.0 L1550.2,730.0 L1552.2,730.0 L1554.2,730.0 L1556.2,730.0 L1558.2,730.1 L1560.2,730.1 L1562.2,730.1 L1564.2,730.1 L1566.2,730.1 L1568.2,730.1 L1570.2,730.1 L1572.2,730.1 L1574.2,730.1 L1576.2,730.1 L1578.2,730.1 L1580.2,730.1 L1582.2,730.1 L1584.2,730.2 L1586.2,730.2 L1588.2,730.2 L1590.2,730.2 L1592.2,730.2 L1594.2,730.2 L1596.2,730.2 L1598.2,730.2 L1600.2,730.2 L1602.2,730.2 L1604.1,730.2 L1606.1,730.2 L1608.1,730.2 L1610.1,730.2 L1612.1,730.2 L1614.1,730.2 L1616.1,730.2 L1618.1,730.2 L1620.1,730.2 L1622.1,730.3 L1624.1,730.3 L1626.1,730.3 L1628.1,730.3 L1630.1,730.3 L1632.1,730.3 L1634.1,730.3 L1636.1,730.3 L1638.1,730.3 L1640.1,730.3 L1642.1,730.3 L1644.1,730.3 L1646.1,730.3 L1648.1,730.3 L1650.1,730.3 L1652.1,730.3 L1654.1,730.3 L1656.1,730.3 L1658.1,730.3 L1660.1,730.3 L1662.1,730.3 L1664.1,730.3 L1666.1,730.3 L1668.1,730.3 L1670.1,730.3 L1672.1,730.3 L1674.1,730.3 L1676.1,730.3 L1678.1,730.3 L1680.1,730.4 L1682.1,730.4 L1684.1,730.4 L1686.1,730.4 L1688.1,730.4 L1690.1,730.4 L1692.1,730.4 L1694.1,730.4 L1696.1,730.4 L1698.1,730.4 L1700.1,730.4 L1702.1,730.4 L1704.1,730.4 L1706.1,730.4 L1708.1,730.4 L1710.1,730.4 L1712.1,730.4 L1714.1,730.4 L1716.1,730.4 L1718.1,730.4 L1720.1,730.4 L1722.1,730.4 L1724.1,730.4 L1726.1,730.4 L1728.1,730.4 L1730.1,730.4 L1732.1,730.5 L1734.1,730.5 L1736.1,730.5 L1738.1,730.5 L1740.1,730.5 L1742.1,730.5 L1744.1,730.5 L1746.1,730.5 L1748.1,730.5 L1750.1,730.5 L1752.1,730.5 L1754.1,730.5 L1756.1,730.5 L1758.1,730.5 L1760.1,730.5 L1762.1,730.5 L1764.1,730.5 L1766.1,730.5 L1768.1,730.5 L1770.1,730.5 L1772.1,730.5 L1774.1,730.5 L1776.1,730.5 L1778.1,730.6 L1780.1,730.6 L1782.1,730.6 L1784.1,730.6 L1786.1,730.6 L1788.1,730.6 L1790.1,730.6 L1792.1,730.6 L1794.1,730.6 L1796.1,730.6 L1798.1,730.6 L1800.1,730.6 L1802.1,730.6 L1804.1,730.6 L1806.1,730.6 L1808.1,730.6 L1810.1,730.6 L1812.0,730.6 L1814.0,730.6 L1816.0,730.6 L1818.0,730.6 L1820.0,730.6 L1822.0,730.6 L1824.0,730.6 L1826.0,730.6 L1828.0,730.6 L1830.0,730.6 L1832.0,730.6 L1834.0,730.6 L1836.0,730.6 L1838.0,730.6 L1840.0,730.6 L1842.0,730.6 L1844.0,730.6 L1846.0,730.7 L1848.0,730.7 L1850.0,730.7 L1852.0,730.7 L1854.0,730.8 L1856.0,730.8 L1858.0,730.8 L1860.0,730.8 L1862.0,730.9 L1864.0,730.9 L1866.0,731.0 L1868.0,731.0 L1870.0,731.0 L1872.0,731.1 L1874.0,731.1 L1876.0,731.2 L1878.0,731.2 L1880.0,731.3 L1882.0,731.3 L1884.0,731.3 L1886.0,731.4 L1888.0,731.4 L1890.0,731.5 L1892.0,731.5 L1894.0,731.6 L1896.0,731.6 L1898.4,731.7 L1900.9,731.8 L1903.4,731.9 L1905.9,732.0 L1908.4,732.1 L1910.9,732.2 L1913.4,732.3 L1915.8,732.4 L1918.2,732.5 L1920.6,732.7 L1922.8,732.8 L1925.0,733.0 L1926.7,733.2 L1928.4,733.3 L1930.0,733.5 L1931.6,733.7 L1933.2,733.9 L1934.7,734.1 L1936.2,734.3 L1937.7,734.5 L1939.1,734.7 L1940.6,734.9 L1941.9,735.1 L1943.3,735.3 L1944.3,735.5 L1945.3,735.6 L1946.3,735.8 L1947.2,735.9 L1948.2,736.1 L1949.1,736.2 L1950.0,736.4 L1950.9,736.5 L1951.7,736.7 L1952.6,736.9 L1953.5,737.1 L1954.4,737.3 L1955.3,737.5 L1956.1,737.8 L1957.0,738.0 L1957.8,738.3 L1958.7,738.5 L1959.5,738.8 L1960.3,739.1 L1961.2,739.4 L1962.0,739.7 L1962.8,740.0 L1963.7,740.2 L1964.5,740.5" fill="none" stroke="#77AC30" stroke-width="10.4" stroke-linejoin="round" stroke-linecap="butt" stroke-dasharray="31.3 31.8"/>
<path d="M350.0,59.8 L445.3,59.8 L445.3,61.8 L445.3,63.8 L445.3,65.8 L445.4,67.8 L445.4,69.8 L445.4,71.8 L445.4,73.8 L445.4,75.8 L445.4,77.8 L445.4,79.8 L445.5,81.8 L445.5,83.8 L445.5,85.8 L445.5,87.8 L445.5,89.8 L445.5,91.8 L445.5,93.8 L445.5,95.8 L445.5,97.8 L445.5,99.8 L445.5,101.8 L445.6,103.8 L445.6,105.8 L445.6,107.8 L445.6,109.8 L445.6,111.8 L445.6,113.8 L445.6,115.8 L445.6,117.8 L445.6,119.8 L445.6,121.8 L445.6,123.8 L445.6,125.8 L445.6,127.8 L445.6,129.8 L445.6,131.8 L445.7,133.8 L445.7,135.8 L445.7,137.8 L445.7,139.8 L445.7,141.8 L445.7,143.8 L445.7,145.8 L445.7,147.8 L445.7,149.8 L445.7,151.8 L445.7,153.8 L445.7,155.8 L445.7,157.8 L445.7,159.8 L445.7,161.8 L445.7,163.8 L445.7,165.8 L445.7,167.8 L445.7,169.8 L445.7,171.8 L445.8,173.8 L445.8,175.8 L445.8,177.8 L445.8,179.8 L445.8,181.8 L445.8,183.8 L445.8,185.8 L445.8,187.8 L445.8,189.8 L445.8,191.8 L445.8,193.8 L445.8,195.8 L445.8,197.8 L445.8,199.8 L445.8,201.8 L445.8,203.8 L445.8,205.8 L445.8,207.8 L445.8,209.8 L445.8,211.8 L445.8,213.8 L445.8,215.8 L445.9,217.8 L445.9,219.7 L445.9,221.7 L445.9,223.7 L445.9,225.7 L445.9,227.7 L445.9,229.7 L445.9,231.7 L445.9,233.7 L445.9,235.7 L445.9,237.7 L445.9,239.7 L445.9,241.7 L445.9,243.7 L445.9,245.7 L445.9,247.7 L445.9,249.7 L445.9,251.7 L445.9,253.7 L445.9,255.7 L445.9,257.7 L445.9,259.7 L445.9,261.7 L445.9,263.7 L446.0,265.7 L446.0,267.7 L446.0,269.7 L446.0,271.7 L446.0,273.7 L446.0,275.7 L446.0,277.7 L446.0,279.7 L446.0,281.7 L446.0,283.7 L446.0,285.7 L446.0,287.7 L446.0,289.7 L446.0,291.7 L446.0,293.7 L446.0,295.7 L446.0,297.7 L446.0,299.7 L446.0,301.7 L446.0,303.7 L446.0,305.7 L446.0,307.7 L446.0,309.7 L446.0,311.7 L446.0,313.7 L446.0,315.7 L446.0,317.7 L446.1,319.7 L446.1,321.7 L446.1,323.7 L446.1,325.7 L446.1,327.7 L446.1,329.7 L446.1,331.7 L446.1,333.7 L446.1,335.7 L446.1,337.7 L446.1,339.7 L446.1,341.7 L446.1,343.7 L446.1,345.7 L446.1,347.7 L446.1,349.7 L446.1,351.7 L446.1,353.7 L446.1,355.7 L446.1,357.7 L446.1,359.7 L446.1,361.7 L446.1,363.7 L446.1,365.7 L446.1,367.7 L446.1,369.7 L446.1,371.7 L446.1,373.7 L446.1,375.7 L446.1,377.7 L446.1,379.7 L446.1,381.7 L446.1,383.7 L446.1,385.7 L446.1,387.7 L446.1,389.7 L446.2,391.7 L446.2,393.7 L446.2,395.7 L446.2,397.7 L446.2,399.7 L446.2,401.7 L446.2,403.7 L446.2,405.7 L446.2,407.7 L446.2,409.7 L446.2,411.7 L446.2,413.7 L446.2,415.7 L446.2,417.7 L446.2,419.7 L446.2,421.7 L446.2,423.7 L446.2,425.7 L446.2,427.7 L446.2,429.7 L446.2,431.7 L446.2,433.7 L446.2,435.7 L446.2,437.7 L446.2,439.7 L446.2,441.7 L446.2,443.7 L446.2,445.7 L446.2,447.7 L446.2,449.7 L446.2,451.7 L446.2,453.7 L446.2,455.7 L446.2,457.7 L446.2,459.7 L446.2,461.7 L446.2,463.7 L446.2,465.7 L446.2,467.7 L446.2,469.7 L446.2,471.7 L446.2,473.7 L446.2,475.7 L446.3,477.7 L446.3,479.7 L446.3,481.7 L446.3,483.7 L446.3,485.7 L446.3,487.7 L446.3,489.7 L446.3,491.7 L446.3,493.7 L446.3,495.7 L446.3,497.7 L446.3,499.7 L446.3,501.7 L446.3,503.7 L446.3,505.7 L446.3,507.7 L446.3,509.7 L446.3,511.7 L446.3,513.7 L446.3,515.7 L446.3,517.7 L446.3,519.7 L446.3,521.7 L446.3,523.7 L446.3,525.7 L446.3,527.7 L446.3,529.7 L446.3,531.7 L446.3,533.7 L446.3,535.7 L446.3,537.7 L446.3,539.7 L446.3,541.7 L446.3,543.7 L446.3,545.6 L446.3,547.6 L446.3,549.6 L446.3,551.6 L446.3,553.6 L446.3,555.6 L446.4,557.6 L446.4,559.6 L446.4,561.6 L446.4,563.6 L446.4,565.6 L446.4,567.6 L446.4,569.6 L446.4,571.6 L446.4,573.6 L446.4,575.6 L446.4,577.6 L446.4,579.6 L446.4,581.6 L446.4,583.6 L446.4,585.6 L446.4,587.6 L446.4,589.6 L446.4,591.6 L446.4,593.6 L446.4,595.6 L446.4,597.6 L446.4,599.6 L446.4,601.6 L446.4,603.6 L446.4,605.6 L446.4,607.6 L446.4,609.6 L446.4,611.6 L446.4,613.6 L446.4,615.6 L446.4,617.6 L446.5,619.6 L446.5,621.6 L446.5,623.6 L446.5,625.6 L446.5,627.6 L446.5,629.6 L446.5,631.6 L446.5,633.6 L446.5,635.6 L446.5,637.6 L446.5,639.6 L446.5,641.6 L446.5,643.6 L446.5,645.6 L446.5,647.6 L446.5,649.6 L446.5,651.6 L446.5,653.6 L446.5,655.6 L446.5,657.6 L446.5,659.6 L446.5,661.6 L446.5,663.6 L446.5,665.6 L446.5,667.6 L446.5,669.6 L446.5,671.6 L446.6,673.6 L446.6,675.6 L446.6,677.6 L446.6,679.6 L446.6,681.6 L446.6,683.6 L446.6,685.6 L446.6,687.6 L446.6,689.6 L446.6,691.6 L446.6,693.6 L446.6,695.6 L446.6,697.6 L446.6,699.6 L446.6,701.6 L446.6,703.6 L446.6,705.6 L446.6,707.6 L446.6,709.6 L446.6,711.6 L446.6,713.6 L446.6,715.6 L446.6,717.6 L446.6,719.6 L446.7,721.6 L446.7,723.6 L446.7,725.6 L446.7,727.6 L446.7,729.6 L446.7,731.6 L446.7,733.6 L446.7,735.6 L446.7,737.6 L446.7,739.6 L446.7,741.6 L446.7,743.6 L446.7,745.6 L446.7,747.6 L446.7,749.6 L446.7,751.6 L446.7,753.6 L446.7,755.6 L446.7,757.6 L446.7,759.6 L446.7,761.6 L446.7,763.6 L446.7,765.6 L446.7,767.6 L446.8,769.6 L446.8,771.6 L446.8,773.6 L446.8,775.6 L446.8,777.6 L446.8,779.6 L446.8,781.6 L446.8,783.6 L446.8,785.6 L446.8,787.6 L446.8,789.6 L446.8,791.6 L446.8,793.6 L446.8,795.6 L446.8,797.6 L446.8,799.6 L446.8,801.6 L446.8,803.6 L446.8,805.6 L446.8,807.6 L446.8,809.6 L446.8,811.6 L446.8,813.6 L446.8,815.6 L446.8,817.6 L446.9,819.6 L446.9,821.6 L446.9,823.6 L446.9,825.6 L446.9,827.6 L446.9,829.6 L446.9,831.6 L446.9,833.6 L446.9,835.6 L446.9,837.6 L446.9,839.6 L446.9,841.6 L446.9,843.6 L446.9,845.6 L446.9,847.6 L446.9,849.6 L446.9,851.6 L446.9,853.6 L446.9,855.6 L446.9,857.6 L446.9,859.6 L446.9,861.6 L446.9,863.6 L446.9,865.6 L446.9,867.6 L446.9,869.6 L447.0,871.5 L447.0,873.5 L447.0,875.5 L447.0,877.5 L447.0,879.5 L447.0,881.5 L447.0,883.5 L447.0,885.5 L447.0,887.5 L447.0,889.5 L447.0,891.5 L447.0,893.5 L447.0,895.5 L447.0,897.5 L447.0,899.5 L447.0,901.5 L447.0,903.5 L447.0,905.5 L447.0,907.5 L447.0,909.5 L447.0,911.5 L447.0,913.5 L447.0,915.5 L447.0,917.5 L447.0,919.5 L447.0,921.5 L447.0,923.5 L447.0,925.5 L447.0,927.5 L447.0,929.5 L447.1,931.5 L447.1,933.5 L447.1,935.5 L447.1,937.5 L447.1,939.5 L447.1,941.5 L447.1,943.5 L447.1,945.5 L447.1,947.5 L447.1,949.5 L447.1,951.5 L447.1,953.5 L447.1,955.5 L447.1,957.5 L447.1,959.5 L447.1,961.5 L447.1,963.5 L447.1,965.5 L447.1,967.5 L447.1,969.5 L447.1,971.5 L447.1,973.5 L447.1,975.5 L447.1,977.5 L447.1,979.5 L447.1,981.5 L447.1,983.5 L447.1,985.5 L447.1,987.5 L447.1,989.5 L447.1,991.5 L447.1,993.5 L447.1,995.5 L447.1,997.5 L447.2,999.5 L447.2,1001.5 L447.2,1003.5 L447.2,1005.5 L447.2,1007.5 L447.2,1009.5 L447.2,1011.5 L447.2,1013.5 L447.2,1015.5 L447.2,1017.5 L447.2,1019.5 L447.2,1021.5 L447.2,1023.5 L447.2,1025.5 L447.2,1027.5 L447.2,1029.5 L447.2,1031.5 L447.2,1033.5 L447.2,1035.5 L447.2,1037.5 L447.2,1039.5 L447.2,1041.5 L447.2,1043.5 L447.2,1045.5 L447.2,1047.5 L447.2,1049.5 L447.2,1051.5 L447.2,1053.5 L447.2,1055.5 L447.2,1057.5 L447.2,1059.5 L447.2,1061.5 L447.2,1063.5 L447.2,1065.5 L447.2,1067.5 L447.2,1069.5 L447.3,1071.5 L447.3,1073.5 L447.3,1075.5 L447.3,1077.5 L447.3,1079.5 L447.3,1081.5 L447.3,1083.5 L447.3,1085.5 L447.3,1087.5 L447.3,1089.5 L447.3,1091.5 L447.3,1093.5 L447.3,1095.5 L447.3,1097.5 L447.3,1099.5 L447.3,1101.5 L447.3,1103.5 L447.3,1105.5 L447.3,1107.5 L447.3,1109.5 L447.3,1111.5 L447.3,1113.5 L447.3,1115.5 L447.3,1117.5 L447.3,1119.5 L447.3,1121.5 L447.3,1123.5 L447.3,1125.5 L447.3,1127.5 L447.3,1129.5 L447.3,1131.5 L447.3,1133.5 L447.3,1135.5 L447.3,1137.5 L447.3,1139.5 L447.3,1141.5 L447.3,1143.5 L447.3,1145.5 L447.3,1147.5 L447.3,1149.5 L447.3,1151.5 L447.4,1153.5 L447.4,1155.5 L447.4,1157.5 L447.4,1159.5 L447.4,1161.5 L447.4,1163.5 L447.4,1165.5 L447.4,1167.5 L447.4,1169.5 L447.4,1171.5 L447.4,1173.5 L447.4,1175.5 L447.4,1177.5 L447.4,1179.5 L447.4,1181.5 L447.4,1183.5 L447.4,1185.5 L447.4,1187.5 L447.4,1189.5 L447.4,1191.5 L447.4,1193.5 L447.4,1195.5 L447.4,1197.4 L447.4,1199.4 L447.4,1201.4 L447.4,1203.4 L447.4,1205.4 L447.4,1207.4 L447.4,1209.4 L447.4,1211.4 L447.4,1213.4 L447.4,1215.4 L447.4,1217.4 L447.4,1219.4 L447.4,1221.4 L447.4,1223.4 L447.4,1225.4 L447.4,1227.4 L447.4,1229.4 L447.4,1231.4 L447.4,1233.4 L447.4,1235.4 L447.4,1237.4 L447.4,1239.4 L447.4,1241.4 L447.4,1243.4 L447.4,1245.4 L447.4,1247.4 L447.4,1249.4 L447.4,1251.4 L447.4,1253.4 L447.4,1255.4 L447.4,1257.4 L447.4,1259.4 L447.4,1261.4 L447.4,1263.4 L447.5,1265.4 L447.5,1267.4 L447.5,1269.4 L447.5,1271.4 L447.5,1273.4 L447.5,1275.4 L447.5,1277.4 L447.5,1279.4 L447.5,1281.4 L447.5,1283.4 L447.5,1285.4 L447.5,1287.4 L447.5,1289.4 L447.5,1291.4 L447.5,1293.4 L447.5,1295.4 L447.5,1297.4 L447.5,1299.4 L447.5,1301.4 L447.5,1303.4 L447.5,1305.4 L447.5,1307.4 L447.5,1309.4 L447.5,1311.4 L447.5,1313.4 L447.5,1315.4 L447.5,1317.4 L447.5,1319.4 L447.5,1321.4 L447.5,1323.4 L447.5,1325.4 L447.5,1327.4 L447.5,1329.4 L447.5,1331.4 L447.5,1333.4 L447.5,1335.4 L447.5,1337.4 L447.5,1339.4 L447.5,1341.4 L447.5,1343.4 L447.5,1345.4 L447.5,1347.4 L447.5,1349.4 L447.5,1351.4 L447.5,1353.4 L447.5,1355.4 L447.5,1357.4 L447.5,1359.4 L678.0,1359.4 L678.0,1357.4 L678.0,1355.4 L678.1,1353.4 L678.1,1351.4 L678.1,1349.4 L678.1,1347.4 L678.1,1345.4 L678.2,1343.4 L678.2,1341.4 L678.2,1339.4 L678.2,1337.4 L678.2,1335.4 L678.3,1333.4 L678.3,1331.4 L678.3,1329.4 L678.3,1327.4 L678.3,1325.4 L678.3,1323.4 L678.3,1321.4 L678.4,1319.4 L678.4,1317.5 L678.4,1315.5 L678.4,1313.5 L678.4,1311.5 L678.4,1309.5 L678.4,1307.5 L678.5,1305.5 L678.5,1303.5 L678.5,1301.5 L678.5,1299.5 L678.5,1297.5 L678.5,1295.5 L678.5,1293.5 L678.6,1291.5 L678.6,1289.5 L678.6,1287.5 L678.6,1285.5 L678.6,1283.5 L678.6,1281.5 L678.6,1279.5 L678.7,1277.5 L678.7,1275.5 L678.7,1273.5 L678.7,1271.5 L678.7,1269.5 L678.7,1267.5 L678.7,1265.5 L678.8,1263.5 L678.8,1261.5 L678.8,1259.5 L678.8,1257.5 L678.8,1255.5 L678.8,1253.5 L678.8,1251.5 L678.9,1249.5 L678.9,1247.5 L678.9,1245.5 L678.9,1243.5 L678.9,1241.5 L678.9,1239.5 L678.9,1237.5 L679.0,1235.5 L679.0,1233.6 L679.0,1231.6 L679.0,1229.6 L679.0,1227.6 L679.0,1225.6 L679.0,1223.6 L679.1,1221.6 L679.1,1219.6 L679.1,1217.6 L679.1,1215.6 L679.1,1213.6 L679.1,1211.6 L679.1,1209.6 L679.2,1207.6 L679.2,1205.6 L679.2,1203.6 L679.2,1201.6 L679.2,1199.6 L679.2,1197.6 L679.2,1195.6 L679.3,1193.6 L679.3,1191.6 L679.3,1189.6 L679.3,1187.6 L679.3,1185.6 L679.3,1183.6 L679.3,1181.6 L679.4,1179.6 L679.4,1177.6 L679.4,1175.6 L679.4,1173.6 L679.4,1171.6 L679.4,1169.6 L679.5,1167.6 L679.5,1165.6 L679.5,1163.6 L679.5,1161.6 L679.5,1159.6 L679.5,1157.6 L679.6,1155.6 L679.6,1153.6 L679.6,1151.6 L679.6,1149.7 L679.6,1147.7 L679.6,1145.7 L679.7,1143.7 L679.7,1141.7 L679.7,1139.7 L679.7,1137.7 L679.7,1135.7 L679.8,1133.7 L679.8,1131.7 L679.8,1129.7 L679.8,1127.7 L679.9,1125.7 L679.9,1123.7 L679.9,1121.7 L679.9,1119.7 L680.0,1117.7 L680.0,1115.7 L680.0,1113.7 L680.0,1111.7 L680.1,1109.7 L680.1,1107.7 L680.1,1105.7 L680.2,1103.7 L680.2,1101.7 L680.2,1099.7 L680.2,1097.7 L680.3,1095.7 L680.3,1093.7 L680.3,1091.7 L680.3,1089.7 L680.4,1087.7 L680.4,1085.7 L680.4,1083.7 L680.4,1081.7 L680.4,1079.7 L680.5,1077.7 L680.5,1075.7 L680.5,1073.7 L680.5,1071.7 L680.5,1069.7 L680.5,1067.8 L680.6,1065.8 L680.6,1063.8 L680.6,1061.8 L680.6,1059.8 L680.6,1057.8 L680.6,1055.8 L680.6,1053.8 L680.6,1051.8 L680.6,1049.8 L680.6,1047.8 L680.6,1045.8 L680.6,1043.8 L680.6,1041.8 L680.7,1039.8 L680.7,1037.8 L680.7,1035.8 L680.7,1033.8 L680.7,1031.8 L680.7,1029.8 L680.7,1027.8 L680.7,1025.8 L680.7,1023.8 L680.7,1021.8 L680.7,1019.8 L680.7,1017.8 L680.7,1015.8 L680.7,1013.8 L680.7,1011.8 L680.7,1009.8 L680.7,1007.8 L680.7,1005.8 L680.7,1003.8 L680.7,1001.8 L680.7,999.8 L680.7,997.8 L680.7,995.8 L680.7,993.8 L680.7,991.8 L680.7,989.8 L680.8,987.8 L680.8,985.8 L680.8,983.8 L680.8,981.9 L680.8,979.9 L680.8,977.9 L680.8,975.9 L680.8,973.9 L680.8,971.9 L680.8,969.9 L680.8,967.9 L680.8,965.9 L680.9,963.9 L680.9,961.9 L680.9,959.9 L680.9,957.9 L680.9,955.9 L680.9,953.9 L681.0,951.9 L681.0,949.9 L681.0,947.9 L681.0,945.9 L681.1,943.9 L681.1,941.9 L681.1,939.9 L681.1,937.9 L681.2,935.9 L681.2,933.9 L681.3,931.9 L681.3,929.9 L681.3,927.9 L681.4,925.9 L681.4,923.9 L681.5,921.9 L681.5,919.9 L681.6,917.9 L681.6,915.9 L681.7,913.9 L681.7,911.9 L681.8,909.9 L681.8,907.9 L681.9,906.0 L681.9,904.0 L681.9,902.0 L682.0,900.0 L682.0,898.0 L682.1,896.0 L682.1,894.0 L682.1,892.0 L682.2,890.0 L682.2,888.0 L682.2,886.0 L682.2,884.0 L682.2,882.0 L682.3,880.0 L682.3,878.0 L682.3,876.0 L682.3,874.0 L682.3,872.0 L682.3,870.0 L682.3,868.0 L682.3,866.0 L682.3,864.0 L682.3,862.0 L682.3,860.0 L682.3,858.0 L682.3,856.0 L682.3,854.0 L682.3,852.0 L682.3,850.0 L682.3,848.0 L682.3,846.0 L682.3,844.0 L682.3,842.0 L682.3,840.0 L682.3,838.0 L682.3,836.0 L682.3,834.0 L682.3,832.0 L682.3,830.0 L682.4,828.0 L682.4,826.0 L682.4,824.0 L682.4,822.1 L682.4,820.1 L682.5,818.1 L682.5,816.1 L682.5,814.1 L682.5,812.1 L682.6,810.1 L682.6,808.1 L682.6,806.1 L682.7,804.1 L682.7,802.1 L682.7,800.1 L682.7,798.1 L682.8,796.1 L682.8,794.1 L682.9,792.1 L682.9,790.1 L682.9,788.1 L683.0,786.1 L683.0,784.1 L683.0,782.1 L683.1,780.1 L683.1,778.1 L683.2,776.1 L683.2,774.1 L683.3,772.1 L683.3,770.1 L683.4,768.1 L683.4,766.1 L683.5,764.1 L683.5,762.1 L683.6,760.1 L683.7,758.1 L683.8,756.1 L683.8,754.1 L683.9,752.2 L684.0,750.2 L684.1,748.2 L684.2,746.2 L684.3,744.2 L684.4,742.2 L684.5,740.2 L684.6,738.2 L684.7,736.2 L684.8,734.2 L684.9,732.2 L685.0,730.2 L685.1,728.2 L685.1,726.2 L685.2,724.2 L685.3,722.2 L685.4,720.2 L685.5,718.2 L685.6,716.2 L685.7,714.2 L685.9,712.2 L686.1,710.3 L686.3,708.3 L686.5,706.3 L686.7,704.3 L687.0,702.3 L687.2,700.3 L687.5,698.4 L687.7,696.4 L688.0,694.4 L688.2,692.4 L688.5,690.4 L688.9,688.5 L689.3,686.5 L689.9,684.6 L690.5,682.7 L691.3,680.9 L692.0,679.0 L693.9,679.5 L695.9,680.0 L697.8,680.5 L699.8,681.0 L701.7,681.5 L703.6,682.0 L705.6,682.4 L707.5,682.9 L709.5,683.4 L711.4,683.9 L713.3,684.4 L715.3,684.9 L717.2,685.5 L719.2,686.0 L721.1,686.5 L723.0,687.1 L724.9,687.6 L726.9,688.2 L728.8,688.7 L730.7,689.3 L732.6,689.8 L734.6,690.4 L736.5,690.9 L738.4,691.4 L740.4,691.9 L742.3,692.3 L744.3,692.8 L746.2,693.2 L748.2,693.6 L750.2,694.0 L752.1,694.3 L754.1,694.7 L756.1,695.0 L758.1,695.3 L760.0,695.6 L762.0,695.9 L764.0,696.2 L766.0,696.4 L768.0,696.7 L770.0,697.0 L772.0,697.2 L773.9,697.4 L775.9,697.7 L777.9,697.9 L779.9,698.1 L781.9,698.3 L783.9,698.5 L785.9,698.7 L787.9,698.9 L789.9,699.1 L791.9,699.2 L793.9,699.4 L795.9,699.5 L797.9,699.6 L799.9,699.8 L801.9,699.9 L803.9,700.0 L805.9,700.2 L807.9,700.3 L809.9,700.5 L811.9,700.6 L813.8,700.8 L815.8,700.9 L817.8,701.1 L819.8,701.2 L821.8,701.4 L823.8,701.6 L825.8,701.7 L827.8,701.9 L829.8,702.1 L831.8,702.2 L833.8,702.4 L835.8,702.5 L837.8,702.7 L839.8,702.9 L841.8,703.0 L843.8,703.2 L845.8,703.3 L847.8,703.5 L849.8,703.6 L851.8,703.8 L853.8,703.9 L855.8,704.1 L857.8,704.2 L859.8,704.3 L861.8,704.5 L863.8,704.6 L865.8,704.7 L867.8,704.9 L869.8,705.0 L871.8,705.1 L873.8,705.2 L875.8,705.3 L877.8,705.5 L879.8,705.6 L881.8,705.7 L883.8,705.8 L885.8,705.9 L887.8,706.0 L889.8,706.1 L891.8,706.2 L893.8,706.3 L895.8,706.5 L897.8,706.6 L899.8,706.7 L901.8,706.8 L903.8,706.9 L905.8,707.0 L907.8,707.1 L909.8,707.2 L911.8,707.3 L913.7,707.4 L915.7,707.5 L917.7,707.7 L919.7,707.8 L921.7,707.9 L923.7,708.0 L925.7,708.1 L927.7,708.2 L929.7,708.3 L931.7,708.5 L933.7,708.6 L935.7,708.7 L937.7,708.8 L939.7,708.9 L941.7,709.1 L943.7,709.2 L945.7,709.3 L947.7,709.4 L949.7,709.5 L951.7,709.6 L953.7,709.8 L955.7,709.9 L957.7,710.0 L959.7,710.1 L961.7,710.2 L963.7,710.3 L965.7,710.5 L967.7,710.6 L969.7,710.7 L971.7,710.8 L973.7,710.9 L975.7,711.1 L977.7,711.2 L979.7,711.3 L981.7,711.4 L983.7,711.5 L985.7,711.6 L987.7,711.8 L989.7,711.9 L991.7,712.0 L993.7,712.1 L995.7,712.3 L997.7,712.4 L999.7,712.5 L1001.7,712.6 L1003.7,712.7 L1005.7,712.9 L1007.7,713.0 L1009.7,713.1 L1011.7,713.2 L1013.7,713.4 L1015.7,713.5 L1017.7,713.6 L1019.7,713.7 L1021.7,713.9 L1023.7,714.0 L1025.7,714.1 L1027.7,714.2 L1029.7,714.3 L1031.7,714.5 L1033.7,714.6 L1035.7,714.7 L1037.7,714.8 L1039.7,714.9 L1041.7,715.1 L1043.7,715.2 L1045.7,715.3 L1047.7,715.4 L1049.7,715.5 L1051.7,715.6 L1053.7,715.7 L1055.7,715.8 L1057.7,715.9 L1059.7,716.1 L1061.7,716.2 L1063.7,716.3 L1065.7,716.4 L1067.7,716.5 L1069.7,716.6 L1071.7,716.7 L1073.7,716.8 L1075.7,716.9 L1077.7,717.0 L1079.7,717.1 L1081.7,717.2 L1083.7,717.3 L1085.7,717.4 L1087.7,717.5 L1089.7,717.6 L1091.7,717.7 L1093.7,717.8 L1095.7,717.9 L1097.7,718.0 L1099.7,718.1 L1101.7,718.2 L1103.7,718.3 L1105.7,718.4 L1107.7,718.5 L1109.7,718.7 L1111.7,718.8 L1113.7,718.9 L1115.7,719.0 L1117.7,719.1 L1119.7,719.2 L1121.7,719.3 L1123.7,719.5 L1125.7,719.6 L1127.7,719.7 L1129.7,719.8 L1131.7,720.0 L1133.7,720.1 L1135.7,720.2 L1137.7,720.3 L1139.7,720.5 L1141.7,720.6 L1143.7,720.7 L1145.7,720.8 L1147.7,720.9 L1149.7,721.0 L1151.7,721.1 L1153.7,721.2 L1155.7,721.3 L1157.7,721.4 L1159.7,721.5 L1161.7,721.6 L1163.7,721.6 L1165.7,721.7 L1167.7,721.8 L1169.7,721.9 L1171.7,721.9 L1173.7,722.0 L1175.7,722.0 L1177.7,722.1 L1179.7,722.2 L1181.7,722.2 L1183.7,722.3 L1185.7,722.3 L1187.7,722.4 L1189.7,722.4 L1191.7,722.5 L1193.7,722.5 L1195.7,722.5 L1197.7,722.6 L1199.7,722.6 L1201.7,722.7 L1203.7,722.7 L1205.7,722.7 L1207.7,722.8 L1209.7,722.8 L1211.7,722.9 L1213.7,722.9 L1215.7,722.9 L1217.7,723.0 L1219.7,723.0 L1221.7,723.0 L1223.7,723.1 L1225.7,723.1 L1227.7,723.1 L1229.7,723.2 L1231.7,723.2 L1233.7,723.2 L1235.7,723.2 L1237.7,723.3 L1239.7,723.3 L1241.7,723.3 L1243.8,723.3 L1245.8,723.3 L1247.8,723.4 L1249.8,723.4 L1251.8,723.4 L1253.8,723.4 L1255.8,723.4 L1257.8,723.5 L1259.8,723.5 L1261.8,723.5 L1263.8,723.5 L1265.8,723.5 L1267.8,723.5 L1269.8,723.6 L1271.8,723.6 L1273.8,723.6 L1275.8,723.6 L1277.8,723.6 L1279.8,723.7 L1281.8,723.7 L1283.8,723.7" fill="none" stroke="#4DBEEE" stroke-width="10.4" stroke-linejoin="round" stroke-linecap="butt" stroke-dasharray="31.3 31.8"/>
<path d="M1283.8,723.7 L1285.8,723.7 L1287.8,723.7 L1289.8,723.7 L1291.8,723.7 L1293.8,723.7 L1295.8,723.7 L1297.8,723.7 L1299.8,723.7 L1301.8,723.7 L1303.8,723.7 L1305.8,723.7 L1307.8,723.7 L1309.8,723.7 L1311.8,723.7 L1313.8,723.7 L1315.8,723.7 L1317.8,723.7 L1319.8,723.7 L1321.8,723.7 L1323.8,723.7 L1325.8,723.7 L1327.8,723.7 L1329.8,723.7 L1331.8,723.7 L1333.8,723.7 L1335.8,723.7 L1337.8,723.7 L1339.8,723.7 L1341.8,723.7 L1343.8,723.7 L1345.8,723.7 L1347.8,723.6 L1349.8,723.6 L1351.8,723.6 L1353.8,723.6 L1355.8,723.6 L1357.8,723.6 L1359.8,723.6 L1361.8,723.6 L1363.8,723.6 L1365.8,723.6 L1367.8,723.6 L1369.8,723.6 L1371.8,723.5 L1373.8,723.5 L1375.8,723.5 L1377.8,723.5 L1379.8,723.5 L1381.8,723.5 L1383.8,723.4 L1385.8,723.4 L1387.8,723.4 L1389.8,723.4 L1391.8,723.4 L1393.8,723.3 L1395.8,723.3 L1397.8,723.3 L1399.8,723.3 L1401.8,723.3 L1403.8,723.2 L1405.8,723.2 L1407.8,723.2 L1409.8,723.2 L1411.8,723.2 L1413.8,723.2 L1415.8,723.2 L1417.8,723.1 L1419.8,723.1 L1421.8,723.1 L1423.8,723.1 L1425.8,723.1 L1427.8,723.1 L1429.8,723.1 L1431.8,723.1 L1433.8,723.1 L1435.9,723.1 L1437.9,723.1 L1439.9,723.1 L1441.9,723.1 L1443.9,723.1 L1445.9,723.1 L1447.9,723.1 L1449.9,723.1 L1451.9,723.1 L1453.9,723.1 L1455.9,723.1 L1457.9,723.2 L1459.9,723.2 L1461.9,723.2 L1463.9,723.2 L1465.9,723.2 L1467.9,723.2 L1469.9,723.2 L1471.9,723.2 L1473.9,723.2 L1475.9,723.2 L1477.9,723.2 L1479.9,723.2 L1481.9,723.2 L1483.9,723.2 L1485.9,723.2 L1487.9,723.2 L1489.9,723.2 L1491.9,723.2 L1493.9,723.2 L1495.9,723.2 L1497.9,723.2 L1499.9,723.1 L1501.9,723.1 L1503.9,723.1 L1505.9,723.1 L1507.9,723.1 L1509.9,723.1 L1511.9,723.1 L1513.9,723.0 L1515.9,723.0 L1517.9,723.0 L1519.9,723.0 L1521.9,723.0 L1523.9,722.9 L1525.9,722.9 L1527.9,722.9 L1529.9,722.9 L1531.9,722.9 L1533.9,722.9 L1535.9,722.8 L1537.9,722.8 L1539.9,722.8 L1541.9,722.8 L1543.9,722.8 L1545.9,722.7 L1547.9,722.7 L1549.9,722.7 L1551.9,722.7 L1553.9,722.7 L1555.9,722.7 L1557.9,722.7 L1559.9,722.6 L1561.9,722.6 L1563.9,722.6 L1565.9,722.6 L1567.9,722.6 L1569.9,722.6 L1571.9,722.6 L1573.9,722.5 L1575.9,722.5 L1577.9,722.5 L1579.9,722.5 L1581.9,722.5 L1583.9,722.5 L1585.9,722.5 L1587.9,722.4 L1589.9,722.4 L1591.9,722.4 L1593.9,722.4 L1595.9,722.4 L1597.9,722.4 L1599.9,722.4 L1601.9,722.4 L1603.9,722.3 L1605.9,722.3 L1607.9,722.3 L1609.9,722.3 L1611.9,722.3 L1613.9,722.3 L1615.9,722.3 L1617.9,722.3 L1619.9,722.3 L1621.9,722.3 L1623.9,722.3 L1625.9,722.3 L1627.9,722.3 L1629.9,722.3 L1631.9,722.3 L1633.9,722.3 L1635.9,722.3 L1637.9,722.3 L1639.9,722.3 L1641.9,722.3 L1643.9,722.3 L1645.9,722.3 L1647.9,722.3 L1649.9,722.3 L1651.9,722.3 L1653.9,722.3 L1655.9,722.3 L1657.9,722.3 L1659.9,722.3 L1661.9,722.3 L1663.9,722.3 L1665.9,722.3 L1667.9,722.3 L1669.9,722.3 L1671.9,722.3 L1673.9,722.3 L1675.9,722.3 L1677.9,722.3 L1679.9,722.3 L1681.9,722.3 L1683.9,722.3 L1685.9,722.3 L1687.9,722.3 L1689.9,722.2 L1691.9,722.2 L1693.9,722.2 L1695.9,722.2 L1697.9,722.2 L1699.9,722.2 L1701.9,722.2 L1703.9,722.1 L1705.9,722.1 L1707.9,722.1 L1709.9,722.1 L1711.9,722.1 L1713.9,722.1 L1715.9,722.0 L1717.9,722.0 L1719.9,722.0 L1721.9,722.0 L1723.9,722.0 L1725.9,722.0 L1727.9,722.0 L1729.9,722.0 L1731.9,721.9 L1733.9,721.9 L1735.9,721.9 L1737.9,721.9 L1739.9,721.9 L1742.0,721.9 L1744.0,721.9 L1746.0,721.9 L1748.0,721.9 L1750.0,721.9 L1752.0,721.9 L1754.0,721.9 L1756.0,721.9 L1758.0,721.9 L1760.0,721.9 L1762.0,721.9 L1764.0,721.9 L1766.0,721.9 L1768.0,721.9 L1770.0,721.9 L1772.0,721.9 L1774.0,721.9 L1776.0,721.9 L1778.0,721.9 L1780.0,721.9 L1782.0,721.9 L1784.0,721.9 L1786.0,721.9 L1788.0,721.9 L1790.0,721.9 L1792.0,721.9 L1794.0,721.9 L1796.0,721.9 L1798.0,721.9 L1800.0,721.9 L1802.0,721.9 L1804.0,721.9 L1806.0,721.9 L1808.0,721.9 L1810.0,721.9 L1812.0,721.9 L1814.0,721.9 L1816.0,721.9 L1818.0,721.9 L1820.0,721.8 L1822.0,721.8 L1824.0,721.8 L1826.0,721.8 L1828.0,721.8 L1830.0,721.8 L1832.0,721.8 L1834.0,721.8 L1836.0,721.8 L1838.0,721.7 L1840.0,721.7 L1842.0,721.7 L1844.0,721.7 L1846.0,721.7 L1848.0,721.7 L1850.0,721.7 L1852.0,721.7 L1854.0,721.7 L1856.0,721.7 L1858.0,721.7 L1860.0,721.7 L1862.0,721.7 L1864.0,721.7 L1866.0,721.7 L1868.0,721.7 L1870.0,721.7 L1872.0,721.7 L1874.0,721.8 L1876.0,721.8 L1878.0,721.8 L1880.0,721.8 L1882.0,721.9 L1884.0,721.9 L1886.0,722.0 L1888.0,722.0 L1890.0,722.0 L1892.0,722.1 L1894.0,722.1 L1896.0,722.1 L1898.0,722.2 L1900.0,722.2 L1902.6,722.3 L1905.2,722.4 L1907.9,722.5 L1910.6,722.5 L1913.3,722.6 L1915.9,722.7 L1918.6,722.8 L1921.2,722.9 L1923.7,723.0 L1926.1,723.1 L1928.4,723.2 L1930.6,723.3 L1932.1,723.4 L1933.5,723.5 L1934.8,723.6 L1936.2,723.6 L1937.4,723.7 L1938.7,723.8 L1939.9,723.9 L1941.1,724.0 L1942.4,724.1 L1943.6,724.2 L1944.9,724.4 L1946.2,724.5 L1947.6,724.7 L1949.1,724.8 L1950.6,725.0 L1952.1,725.2 L1953.5,725.5 L1955.0,725.7 L1956.5,725.9 L1958.0,726.1 L1959.5,726.3 L1961.0,726.6 L1962.5,726.8 L1964.0,727.0" fill="none" stroke="#4DBEEE" stroke-width="10.4" stroke-linejoin="round" stroke-linecap="butt" stroke-dasharray="31.3 31.8"/>
<path d="M1603,135.2 H1761" stroke="#0072BD" stroke-width="10.4" fill="none"/>
<text x="1772" y="145.0" font-family="'Liberation Serif', serif" font-size="55.3" fill="#000" textLength="167.8" lengthAdjust="spacingAndGlyphs">PTCG3</text>
<path d="M1603,211.9 H1761" stroke="#D95319" stroke-width="10.4" fill="none"/>
<text x="1772" y="221.7" font-family="'Liberation Serif', serif" font-size="55.3" fill="#000" textLength="167.8" lengthAdjust="spacingAndGlyphs">PTCG4</text>
<path d="M1603,289.0 H1761" stroke="#EDB120" stroke-width="10.4" fill="none"/>
<text x="1772" y="298.8" font-family="'Liberation Serif', serif" font-size="55.3" fill="#000" textLength="167.8" lengthAdjust="spacingAndGlyphs">PTCG5</text>
<path d="M1603,365.1 H1761" stroke="#7E2F8E" stroke-width="10.4" fill="none" stroke-dasharray="31.4 31.7"/>
<text x="1772" y="374.9" font-family="'Liberation Serif', serif" font-size="55.3" fill="#000" textLength="174.2" lengthAdjust="spacingAndGlyphs">TSMG3</text>
<path d="M1603,442.2 H1761" stroke="#77AC30" stroke-width="10.4" fill="none" stroke-dasharray="31.4 31.7"/>
<text x="1772" y="452.0" font-family="'Liberation Serif', serif" font-size="55.3" fill="#000" textLength="174.2" lengthAdjust="spacingAndGlyphs">TSMG4</text>
<path d="M1603,518.6 H1761" stroke="#4DBEEE" stroke-width="10.4" fill="none" stroke-dasharray="31.4 31.7"/>
<text x="1772" y="528.4" font-family="'Liberation Serif', serif" font-size="55.3" fill="#000" textLength="174.2" lengthAdjust="spacingAndGlyphs">TSMG5</text>
</svg>
</body></html>
